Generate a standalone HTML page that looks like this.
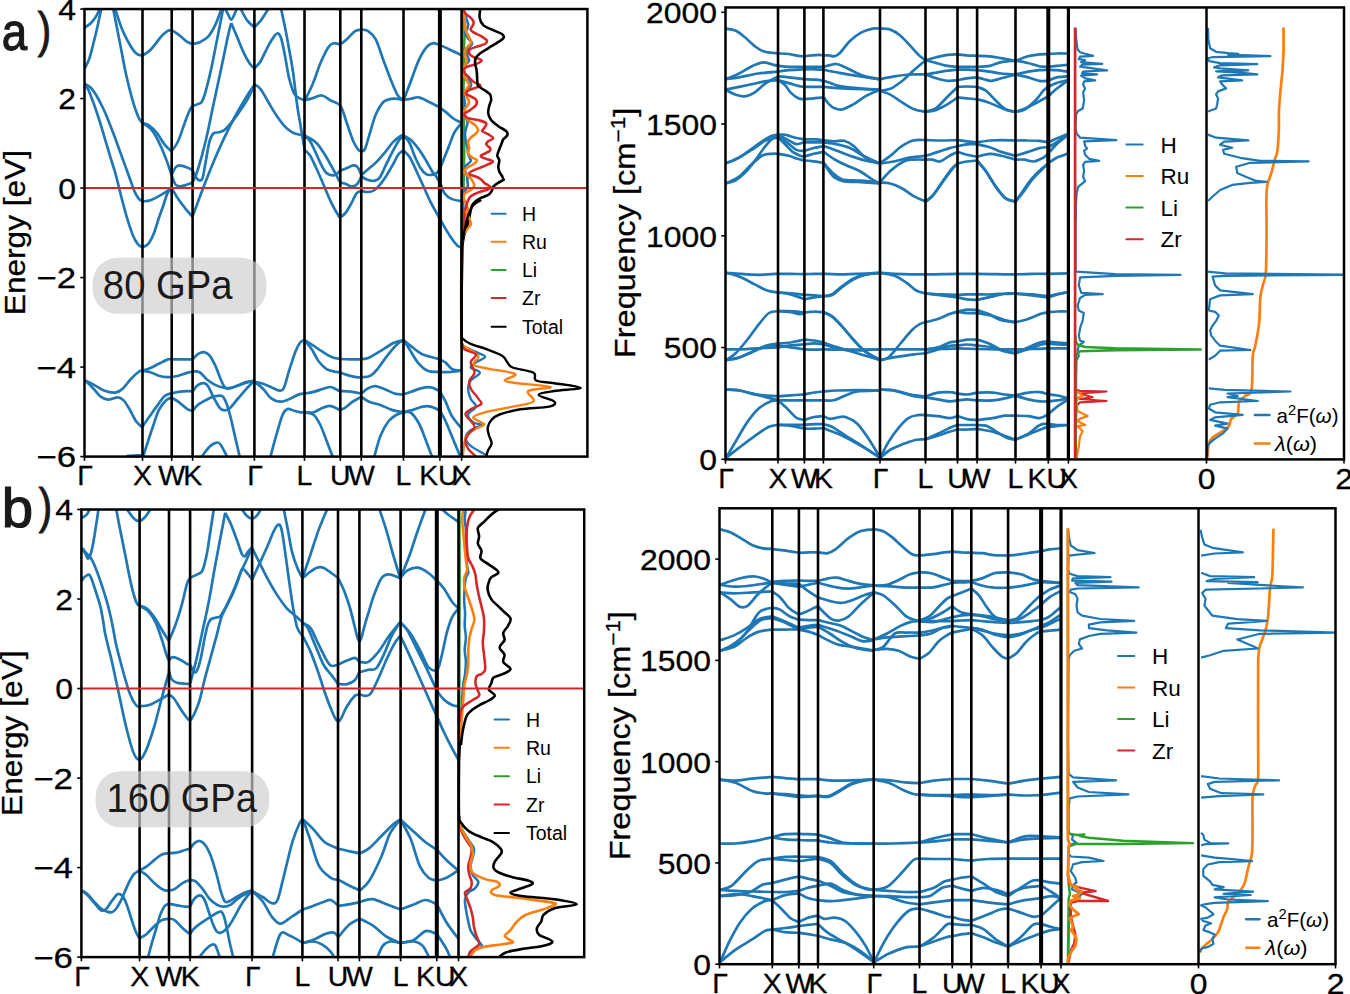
<!DOCTYPE html>
<html><head><meta charset="utf-8"><style>
html,body{margin:0;padding:0;background:#fff;width:1350px;height:994px;overflow:hidden}
svg{display:block}
</style></head><body>
<svg width="1350" height="994" viewBox="0 0 1350 994">
<rect x="0" y="0" width="1350" height="994" fill="#fff"/>
<clipPath id="cA"><rect x="84.5" y="9.1" width="502.9" height="447.6"/></clipPath>
<clipPath id="cB"><rect x="81.4" y="509.5" width="502.8" height="447.6"/></clipPath>
<clipPath id="cC"><rect x="725.5" y="7.5" width="618.5" height="451.9"/></clipPath>
<clipPath id="cD"><rect x="719.5" y="508.3" width="616.0" height="455.9"/></clipPath>
<path d="M84.7 27.5 C85.7 26.8 88.6 25.3 90.5 23.5 C92.3 21.8 94.0 19.6 95.7 17.0 C97.4 14.4 99.6 9.4 100.4 7.8" fill="none" stroke="#1f77b4" stroke-width="2.70" stroke-linejoin="round" stroke-linecap="butt" clip-path="url(#cA)"/>
<path d="M84.7 68.6 C85.5 66.9 87.8 62.9 89.2 58.9 C90.6 54.9 91.8 49.5 93.1 44.5 C94.4 39.5 95.6 34.9 97.0 28.8 C98.4 22.7 100.7 11.3 101.5 7.8" fill="none" stroke="#1f77b4" stroke-width="2.70" stroke-linejoin="round" stroke-linecap="butt" clip-path="url(#cA)"/>
<path d="M113.0 7.8 C114.0 13.1 117.1 28.3 119.2 39.2 C121.4 50.1 123.6 63.2 125.8 73.3 C128.0 83.3 130.3 92.2 132.3 99.4 C134.4 106.6 136.4 112.5 138.1 116.4 C139.7 120.4 141.6 121.9 142.3 123.0" fill="none" stroke="#1f77b4" stroke-width="2.70" stroke-linejoin="round" stroke-linecap="butt" clip-path="url(#cA)"/>
<path d="M114.8 7.8 C116.0 11.3 119.4 22.7 121.9 28.8 C124.3 34.9 127.3 40.3 129.7 44.5 C132.1 48.6 134.2 51.8 136.3 53.6 C138.3 55.5 141.3 55.4 142.3 55.7" fill="none" stroke="#1f77b4" stroke-width="2.70" stroke-linejoin="round" stroke-linecap="butt" clip-path="url(#cA)"/>
<path d="M142.3 55.7 C143.7 54.7 147.5 52.9 150.6 49.7 C153.8 46.5 158.3 39.8 161.1 36.6 C163.9 33.5 165.9 32.0 167.7 30.9 C169.4 29.8 170.9 30.2 171.6 30.1" fill="none" stroke="#1f77b4" stroke-width="2.70" stroke-linejoin="round" stroke-linecap="butt" clip-path="url(#cA)"/>
<path d="M142.3 123.0 C143.4 123.4 146.8 123.8 149.3 125.6 C151.8 127.3 154.6 130.2 157.2 133.4 C159.8 136.7 162.6 142.2 165.0 145.2 C167.4 148.2 170.5 150.2 171.6 151.2" fill="none" stroke="#1f77b4" stroke-width="2.70" stroke-linejoin="round" stroke-linecap="butt" clip-path="url(#cA)"/>
<path d="M142.3 123.0 C143.7 123.9 147.9 125.7 150.6 128.7 C153.3 131.8 155.9 136.1 158.5 141.3 C161.1 146.4 164.2 153.9 166.3 159.6 C168.5 165.3 170.7 172.7 171.6 175.3" fill="none" stroke="#1f77b4" stroke-width="2.70" stroke-linejoin="round" stroke-linecap="butt" clip-path="url(#cA)"/>
<path d="M142.3 201.5 C143.7 201.2 147.5 201.2 150.6 200.2 C153.8 199.1 157.6 197.0 161.1 194.9 C164.6 192.9 169.8 189.0 171.6 187.9" fill="none" stroke="#1f77b4" stroke-width="2.70" stroke-linejoin="round" stroke-linecap="butt" clip-path="url(#cA)"/>
<path d="M171.6 30.1 C172.9 31.0 176.8 33.4 179.4 35.3 C182.0 37.3 185.1 40.4 187.3 41.9 C189.5 43.3 191.6 43.6 192.5 44.0" fill="none" stroke="#1f77b4" stroke-width="2.70" stroke-linejoin="round" stroke-linecap="butt" clip-path="url(#cA)"/>
<path d="M171.6 151.2 C172.7 149.6 175.9 146.0 178.1 141.3 C180.3 136.6 182.7 128.2 184.7 123.0 C186.6 117.7 188.6 112.7 189.9 109.9 C191.2 107.1 192.1 106.6 192.5 106.0" fill="none" stroke="#1f77b4" stroke-width="2.70" stroke-linejoin="round" stroke-linecap="butt" clip-path="url(#cA)"/>
<path d="M171.6 175.3 C172.2 174.0 174.2 169.1 175.5 167.5 C176.8 165.8 177.5 165.4 179.4 165.4 C181.4 165.4 185.1 166.7 187.3 167.5 C189.5 168.2 191.6 169.6 192.5 170.1" fill="none" stroke="#1f77b4" stroke-width="2.70" stroke-linejoin="round" stroke-linecap="butt" clip-path="url(#cA)"/>
<path d="M171.6 175.3 C172.2 176.8 174.0 182.6 175.5 184.5 C177.0 186.3 178.8 186.3 180.7 186.3 C182.7 186.3 185.3 185.1 187.3 184.5 C189.2 183.8 191.6 182.9 192.5 182.6" fill="none" stroke="#1f77b4" stroke-width="2.70" stroke-linejoin="round" stroke-linecap="butt" clip-path="url(#cA)"/>
<path d="M171.6 187.9 C172.7 189.7 175.7 195.3 178.1 198.8 C180.5 202.4 183.6 206.3 186.0 209.3 C188.4 212.3 191.4 215.4 192.5 216.6" fill="none" stroke="#1f77b4" stroke-width="2.70" stroke-linejoin="round" stroke-linecap="butt" clip-path="url(#cA)"/>
<path d="M192.5 44.0 C193.8 43.6 197.7 43.1 200.4 41.9 C203.0 40.6 205.8 39.2 208.2 36.6 C210.6 34.0 212.8 30.1 214.7 26.2 C216.7 22.2 218.8 16.1 220.0 13.1 C221.1 10.0 221.3 8.7 221.5 7.8" fill="none" stroke="#1f77b4" stroke-width="2.70" stroke-linejoin="round" stroke-linecap="butt" clip-path="url(#cA)"/>
<path d="M192.5 106.0 C193.4 105.7 196.2 104.8 197.7 104.1 C199.3 103.5 200.4 104.1 201.7 102.0 C203.0 99.9 204.1 96.8 205.6 91.6 C207.1 86.3 209.1 78.5 210.8 70.6 C212.6 62.8 214.3 53.2 216.1 44.5 C217.8 35.8 220.1 24.4 221.3 18.3 C222.5 12.2 222.8 9.6 223.1 7.8" fill="none" stroke="#1f77b4" stroke-width="2.70" stroke-linejoin="round" stroke-linecap="butt" clip-path="url(#cA)"/>
<path d="M192.5 170.1 C193.2 171.4 195.1 176.2 196.4 177.9 C197.7 179.7 199.3 180.8 200.4 180.5 C201.4 180.3 202.1 179.7 203.0 176.6 C203.8 173.6 204.5 168.1 205.6 162.2 C206.7 156.3 208.2 146.1 209.5 141.3 C210.8 136.5 211.7 135.0 213.4 133.4 C215.2 131.9 217.8 133.0 220.0 132.1 C222.2 131.3 223.7 131.0 226.5 128.2 C229.4 125.4 233.5 119.9 237.0 115.1 C240.5 110.3 244.5 104.6 247.5 99.4 C250.4 94.3 253.6 86.8 254.8 84.2" fill="none" stroke="#1f77b4" stroke-width="2.70" stroke-linejoin="round" stroke-linecap="butt" clip-path="url(#cA)"/>
<path d="M192.5 182.6 C193.4 180.5 195.6 177.0 197.7 170.1 C199.9 163.2 203.0 152.2 205.6 141.3 C208.2 130.4 210.8 116.9 213.4 104.7 C216.1 92.4 218.9 79.4 221.3 68.0 C223.7 56.7 226.2 44.1 227.8 36.6 C229.5 29.1 230.7 25.3 231.2 23.0" fill="none" stroke="#1f77b4" stroke-width="2.70" stroke-linejoin="round" stroke-linecap="butt" clip-path="url(#cA)"/>
<path d="M231.2 23.0 C232.2 25.3 234.9 31.7 237.0 36.6 C239.0 41.5 241.3 47.7 243.5 52.3 C245.7 56.9 248.2 61.4 250.1 64.1 C251.9 66.8 254.0 67.8 254.8 68.6" fill="none" stroke="#1f77b4" stroke-width="2.70" stroke-linejoin="round" stroke-linecap="butt" clip-path="url(#cA)"/>
<path d="M192.5 216.6 C194.3 211.9 199.5 197.5 203.0 188.4 C206.5 179.3 209.9 170.5 213.4 162.2 C216.9 153.9 220.4 146.1 223.9 138.7 C227.4 131.3 230.9 124.3 234.4 117.7 C237.9 111.2 241.4 105.0 244.8 99.4 C248.2 93.8 253.1 86.8 254.8 84.2" fill="none" stroke="#1f77b4" stroke-width="2.70" stroke-linejoin="round" stroke-linecap="butt" clip-path="url(#cA)"/>
<path d="M224.7 7.8 C225.3 8.9 227.0 12.4 228.1 14.4 C229.2 16.4 230.2 19.6 231.2 19.6 C232.3 19.6 233.4 16.4 234.4 14.4 C235.3 12.4 236.5 8.9 237.0 7.8" fill="none" stroke="#1f77b4" stroke-width="2.70" stroke-linejoin="round" stroke-linecap="butt" clip-path="url(#cA)"/>
<path d="M240.1 7.8 C241.3 10.0 245.0 17.7 247.5 20.9 C249.9 24.2 253.6 26.4 254.8 27.5" fill="none" stroke="#1f77b4" stroke-width="2.70" stroke-linejoin="round" stroke-linecap="butt" clip-path="url(#cA)"/>
<path d="M84.5 83.8 C84.9 84.0 86.0 84.5 87.0 85.2 C88.0 85.9 89.5 86.5 90.8 87.7 C92.0 88.9 93.3 90.7 94.5 92.5 C95.7 94.3 96.9 96.3 98.1 98.5 C99.3 100.7 100.5 103.1 101.7 105.5 C102.9 107.9 104.1 110.3 105.3 113.0 C106.5 115.7 107.7 118.9 108.9 121.9 C110.1 124.9 111.3 127.9 112.5 131.1 C113.7 134.3 115.0 137.7 116.2 141.0 C117.4 144.3 118.6 147.7 119.8 151.0 C121.0 154.3 122.2 157.6 123.4 160.9 C124.6 164.2 125.8 167.5 127.0 170.8 C128.2 174.1 129.4 177.4 130.6 180.7 C131.8 184.0 133.1 188.1 134.2 190.7 C135.3 193.3 136.3 195.0 137.2 196.5 C138.1 198.0 138.8 199.0 139.7 199.8 C140.6 200.6 141.9 201.0 142.4 201.2" fill="none" stroke="#1f77b4" stroke-width="2.70" stroke-linejoin="round" stroke-linecap="butt" clip-path="url(#cA)"/>
<path d="M84.5 83.8 C84.8 84.2 85.8 85.2 86.5 86.5 C87.2 87.8 87.7 88.1 89.0 91.3 C90.3 94.5 92.7 100.6 94.5 105.7 C96.3 110.8 98.1 116.3 99.9 122.0 C101.7 127.7 103.5 134.1 105.3 140.1 C107.1 146.1 108.9 152.2 110.7 158.2 C112.5 164.2 114.4 169.7 116.2 176.3 C118.0 182.9 119.8 191.1 121.6 198.0 C123.4 204.9 125.2 211.9 127.0 217.9 C128.8 223.9 131.0 230.3 132.4 234.1 C133.8 237.9 134.6 238.8 135.5 240.5 C136.4 242.2 137.2 243.2 137.9 244.1 C138.7 245.0 139.2 245.6 140.0 246.0 C140.8 246.4 141.6 246.8 142.4 246.8 C143.2 246.8 144.2 246.6 145.0 246.2 C145.8 245.8 146.7 245.3 147.5 244.5 C148.3 243.7 148.9 243.3 150.0 241.4 C151.1 239.5 152.6 236.6 154.0 233.0 C155.4 229.4 156.8 224.3 158.2 220.0 C159.6 215.7 161.2 211.6 162.7 207.3 C164.2 203.0 165.6 197.4 167.1 194.1 C168.6 190.8 170.9 188.7 171.7 187.6" fill="none" stroke="#1f77b4" stroke-width="2.70" stroke-linejoin="round" stroke-linecap="butt" clip-path="url(#cA)"/>
<path d="M254.2 27.5 C255.2 26.4 258.5 23.3 260.5 20.9 C262.4 18.5 264.3 15.3 265.7 13.1 C267.1 10.9 268.3 8.7 268.8 7.8" fill="none" stroke="#1f77b4" stroke-width="2.70" stroke-linejoin="round" stroke-linecap="butt" clip-path="url(#cA)"/>
<path d="M254.2 68.6 C255.2 67.4 258.1 65.3 260.5 61.5 C262.8 57.7 265.9 50.1 268.3 45.8 C270.7 41.4 273.2 37.4 274.9 35.3 C276.5 33.3 277.2 32.8 278.3 33.5 C279.3 34.1 280.2 35.2 281.4 39.2 C282.6 43.3 284.0 51.0 285.3 57.6 C286.6 64.1 287.7 72.4 289.2 78.5 C290.8 84.6 292.5 90.8 294.5 94.2 C296.4 97.6 299.3 97.9 301.0 98.9 C302.8 99.9 304.3 100.0 304.9 100.2" fill="none" stroke="#1f77b4" stroke-width="2.70" stroke-linejoin="round" stroke-linecap="butt" clip-path="url(#cA)"/>
<path d="M254.2 84.2 C255.2 85.0 258.1 86.0 260.5 89.0 C262.8 91.9 265.7 97.7 268.3 102.0 C270.9 106.4 273.5 111.2 276.2 115.1 C278.8 119.0 281.4 122.8 284.0 125.6 C286.6 128.4 289.2 130.6 291.9 132.1 C294.5 133.7 297.5 134.2 299.7 134.7 C301.9 135.3 304.1 135.4 304.9 135.5" fill="none" stroke="#1f77b4" stroke-width="2.70" stroke-linejoin="round" stroke-linecap="butt" clip-path="url(#cA)"/>
<path d="M280.9 7.8 C281.6 11.3 283.9 21.8 285.3 28.8 C286.7 35.8 287.9 42.3 289.2 49.7 C290.6 57.1 291.9 64.1 293.2 73.3 C294.5 82.4 295.8 95.5 297.1 104.7 C298.4 113.8 299.9 121.7 301.0 128.2 C302.1 134.7 303.0 140.4 303.6 143.9 C304.3 147.4 304.7 148.3 304.9 149.1" fill="none" stroke="#1f77b4" stroke-width="2.70" stroke-linejoin="round" stroke-linecap="butt" clip-path="url(#cA)"/>
<path d="M304.9 100.2 C306.3 97.5 310.2 90.0 312.8 83.7 C315.4 77.5 318.0 68.9 320.6 62.8 C323.3 56.7 326.3 50.4 328.5 47.1 C330.7 43.8 331.7 43.7 333.7 43.2 C335.7 42.6 338.3 44.6 340.5 44.0 C342.7 43.3 344.5 41.3 346.8 39.2 C349.2 37.2 352.2 33.0 354.7 31.4 C357.1 29.8 359.3 29.7 361.5 29.6 C363.6 29.5 365.4 29.3 367.7 30.9 C370.1 32.5 373.0 34.4 375.6 39.2 C378.2 44.1 380.8 53.2 383.4 60.2 C386.1 67.2 388.9 75.2 391.3 81.1 C393.7 87.0 395.8 92.3 397.8 95.5 C399.9 98.7 402.6 99.4 403.6 100.2" fill="none" stroke="#1f77b4" stroke-width="2.70" stroke-linejoin="round" stroke-linecap="butt" clip-path="url(#cA)"/>
<path d="M304.9 100.2 C306.3 99.9 310.0 98.9 312.8 98.1 C315.6 97.3 318.9 95.1 322.0 95.5 C325.0 95.9 328.0 99.0 331.1 100.7 C334.2 102.5 337.9 102.3 340.5 106.0 C343.1 109.7 344.7 117.1 346.8 123.0 C348.9 128.9 351.5 136.9 353.3 141.3 C355.2 145.6 356.4 147.4 357.8 149.1 C359.1 150.8 360.2 151.6 361.5 151.5 C362.7 151.4 363.9 151.2 365.1 148.6 C366.4 146.0 367.3 141.6 369.0 136.1 C370.8 130.5 373.2 120.8 375.6 115.1 C378.0 109.5 380.8 104.7 383.4 102.0 C386.1 99.3 388.9 99.4 391.3 98.9 C393.7 98.4 395.8 98.7 397.8 98.9 C399.9 99.1 402.6 100.0 403.6 100.2" fill="none" stroke="#1f77b4" stroke-width="2.70" stroke-linejoin="round" stroke-linecap="butt" clip-path="url(#cA)"/>
<path d="M304.4 135.5 C306.2 136.6 312.4 139.3 315.5 142.1 C318.6 144.9 320.6 148.2 323.2 152.1 C325.8 156.0 328.8 161.5 331.0 165.4 C333.2 169.3 335.0 172.6 336.5 175.4 C338.0 178.2 338.6 180.6 340.1 182.0 C341.6 183.4 343.6 183.0 345.4 183.7 C347.2 184.4 349.3 186.1 351.0 186.4 C352.7 186.7 354.2 186.2 355.5 185.5 C356.8 184.8 357.6 183.7 358.5 182.2 C359.4 180.7 360.8 177.5 361.2 176.6" fill="none" stroke="#1f77b4" stroke-width="2.70" stroke-linejoin="round" stroke-linecap="butt" clip-path="url(#cA)"/>
<path d="M304.4 135.5 C305.3 136.4 308.0 138.2 309.9 141.0 C311.8 143.8 313.6 148.2 315.5 152.1 C317.4 156.0 319.2 160.8 321.0 164.3 C322.8 167.8 324.6 171.2 326.5 173.1 C328.4 174.9 330.4 175.2 332.1 175.4 C333.8 175.6 335.2 174.9 336.5 174.2 C337.8 173.4 338.6 171.8 340.1 170.9 C341.6 170.0 343.2 169.6 345.4 168.7 C347.6 167.8 351.2 165.8 353.1 165.4 C355.0 165.0 355.5 165.5 356.5 166.2 C357.5 166.9 358.2 168.0 359.0 169.5 C359.8 171.0 360.8 174.2 361.2 175.1" fill="none" stroke="#1f77b4" stroke-width="2.70" stroke-linejoin="round" stroke-linecap="butt" clip-path="url(#cA)"/>
<path d="M304.4 149.9 C305.3 150.8 308.0 152.5 309.9 155.3 C311.8 158.1 313.6 162.6 315.5 166.5 C317.4 170.4 319.2 174.5 321.0 178.7 C322.8 182.9 324.7 187.7 326.5 191.9 C328.3 196.1 330.1 200.4 332.0 204.1 C333.9 207.8 336.2 212.0 337.6 214.1 C339.0 216.2 338.8 217.1 340.1 216.9 C341.4 216.7 343.6 215.1 345.4 213.0 C347.2 210.9 349.1 207.3 350.9 204.1 C352.7 200.9 354.7 195.8 356.4 193.6 C358.1 191.4 360.4 191.3 361.2 190.9" fill="none" stroke="#1f77b4" stroke-width="2.70" stroke-linejoin="round" stroke-linecap="butt" clip-path="url(#cA)"/>
<path d="M361.2 175.1 C362.2 174.2 365.0 172.0 367.5 169.8 C370.0 167.6 373.4 165.1 376.3 162.1 C379.2 159.1 382.4 155.4 385.2 152.1 C388.0 148.8 390.4 144.8 393.0 142.1 C395.6 139.4 399.0 137.1 400.7 136.0 C402.4 134.9 402.7 135.6 403.1 135.5" fill="none" stroke="#1f77b4" stroke-width="2.70" stroke-linejoin="round" stroke-linecap="butt" clip-path="url(#cA)"/>
<path d="M361.2 176.6 C362.2 177.1 365.4 179.1 367.5 179.8 C369.6 180.5 372.1 181.3 374.1 180.9 C376.1 180.5 377.9 180.0 379.7 177.6 C381.5 175.2 383.2 170.6 385.2 166.5 C387.2 162.4 389.6 157.4 391.8 153.2 C394.0 148.9 396.6 143.9 398.5 141.0 C400.4 138.1 402.3 136.8 403.1 136.0" fill="none" stroke="#1f77b4" stroke-width="2.70" stroke-linejoin="round" stroke-linecap="butt" clip-path="url(#cA)"/>
<path d="M361.2 190.9 C362.2 191.1 365.5 192.0 367.5 192.0 C369.5 192.0 371.1 191.8 373.0 190.9 C374.9 190.0 376.6 188.6 378.6 186.4 C380.6 184.2 382.8 181.3 385.2 177.6 C387.6 173.9 390.8 168.2 393.0 164.3 C395.2 160.4 396.8 156.6 398.5 154.3 C400.2 152.0 402.3 151.1 403.1 150.4" fill="none" stroke="#1f77b4" stroke-width="2.70" stroke-linejoin="round" stroke-linecap="butt" clip-path="url(#cA)"/>
<path d="M403.4 135.5 C404.6 136.2 408.1 137.3 410.7 139.7 C413.3 142.0 416.5 146.1 419.1 149.6 C421.7 153.1 424.1 157.3 426.2 160.8 C428.3 164.3 430.2 168.1 431.8 170.7 C433.4 173.3 434.6 174.2 436.0 176.3 C437.4 178.4 438.9 180.6 440.3 183.4 C441.7 186.2 442.6 190.6 444.5 193.2 C446.4 195.8 448.7 197.6 451.5 198.9 C454.3 200.2 459.8 200.9 461.5 201.3" fill="none" stroke="#1f77b4" stroke-width="2.70" stroke-linejoin="round" stroke-linecap="butt" clip-path="url(#cA)"/>
<path d="M403.4 135.5 C404.4 136.7 407.4 139.0 409.3 142.5 C411.2 146.0 413.0 152.4 414.9 156.6 C416.8 160.8 418.6 165.0 420.5 167.9 C422.4 170.8 424.3 173.0 426.2 174.2 C428.1 175.4 430.2 175.0 431.8 174.9 C433.4 174.8 434.7 174.4 436.0 173.5 C437.3 172.6 438.3 171.4 439.5 169.3 C440.7 167.2 441.6 164.6 443.1 160.8 C444.6 157.1 446.8 151.5 448.7 146.8 C450.6 142.1 452.2 136.6 454.3 132.7 C456.4 128.8 460.3 124.8 461.5 123.2" fill="none" stroke="#1f77b4" stroke-width="2.70" stroke-linejoin="round" stroke-linecap="butt" clip-path="url(#cA)"/>
<path d="M403.4 150.3 C404.4 151.4 407.1 153.2 409.3 156.6 C411.5 160.0 414.0 165.8 416.3 170.7 C418.6 175.6 421.0 181.0 423.4 186.2 C425.8 191.4 428.1 197.0 430.4 201.7 C432.7 206.4 435.0 210.2 437.4 214.4 C439.8 218.6 442.1 223.0 444.5 227.0 C446.9 231.0 449.4 235.2 451.5 238.3 C453.6 241.4 455.5 243.9 457.2 245.4 C458.9 246.9 460.8 247.2 461.5 247.5" fill="none" stroke="#1f77b4" stroke-width="2.70" stroke-linejoin="round" stroke-linecap="butt" clip-path="url(#cA)"/>
<path d="M403.6 100.1 C404.8 96.9 408.4 87.7 410.9 81.0 C413.4 74.4 416.1 65.8 418.8 60.1 C421.4 54.5 424.2 49.9 426.6 47.1 C429.0 44.2 431.0 43.5 433.1 43.1 C435.2 42.8 436.8 44.1 439.2 45.0 C441.5 45.8 444.8 47.1 447.5 48.4 C450.2 49.6 453.0 51.1 455.4 52.3 C457.8 53.5 460.8 54.9 461.9 55.4" fill="none" stroke="#1f77b4" stroke-width="2.70" stroke-linejoin="round" stroke-linecap="butt" clip-path="url(#cA)"/>
<path d="M403.6 100.1 C404.8 99.9 408.4 99.3 410.9 98.8 C413.4 98.3 416.1 96.9 418.8 97.3 C421.4 97.6 424.0 99.4 426.6 100.7 C429.2 101.9 432.4 103.5 434.4 104.6 C436.5 105.7 437.2 105.9 439.2 107.2 C441.1 108.5 443.7 110.5 446.2 112.4 C448.7 114.4 451.4 117.2 454.1 119.0 C456.7 120.7 460.6 122.2 461.9 122.9" fill="none" stroke="#1f77b4" stroke-width="2.70" stroke-linejoin="round" stroke-linecap="butt" clip-path="url(#cA)"/>
<path d="M85.3 380.7 C86.8 381.4 91.0 383.2 94.1 384.9 C97.2 386.5 100.4 389.2 103.9 390.5 C107.4 391.8 112.1 392.9 115.2 392.6 C118.2 392.4 119.6 391.3 122.2 389.1 C124.8 386.9 127.9 382.2 130.7 379.3 C133.5 376.3 137.2 372.9 139.1 371.5 C141.0 370.1 141.7 370.9 142.2 370.8" fill="none" stroke="#1f77b4" stroke-width="2.70" stroke-linejoin="round" stroke-linecap="butt" clip-path="url(#cA)"/>
<path d="M85.3 380.7 C86.6 381.8 90.0 385.0 92.7 387.7 C95.3 390.4 98.5 394.9 101.1 396.9 C103.7 398.8 105.3 399.6 108.1 399.7 C111.0 399.7 115.4 397.2 118.0 397.3 C120.6 397.4 121.8 398.4 123.6 400.4 C125.5 402.3 127.1 405.3 129.3 408.8 C131.4 412.3 134.1 418.4 136.3 421.5 C138.5 424.5 141.2 426.2 142.2 427.1" fill="none" stroke="#1f77b4" stroke-width="2.70" stroke-linejoin="round" stroke-linecap="butt" clip-path="url(#cA)"/>
<path d="M126.4 456.0 C128.1 455.9 133.7 455.5 136.3 455.4 C138.9 455.3 141.2 455.2 142.2 455.1" fill="none" stroke="#1f77b4" stroke-width="2.70" stroke-linejoin="round" stroke-linecap="butt" clip-path="url(#cA)"/>
<path d="M142.2 370.8 C143.6 370.3 147.6 369.2 150.4 368.0 C153.1 366.8 156.0 365.2 158.8 363.8 C161.6 362.4 165.2 360.3 167.3 359.6 C169.4 358.8 170.8 359.3 171.5 359.3" fill="none" stroke="#1f77b4" stroke-width="2.70" stroke-linejoin="round" stroke-linecap="butt" clip-path="url(#cA)"/>
<path d="M142.2 370.8 C143.6 371.1 147.6 371.4 150.4 372.2 C153.1 373.0 156.0 374.9 158.8 375.7 C161.6 376.6 165.2 377.0 167.3 377.1 C169.4 377.3 170.8 376.9 171.5 376.9" fill="none" stroke="#1f77b4" stroke-width="2.70" stroke-linejoin="round" stroke-linecap="butt" clip-path="url(#cA)"/>
<path d="M142.2 427.1 C143.3 425.5 146.7 420.5 149.0 417.3 C151.3 414.0 153.4 410.9 156.0 407.4 C158.6 403.9 161.9 398.5 164.4 396.2 C167.0 393.8 170.3 393.8 171.5 393.3" fill="none" stroke="#1f77b4" stroke-width="2.70" stroke-linejoin="round" stroke-linecap="butt" clip-path="url(#cA)"/>
<path d="M143.3 456.0 C144.0 453.7 145.9 447.6 147.6 442.6 C149.2 437.6 151.3 431.1 153.2 425.7 C155.1 420.3 156.7 414.4 158.8 410.2 C160.9 406.0 163.7 402.5 165.9 400.4 C168.0 398.3 170.5 398.0 171.5 397.6" fill="none" stroke="#1f77b4" stroke-width="2.70" stroke-linejoin="round" stroke-linecap="butt" clip-path="url(#cA)"/>
<path d="M171.5 359.3 C172.7 359.3 175.9 359.3 178.5 359.3 C181.1 359.3 184.6 359.3 187.0 359.3 C189.3 359.3 191.7 359.3 192.6 359.3" fill="none" stroke="#1f77b4" stroke-width="2.70" stroke-linejoin="round" stroke-linecap="butt" clip-path="url(#cA)"/>
<path d="M171.5 376.9 C172.7 376.7 175.9 376.4 178.5 375.7 C181.1 375.1 184.6 373.6 187.0 372.9 C189.3 372.2 191.7 371.8 192.6 371.5" fill="none" stroke="#1f77b4" stroke-width="2.70" stroke-linejoin="round" stroke-linecap="butt" clip-path="url(#cA)"/>
<path d="M171.5 393.3 C172.7 393.1 175.9 392.3 178.5 391.9 C181.1 391.6 184.6 391.3 187.0 391.2 C189.3 391.1 191.7 391.2 192.6 391.2" fill="none" stroke="#1f77b4" stroke-width="2.70" stroke-linejoin="round" stroke-linecap="butt" clip-path="url(#cA)"/>
<path d="M171.5 397.6 C172.7 398.3 175.9 399.9 178.5 401.8 C181.1 403.7 184.6 407.3 187.0 408.8 C189.3 410.3 191.7 410.6 192.6 410.9" fill="none" stroke="#1f77b4" stroke-width="2.70" stroke-linejoin="round" stroke-linecap="butt" clip-path="url(#cA)"/>
<path d="M192.6 359.3 C193.5 358.4 196.3 355.1 198.2 353.9 C200.1 352.8 202.0 352.0 203.9 352.2 C205.7 352.5 207.6 353.2 209.5 355.3 C211.4 357.5 213.2 361.2 215.1 365.2 C217.0 369.2 219.1 375.5 220.7 379.3 C222.4 383.0 223.6 386.2 225.0 387.7 C226.4 389.2 227.1 388.8 229.2 388.4 C231.3 388.1 234.8 386.7 237.6 385.6 C240.5 384.5 243.3 382.9 246.1 382.1 C248.9 381.3 253.1 380.9 254.5 380.7" fill="none" stroke="#1f77b4" stroke-width="2.70" stroke-linejoin="round" stroke-linecap="butt" clip-path="url(#cA)"/>
<path d="M192.6 371.5 C193.8 371.6 197.3 370.9 199.6 372.2 C202.0 373.5 204.1 377.1 206.7 379.3 C209.3 381.4 212.3 383.5 215.1 384.9 C217.9 386.3 220.7 387.2 223.6 387.7 C226.4 388.2 229.0 388.3 232.0 387.7 C235.1 387.1 238.1 385.4 241.9 384.2 C245.6 383.0 252.4 381.3 254.5 380.7" fill="none" stroke="#1f77b4" stroke-width="2.70" stroke-linejoin="round" stroke-linecap="butt" clip-path="url(#cA)"/>
<path d="M192.6 391.2 C193.5 390.2 196.3 386.2 198.2 384.9 C200.1 383.6 202.2 383.0 203.9 383.2 C205.5 383.4 206.4 383.9 208.1 386.3 C209.7 388.7 211.8 394.0 213.7 397.6 C215.6 401.1 217.7 405.3 219.3 407.4 C221.0 409.5 221.9 410.0 223.6 410.2 C225.2 410.5 226.8 410.7 229.2 408.8 C231.5 406.9 234.8 402.2 237.6 399.0 C240.5 395.7 243.3 392.2 246.1 389.1 C248.9 386.1 253.1 382.1 254.5 380.7" fill="none" stroke="#1f77b4" stroke-width="2.70" stroke-linejoin="round" stroke-linecap="butt" clip-path="url(#cA)"/>
<path d="M192.6 410.9 C193.5 409.9 195.9 406.5 198.2 404.6 C200.6 402.7 203.9 401.1 206.7 399.7 C209.5 398.3 212.5 396.7 215.1 396.2 C217.7 395.6 220.3 395.0 222.2 396.2 C224.0 397.3 225.0 399.7 226.4 403.2 C227.8 406.7 229.2 411.9 230.6 417.3 C232.0 422.7 233.3 429.0 234.8 435.6 C236.3 442.1 238.9 453.2 239.7 456.7" fill="none" stroke="#1f77b4" stroke-width="2.70" stroke-linejoin="round" stroke-linecap="butt" clip-path="url(#cA)"/>
<path d="M201.7 456.7 C203.0 455.0 207.0 449.2 209.5 446.8 C211.9 444.5 214.6 442.9 216.5 442.6 C218.4 442.2 219.0 442.4 220.7 444.7 C222.5 447.1 226.0 454.7 227.1 456.7" fill="none" stroke="#1f77b4" stroke-width="2.70" stroke-linejoin="round" stroke-linecap="butt" clip-path="url(#cA)"/>
<path d="M254.6 381.8 C256.0 382.2 260.0 382.8 263.0 383.8 C266.1 384.8 270.0 386.7 272.8 387.9 C275.7 389.0 278.2 390.8 280.1 390.6 C282.1 390.5 282.7 390.4 284.2 387.0 C285.7 383.7 287.2 376.7 289.1 370.7 C291.0 364.8 293.7 355.9 295.6 351.2 C297.5 346.4 299.0 344.1 300.5 342.2 C302.0 340.4 303.9 340.5 304.6 340.1" fill="none" stroke="#1f77b4" stroke-width="2.70" stroke-linejoin="round" stroke-linecap="butt" clip-path="url(#cA)"/>
<path d="M254.6 381.8 C256.0 383.0 260.3 385.9 263.0 388.7 C265.8 391.4 268.2 396.3 271.2 398.4 C274.2 400.6 277.7 401.7 281.0 401.7 C284.2 401.7 287.8 399.7 290.7 398.4 C293.7 397.2 296.6 395.2 298.9 394.4 C301.2 393.6 303.6 393.7 304.6 393.6" fill="none" stroke="#1f77b4" stroke-width="2.70" stroke-linejoin="round" stroke-linecap="butt" clip-path="url(#cA)"/>
<path d="M270.4 457.1 C271.3 453.6 274.0 443.0 276.1 435.9 C278.1 428.9 280.7 419.2 282.6 414.7 C284.5 410.3 285.6 409.7 287.5 409.0 C289.4 408.4 291.8 410.1 294.0 410.7 C296.2 411.2 298.8 412.0 300.5 412.3 C302.3 412.6 303.9 412.3 304.6 412.3" fill="none" stroke="#1f77b4" stroke-width="2.70" stroke-linejoin="round" stroke-linecap="butt" clip-path="url(#cA)"/>
<path d="M304.6 340.1 C305.8 340.9 309.1 342.8 311.9 344.7 C314.8 346.5 318.4 349.1 321.7 351.2 C325.0 353.2 328.5 355.6 331.5 356.9 C334.5 358.2 338.3 358.7 339.6 359.0" fill="none" stroke="#1f77b4" stroke-width="2.70" stroke-linejoin="round" stroke-linecap="butt" clip-path="url(#cA)"/>
<path d="M304.6 340.1 C305.8 341.7 309.6 346.1 311.9 349.6 C314.2 353.0 316.0 357.7 318.4 361.0 C320.9 364.2 323.9 367.3 326.6 369.1 C329.3 370.9 332.6 371.0 334.7 371.6 C336.9 372.1 338.8 372.2 339.6 372.4" fill="none" stroke="#1f77b4" stroke-width="2.70" stroke-linejoin="round" stroke-linecap="butt" clip-path="url(#cA)"/>
<path d="M304.6 393.6 C306.1 393.3 310.4 392.7 313.6 391.9 C316.7 391.1 320.5 389.5 323.3 388.7 C326.2 387.9 328.5 386.9 330.7 387.0 C332.8 387.2 334.9 388.8 336.4 389.5 C337.9 390.2 339.1 390.8 339.6 391.1" fill="none" stroke="#1f77b4" stroke-width="2.70" stroke-linejoin="round" stroke-linecap="butt" clip-path="url(#cA)"/>
<path d="M304.6 412.3 C306.1 412.3 310.7 413.0 313.6 412.3 C316.4 411.6 319.0 409.3 321.7 408.2 C324.4 407.1 327.4 405.8 329.9 405.8 C332.3 405.8 334.7 407.5 336.4 408.2 C338.0 408.9 339.1 409.6 339.6 409.9" fill="none" stroke="#1f77b4" stroke-width="2.70" stroke-linejoin="round" stroke-linecap="butt" clip-path="url(#cA)"/>
<path d="M304.6 412.3 C306.1 412.7 311.0 412.7 313.6 414.7 C316.1 416.8 317.9 420.2 320.1 424.5 C322.3 428.9 324.5 435.4 326.6 440.8 C328.7 446.3 331.8 454.4 332.8 457.1" fill="none" stroke="#1f77b4" stroke-width="2.70" stroke-linejoin="round" stroke-linecap="butt" clip-path="url(#cA)"/>
<path d="M339.6 359.0 C341.5 359.1 347.4 359.3 351.0 359.3 C354.7 359.4 359.6 359.3 361.3 359.3" fill="none" stroke="#1f77b4" stroke-width="2.70" stroke-linejoin="round" stroke-linecap="butt" clip-path="url(#cA)"/>
<path d="M339.6 372.4 C341.3 372.9 346.4 374.8 349.4 375.6 C352.4 376.4 355.6 377.0 357.6 377.3 C359.5 377.5 360.7 377.3 361.3 377.3" fill="none" stroke="#1f77b4" stroke-width="2.70" stroke-linejoin="round" stroke-linecap="butt" clip-path="url(#cA)"/>
<path d="M339.6 391.1 C341.5 391.2 347.4 391.2 351.0 391.6 C354.7 392.0 359.6 393.2 361.3 393.6" fill="none" stroke="#1f77b4" stroke-width="2.70" stroke-linejoin="round" stroke-linecap="butt" clip-path="url(#cA)"/>
<path d="M339.6 409.9 C340.4 409.6 342.4 409.6 344.5 408.2 C346.7 406.9 349.9 403.6 352.7 401.7 C355.5 399.8 359.9 397.6 361.3 396.8" fill="none" stroke="#1f77b4" stroke-width="2.70" stroke-linejoin="round" stroke-linecap="butt" clip-path="url(#cA)"/>
<path d="M361.3 359.3 C362.6 359.1 365.8 359.1 369.0 357.7 C372.1 356.3 376.3 353.6 380.4 351.2 C384.5 348.7 389.6 344.9 393.4 343.0 C397.3 341.2 401.8 340.6 403.5 340.1" fill="none" stroke="#1f77b4" stroke-width="2.70" stroke-linejoin="round" stroke-linecap="butt" clip-path="url(#cA)"/>
<path d="M361.3 377.3 C362.9 377.0 367.7 377.3 370.6 375.6 C373.5 374.0 376.0 370.7 378.7 367.5 C381.5 364.2 383.9 359.9 386.9 356.1 C389.9 352.3 393.9 347.3 396.7 344.7 C399.4 342.0 402.4 340.9 403.5 340.1" fill="none" stroke="#1f77b4" stroke-width="2.70" stroke-linejoin="round" stroke-linecap="butt" clip-path="url(#cA)"/>
<path d="M361.3 393.6 C362.3 392.7 365.0 389.9 367.3 388.7 C369.7 387.4 372.5 386.1 375.5 386.2 C378.5 386.4 382.0 388.3 385.3 389.5 C388.5 390.7 392.0 392.7 395.0 393.6 C398.1 394.4 402.1 394.2 403.5 394.4" fill="none" stroke="#1f77b4" stroke-width="2.70" stroke-linejoin="round" stroke-linecap="butt" clip-path="url(#cA)"/>
<path d="M361.3 396.8 C362.6 397.6 365.8 400.3 369.0 401.7 C372.1 403.1 376.6 403.6 380.4 405.0 C384.2 406.3 387.9 408.6 391.8 409.9 C395.6 411.1 401.6 411.9 403.5 412.3" fill="none" stroke="#1f77b4" stroke-width="2.70" stroke-linejoin="round" stroke-linecap="butt" clip-path="url(#cA)"/>
<path d="M374.2 457.1 C375.2 453.6 378.0 441.9 380.4 435.9 C382.8 430.0 385.8 424.8 388.5 421.3 C391.2 417.7 394.2 416.2 396.7 414.7 C399.2 413.3 402.4 412.7 403.5 412.3" fill="none" stroke="#1f77b4" stroke-width="2.70" stroke-linejoin="round" stroke-linecap="butt" clip-path="url(#cA)"/>
<path d="M403.5 340.1 C404.8 341.1 408.1 343.9 411.3 346.3 C414.5 348.7 418.0 352.3 422.8 354.4 C427.5 356.6 437.0 358.5 439.9 359.3" fill="none" stroke="#1f77b4" stroke-width="2.70" stroke-linejoin="round" stroke-linecap="butt" clip-path="url(#cA)"/>
<path d="M403.5 340.1 C404.6 341.7 407.3 345.8 409.7 349.6 C412.1 353.3 414.9 359.1 417.9 362.6 C420.8 366.1 424.0 369.2 427.6 370.7 C431.3 372.3 437.8 371.8 439.9 372.0" fill="none" stroke="#1f77b4" stroke-width="2.70" stroke-linejoin="round" stroke-linecap="butt" clip-path="url(#cA)"/>
<path d="M403.5 394.4 C405.1 393.8 409.8 392.2 413.0 391.1 C416.2 390.0 419.8 388.5 422.8 387.9 C425.7 387.2 428.0 386.8 430.9 387.4 C433.8 387.9 438.4 390.5 439.9 391.1" fill="none" stroke="#1f77b4" stroke-width="2.70" stroke-linejoin="round" stroke-linecap="butt" clip-path="url(#cA)"/>
<path d="M403.5 412.3 C405.1 411.9 409.8 410.8 413.0 409.9 C416.2 408.9 419.8 407.1 422.8 406.6 C425.7 406.1 428.0 405.9 430.9 406.6 C433.8 407.3 438.4 410.0 439.9 410.7" fill="none" stroke="#1f77b4" stroke-width="2.70" stroke-linejoin="round" stroke-linecap="butt" clip-path="url(#cA)"/>
<path d="M403.5 412.3 C404.8 412.4 408.7 411.1 411.3 413.1 C414.0 415.2 417.0 419.9 419.5 424.5 C421.9 429.1 423.9 435.4 426.0 440.8 C428.1 446.3 431.2 454.4 432.2 457.1" fill="none" stroke="#1f77b4" stroke-width="2.70" stroke-linejoin="round" stroke-linecap="butt" clip-path="url(#cA)"/>
<path d="M439.9 359.3 C440.8 359.9 443.5 361.0 445.6 362.6 C447.6 364.2 449.5 367.8 452.1 369.1 C454.7 370.5 459.6 370.5 461.0 370.7" fill="none" stroke="#1f77b4" stroke-width="2.70" stroke-linejoin="round" stroke-linecap="butt" clip-path="url(#cA)"/>
<path d="M439.9 372.0 C441.6 372.0 446.9 372.3 450.5 372.0 C454.0 371.8 459.3 371.0 461.0 370.7" fill="none" stroke="#1f77b4" stroke-width="2.70" stroke-linejoin="round" stroke-linecap="butt" clip-path="url(#cA)"/>
<path d="M439.9 391.1 C440.8 392.9 443.5 397.5 445.6 401.7 C447.6 405.9 449.5 412.0 452.1 416.4 C454.7 420.7 459.6 425.9 461.0 427.8" fill="none" stroke="#1f77b4" stroke-width="2.70" stroke-linejoin="round" stroke-linecap="butt" clip-path="url(#cA)"/>
<path d="M439.9 410.7 C440.8 412.4 443.3 416.2 445.6 421.3 C447.9 426.3 451.2 434.8 453.7 440.8 C456.2 446.8 459.4 454.4 460.6 457.1" fill="none" stroke="#1f77b4" stroke-width="2.70" stroke-linejoin="round" stroke-linecap="butt" clip-path="url(#cA)"/>
<path d="M81.2 518.1 C82.1 517.5 84.9 516.6 86.5 514.9 C88.0 513.3 89.7 509.3 90.4 508.1" fill="none" stroke="#1f77b4" stroke-width="2.70" stroke-linejoin="round" stroke-linecap="butt" clip-path="url(#cB)"/>
<path d="M81.2 548.1 C81.9 549.0 84.1 551.6 85.2 553.4 C86.2 555.1 86.9 558.4 87.8 558.6 C88.6 558.8 89.5 557.1 90.4 554.7 C91.3 552.3 92.1 548.6 93.0 544.2 C93.9 539.9 94.6 534.5 95.6 528.5 C96.6 522.5 98.2 511.5 98.7 508.1" fill="none" stroke="#1f77b4" stroke-width="2.70" stroke-linejoin="round" stroke-linecap="butt" clip-path="url(#cB)"/>
<path d="M116.0 508.1 C116.7 512.0 118.8 523.0 120.4 531.1 C122.1 539.3 123.9 548.6 125.7 557.3 C127.4 566.0 129.2 576.0 130.9 583.4 C132.6 590.8 134.7 598.0 136.1 601.7 C137.5 605.4 138.7 605.0 139.3 605.7" fill="none" stroke="#1f77b4" stroke-width="2.70" stroke-linejoin="round" stroke-linecap="butt" clip-path="url(#cB)"/>
<path d="M126.2 508.1 C127.4 509.8 131.3 515.9 133.5 518.1 C135.7 520.3 137.3 521.4 139.3 521.2 C141.2 521.0 143.3 518.9 145.3 516.8 C147.3 514.6 150.3 509.6 151.3 508.1" fill="none" stroke="#1f77b4" stroke-width="2.70" stroke-linejoin="round" stroke-linecap="butt" clip-path="url(#cB)"/>
<path d="M139.3 605.7 C140.5 606.1 144.1 606.3 146.6 608.3 C149.1 610.2 151.8 613.7 154.4 617.4 C157.0 621.1 159.9 626.6 162.3 630.5 C164.7 634.4 167.7 639.2 168.8 640.9" fill="none" stroke="#1f77b4" stroke-width="2.70" stroke-linejoin="round" stroke-linecap="butt" clip-path="url(#cB)"/>
<path d="M139.3 605.7 C140.7 606.5 145.2 608.1 147.9 610.9 C150.6 613.7 153.3 617.6 155.7 622.6 C158.1 627.7 160.5 635.7 162.3 640.9 C164.0 646.2 165.1 650.8 166.2 654.0 C167.3 657.3 168.4 659.5 168.8 660.6" fill="none" stroke="#1f77b4" stroke-width="2.70" stroke-linejoin="round" stroke-linecap="butt" clip-path="url(#cB)"/>
<path d="M139.3 706.3 C140.9 706.1 145.8 706.1 149.2 705.0 C152.6 703.9 156.4 701.5 159.7 699.8 C162.9 698.0 167.3 695.4 168.8 694.5" fill="none" stroke="#1f77b4" stroke-width="2.70" stroke-linejoin="round" stroke-linecap="butt" clip-path="url(#cB)"/>
<path d="M168.8 640.9 C169.9 638.3 173.2 631.4 175.3 625.3 C177.5 619.2 179.9 611.3 181.9 604.3 C183.8 597.4 185.7 587.8 187.1 583.4 C188.5 579.1 189.7 579.1 190.2 578.2" fill="none" stroke="#1f77b4" stroke-width="2.70" stroke-linejoin="round" stroke-linecap="butt" clip-path="url(#cB)"/>
<path d="M168.8 660.6 C169.5 660.0 171.0 657.4 172.7 657.2 C174.5 656.9 177.1 658.2 179.3 659.2 C181.4 660.3 184.0 662.2 185.8 663.2 C187.6 664.1 189.5 664.7 190.2 665.0" fill="none" stroke="#1f77b4" stroke-width="2.70" stroke-linejoin="round" stroke-linecap="butt" clip-path="url(#cB)"/>
<path d="M168.8 669.7 C169.2 671.2 170.1 676.7 171.4 678.9 C172.7 681.0 174.5 682.0 176.7 682.8 C178.8 683.6 182.2 683.3 184.5 683.6 C186.8 683.8 189.3 684.0 190.2 684.1" fill="none" stroke="#1f77b4" stroke-width="2.70" stroke-linejoin="round" stroke-linecap="butt" clip-path="url(#cB)"/>
<path d="M168.8 694.5 C169.7 695.2 172.1 696.1 174.0 698.5 C176.0 700.9 178.4 705.7 180.6 708.9 C182.8 712.2 185.5 716.1 187.1 718.1 C188.7 720.0 189.7 720.3 190.2 720.7" fill="none" stroke="#1f77b4" stroke-width="2.70" stroke-linejoin="round" stroke-linecap="butt" clip-path="url(#cB)"/>
<path d="M81.4 548.2 C81.8 548.4 82.7 548.6 83.5 549.5 C84.3 550.4 85.3 552.1 86.5 553.5 C87.7 554.9 89.3 555.6 90.7 557.7 C92.1 559.8 93.5 562.9 94.9 566.2 C96.3 569.5 97.7 573.5 99.1 577.5 C100.5 581.5 102.0 585.6 103.4 590.1 C104.8 594.6 106.4 599.9 107.6 604.2 C108.8 608.5 109.6 612.0 110.5 616.0 C111.4 620.0 112.1 623.3 113.0 628.0 C113.9 632.7 114.8 638.6 116.0 644.1 C117.2 649.6 118.9 655.6 120.3 661.0 C121.7 666.4 123.1 671.6 124.5 676.5 C125.9 681.4 127.3 686.6 128.7 690.6 C130.1 694.6 131.8 698.1 132.9 700.4 C134.0 702.7 134.8 703.3 135.5 704.3 C136.2 705.2 136.5 705.7 137.2 706.1 C137.9 706.5 139.2 706.7 139.6 706.8" fill="none" stroke="#1f77b4" stroke-width="2.70" stroke-linejoin="round" stroke-linecap="butt" clip-path="url(#cB)"/>
<path d="M81.4 581.0 C81.8 580.5 82.8 578.8 83.5 578.0 C84.2 577.2 84.9 576.7 85.7 576.1 C86.5 575.5 87.8 574.5 88.6 574.6 C89.4 574.7 89.9 575.1 90.7 576.8 C91.5 578.4 92.6 581.8 93.5 584.5 C94.4 587.2 95.1 589.2 96.3 593.0 C97.5 596.8 99.4 602.5 100.5 607.0 C101.6 611.5 102.2 615.7 103.0 620.0 C103.8 624.3 104.2 629.0 105.0 633.0 C105.8 637.0 106.5 639.4 107.6 644.1 C108.7 648.8 110.4 654.9 111.8 661.0 C113.2 667.1 114.6 674.1 116.0 680.7 C117.4 687.3 118.9 693.8 120.3 700.4 C121.7 707.0 123.1 714.0 124.5 720.1 C125.9 726.2 127.3 731.8 128.7 737.0 C130.1 742.2 131.6 747.6 132.9 751.1 C134.2 754.6 135.4 756.8 136.5 758.2 C137.6 759.6 138.5 759.8 139.6 759.6 C140.7 759.4 141.4 759.1 142.8 756.8 C144.2 754.4 146.1 750.6 148.0 745.5 C149.9 740.4 152.0 734.2 154.4 726.0 C156.8 717.8 159.9 704.8 162.3 696.0 C164.7 687.2 167.7 676.8 168.8 673.0" fill="none" stroke="#1f77b4" stroke-width="2.70" stroke-linejoin="round" stroke-linecap="butt" clip-path="url(#cB)"/>
<path d="M190.5 577.5 C191.5 577.1 194.9 575.6 196.8 574.6 C198.6 573.6 200.4 573.5 201.7 571.7 C203.0 569.9 203.6 567.4 204.6 563.8 C205.6 560.2 206.6 555.7 207.5 550.1 C208.5 544.5 209.4 537.5 210.5 530.5 C211.6 523.5 213.4 511.7 214.0 507.9" fill="none" stroke="#1f77b4" stroke-width="2.70" stroke-linejoin="round" stroke-linecap="butt" clip-path="url(#cB)"/>
<path d="M190.5 665.0 C190.9 665.9 192.0 669.5 192.8 670.7 C193.7 671.9 194.8 672.8 195.8 672.1 C196.8 671.3 197.7 669.2 198.7 666.2 C199.7 663.2 200.7 658.7 201.7 654.0 C202.6 649.4 203.6 643.1 204.6 638.3 C205.6 633.6 206.6 628.7 207.5 625.6 C208.5 622.5 209.2 621.0 210.5 619.7 C211.8 618.4 213.8 618.3 215.4 617.7 C217.0 617.2 218.4 617.7 219.9 616.4 C221.4 615.1 222.5 612.9 224.2 609.9 C225.9 606.9 228.1 602.4 230.1 598.1 C232.1 593.9 234.2 588.8 236.0 584.4 C237.8 580.0 239.4 575.1 240.9 571.7 C242.4 568.2 243.5 566.6 244.8 563.8 C246.1 561.0 247.5 557.8 248.7 555.0 C249.9 552.2 251.5 548.5 252.1 547.2" fill="none" stroke="#1f77b4" stroke-width="2.70" stroke-linejoin="round" stroke-linecap="butt" clip-path="url(#cB)"/>
<path d="M190.5 682.6 C191.5 678.5 194.7 666.6 196.8 657.9 C198.8 649.2 200.7 639.6 202.6 630.5 C204.6 621.3 206.6 613.2 208.5 603.0 C210.5 592.9 212.5 580.5 214.4 569.7 C216.4 558.9 218.5 547.8 220.3 538.3 C222.1 528.9 224.4 517.1 225.2 512.8" fill="none" stroke="#1f77b4" stroke-width="2.70" stroke-linejoin="round" stroke-linecap="butt" clip-path="url(#cB)"/>
<path d="M225.2 512.8 C226.2 514.8 229.1 520.0 231.1 524.6 C233.0 529.2 235.2 535.4 237.0 540.3 C238.8 545.2 240.6 551.3 241.9 554.0 C243.2 556.7 243.8 556.7 244.8 556.4 C245.8 556.0 246.5 553.6 247.7 552.1 C249.0 550.5 251.3 548.0 252.1 547.2" fill="none" stroke="#1f77b4" stroke-width="2.70" stroke-linejoin="round" stroke-linecap="butt" clip-path="url(#cB)"/>
<path d="M190.5 720.7 C191.2 719.4 193.3 716.3 194.8 712.8 C196.3 709.4 198.1 705.5 199.7 699.9 C201.3 694.3 202.8 686.5 204.6 679.5 C206.4 672.5 208.5 665.1 210.5 657.9 C212.5 650.8 214.6 643.1 216.4 636.4 C218.2 629.7 219.6 622.6 221.3 617.7 C222.9 612.8 224.4 610.7 226.2 607.0 C228.0 603.2 230.3 599.1 232.1 595.2 C233.9 591.3 235.5 587.4 237.0 583.4 C238.4 579.5 239.9 574.1 240.9 571.7 C241.9 569.2 241.9 568.6 242.8 568.7 C243.8 568.9 245.2 570.8 246.8 572.6 C248.3 574.4 251.2 578.4 252.1 579.5" fill="none" stroke="#1f77b4" stroke-width="2.70" stroke-linejoin="round" stroke-linecap="butt" clip-path="url(#cB)"/>
<path d="M241.1 507.9 C242.0 509.2 244.9 514.0 246.8 515.8 C248.6 517.6 250.3 518.9 252.1 518.7 C253.9 518.6 256.0 516.6 257.5 514.8 C259.1 513.0 260.8 509.1 261.5 507.9" fill="none" stroke="#1f77b4" stroke-width="2.70" stroke-linejoin="round" stroke-linecap="butt" clip-path="url(#cB)"/>
<path d="M252.1 548.1 C253.1 550.1 255.8 555.3 258.1 559.9 C260.4 564.5 262.9 569.9 265.9 575.6 C269.0 581.3 272.9 588.4 276.4 593.9 C279.9 599.3 283.3 604.3 286.8 608.3 C290.3 612.2 294.7 615.1 297.3 617.4 C299.9 619.7 301.6 621.3 302.5 622.1" fill="none" stroke="#1f77b4" stroke-width="2.70" stroke-linejoin="round" stroke-linecap="butt" clip-path="url(#cB)"/>
<path d="M252.1 579.5 C253.3 576.9 256.9 569.3 259.4 563.8 C261.9 558.4 264.8 552.3 267.2 546.8 C269.6 541.4 271.9 534.8 273.8 531.1 C275.6 527.4 277.2 524.8 278.5 524.6 C279.8 524.4 280.4 524.8 281.6 529.8 C282.8 534.8 284.2 545.7 285.5 554.7 C286.8 563.6 288.1 574.3 289.4 583.4 C290.8 592.6 292.1 602.2 293.4 609.6 C294.7 617.0 295.8 623.5 297.3 627.9 C298.8 632.2 301.6 634.4 302.5 635.7" fill="none" stroke="#1f77b4" stroke-width="2.70" stroke-linejoin="round" stroke-linecap="butt" clip-path="url(#cB)"/>
<path d="M283.7 508.9 C284.4 512.6 286.7 524.0 288.1 531.1 C289.5 538.3 290.5 546.0 292.1 552.1 C293.6 558.2 295.5 563.4 297.3 567.7 C299.0 572.1 301.6 576.5 302.5 578.2" fill="none" stroke="#1f77b4" stroke-width="2.70" stroke-linejoin="round" stroke-linecap="butt" clip-path="url(#cB)"/>
<path d="M302.5 578.2 C303.8 574.3 307.7 562.5 310.4 554.7 C313.0 546.8 316.0 537.2 318.2 531.1 C320.4 525.0 321.9 521.8 323.4 518.1 C325.0 514.4 326.7 510.4 327.4 508.9" fill="none" stroke="#1f77b4" stroke-width="2.70" stroke-linejoin="round" stroke-linecap="butt" clip-path="url(#cB)"/>
<path d="M302.5 578.2 C303.8 577.1 308.0 573.4 310.4 571.7 C312.8 569.9 314.7 568.4 316.9 567.7 C319.1 567.1 321.0 566.9 323.4 567.7 C325.8 568.6 328.8 571.2 331.3 573.0 C333.8 574.7 337.2 577.3 338.3 578.2" fill="none" stroke="#1f77b4" stroke-width="2.70" stroke-linejoin="round" stroke-linecap="butt" clip-path="url(#cB)"/>
<path d="M302.5 622.6 C303.8 623.5 307.7 624.4 310.4 627.9 C313.0 631.4 315.6 638.3 318.2 643.6 C320.8 648.8 323.9 655.5 326.0 659.2 C328.2 663.0 329.2 664.9 331.3 665.8 C333.3 666.7 337.2 664.7 338.3 664.5" fill="none" stroke="#1f77b4" stroke-width="2.70" stroke-linejoin="round" stroke-linecap="butt" clip-path="url(#cB)"/>
<path d="M302.5 622.6 C303.4 623.5 305.6 624.0 307.7 627.9 C309.9 631.8 313.0 640.1 315.6 646.2 C318.2 652.3 320.8 659.7 323.4 664.5 C326.0 669.3 328.8 671.7 331.3 674.9 C333.8 678.2 337.2 682.6 338.3 684.1" fill="none" stroke="#1f77b4" stroke-width="2.70" stroke-linejoin="round" stroke-linecap="butt" clip-path="url(#cB)"/>
<path d="M302.5 635.7 C303.8 638.3 307.7 645.3 310.4 651.4 C313.0 657.5 315.6 664.9 318.2 672.3 C320.8 679.7 323.6 689.1 326.0 695.8 C328.4 702.6 330.9 708.9 332.6 712.8 C334.2 716.8 335.0 717.9 336.0 719.4 C336.9 720.8 337.5 721.6 338.3 721.5 C339.2 721.3 339.8 720.9 341.2 718.3 C342.6 715.8 344.7 710.1 347.0 706.3 C349.2 702.6 352.8 697.8 354.8 695.8 C356.9 693.9 358.5 694.8 359.2 694.5" fill="none" stroke="#1f77b4" stroke-width="2.70" stroke-linejoin="round" stroke-linecap="butt" clip-path="url(#cB)"/>
<path d="M338.3 664.5 C339.8 663.8 344.2 661.6 347.0 660.6 C349.7 659.5 352.8 657.7 354.8 657.9 C356.9 658.2 358.5 661.2 359.2 661.9" fill="none" stroke="#1f77b4" stroke-width="2.70" stroke-linejoin="round" stroke-linecap="butt" clip-path="url(#cB)"/>
<path d="M338.3 684.1 C339.8 684.1 344.2 684.7 347.0 684.1 C349.7 683.4 352.8 682.1 354.8 680.2 C356.9 678.2 358.5 673.6 359.2 672.3" fill="none" stroke="#1f77b4" stroke-width="2.70" stroke-linejoin="round" stroke-linecap="butt" clip-path="url(#cB)"/>
<path d="M338.3 578.2 C339.3 580.4 342.4 586.3 344.3 591.3 C346.2 596.3 348.3 602.2 350.0 608.0 C351.7 613.8 353.3 621.2 354.5 626.0 C355.7 630.8 356.5 634.4 357.3 637.0 C358.1 639.6 358.7 641.5 359.4 641.5 C360.1 641.5 360.8 639.6 361.6 637.0 C362.5 634.4 363.3 630.3 364.5 626.0 C365.7 621.7 367.5 615.9 369.0 611.0 C370.5 606.1 371.4 602.0 373.5 596.5 C375.6 591.0 378.8 581.9 381.4 578.2 C384.0 574.5 386.1 574.3 389.2 574.3 C392.3 574.3 398.4 577.6 400.2 578.2" fill="none" stroke="#1f77b4" stroke-width="2.70" stroke-linejoin="round" stroke-linecap="butt" clip-path="url(#cB)"/>
<path d="M379.3 508.9 C380.5 512.6 384.3 523.5 386.6 531.1 C388.9 538.8 390.9 546.8 393.1 554.7 C395.4 562.5 399.0 574.3 400.2 578.2" fill="none" stroke="#1f77b4" stroke-width="2.70" stroke-linejoin="round" stroke-linecap="butt" clip-path="url(#cB)"/>
<path d="M359.7 661.9 C361.1 661.9 365.1 663.6 368.3 661.9 C371.5 660.1 375.3 655.8 378.8 651.4 C382.2 647.0 385.6 640.6 389.2 635.7 C392.8 630.8 398.4 624.4 400.2 622.1" fill="none" stroke="#1f77b4" stroke-width="2.70" stroke-linejoin="round" stroke-linecap="butt" clip-path="url(#cB)"/>
<path d="M359.7 672.3 C361.1 671.9 365.6 670.4 368.3 669.7 C371.0 669.1 373.5 671.0 376.1 668.4 C378.8 665.8 381.4 659.5 384.0 654.0 C386.6 648.6 389.1 641.0 391.8 635.7 C394.5 630.4 398.8 624.4 400.2 622.1" fill="none" stroke="#1f77b4" stroke-width="2.70" stroke-linejoin="round" stroke-linecap="butt" clip-path="url(#cB)"/>
<path d="M359.7 694.5 C360.7 694.8 363.8 696.1 365.7 695.8 C367.6 695.6 368.7 696.3 370.9 693.2 C373.1 690.2 376.1 683.2 378.8 677.5 C381.4 671.9 384.0 664.9 386.6 659.2 C389.2 653.6 392.2 647.5 394.4 643.6 C396.7 639.6 399.2 637.0 400.2 635.7" fill="none" stroke="#1f77b4" stroke-width="2.70" stroke-linejoin="round" stroke-linecap="butt" clip-path="url(#cB)"/>
<path d="M400.2 578.2 C401.4 576.9 404.6 572.1 407.5 570.4 C410.5 568.6 414.5 567.3 418.0 567.7 C421.5 568.2 425.3 570.8 428.4 573.0 C431.6 575.2 434.4 578.2 437.1 580.8 C439.7 583.4 441.6 585.2 444.1 588.7 C446.6 592.1 449.6 598.5 452.0 601.7 C454.4 605.0 457.4 607.2 458.5 608.3" fill="none" stroke="#1f77b4" stroke-width="2.70" stroke-linejoin="round" stroke-linecap="butt" clip-path="url(#cB)"/>
<path d="M400.2 578.2 C401.6 574.7 406.1 564.7 408.8 557.3 C411.6 549.9 414.3 540.7 416.7 533.8 C419.1 526.8 421.7 519.6 423.2 515.5 C424.7 511.3 425.4 510.0 425.8 508.9" fill="none" stroke="#1f77b4" stroke-width="2.70" stroke-linejoin="round" stroke-linecap="butt" clip-path="url(#cB)"/>
<path d="M400.2 622.1 C401.9 624.0 406.7 628.2 410.1 633.1 C413.5 638.0 417.5 645.7 420.6 651.4 C423.6 657.1 425.7 664.0 428.4 667.1 C431.2 670.1 434.9 671.4 437.1 669.7 C439.2 668.0 439.9 662.7 441.5 656.6 C443.1 650.5 445.0 639.6 446.7 633.1 C448.5 626.6 450.0 621.6 452.0 617.4 C453.9 613.3 457.4 609.8 458.5 608.3" fill="none" stroke="#1f77b4" stroke-width="2.70" stroke-linejoin="round" stroke-linecap="butt" clip-path="url(#cB)"/>
<path d="M400.2 622.1 C401.4 623.5 404.6 625.6 407.5 630.5 C410.5 635.4 414.5 644.4 418.0 651.4 C421.5 658.4 425.3 665.8 428.4 672.3 C431.6 678.9 434.4 686.0 437.1 690.6 C439.7 695.2 441.6 697.4 444.1 699.8 C446.6 702.2 449.6 703.9 452.0 705.0 C454.4 706.1 457.4 706.1 458.5 706.3" fill="none" stroke="#1f77b4" stroke-width="2.70" stroke-linejoin="round" stroke-linecap="butt" clip-path="url(#cB)"/>
<path d="M400.2 635.7 C401.9 639.2 406.7 649.2 410.1 656.6 C413.5 664.0 417.1 672.3 420.6 680.2 C424.1 688.0 428.3 697.6 431.0 703.7 C433.8 709.8 434.9 712.0 437.1 716.8 C439.2 721.6 441.6 727.2 444.1 732.5 C446.6 737.7 449.6 743.6 452.0 748.1 C454.4 752.7 457.4 757.9 458.5 759.9" fill="none" stroke="#1f77b4" stroke-width="2.70" stroke-linejoin="round" stroke-linecap="butt" clip-path="url(#cB)"/>
<path d="M441.5 508.9 C442.8 510.0 446.5 513.3 449.3 515.5 C452.2 517.6 457.0 520.9 458.5 522.0" fill="none" stroke="#1f77b4" stroke-width="2.70" stroke-linejoin="round" stroke-linecap="butt" clip-path="url(#cB)"/>
<path d="M81.9 890.5 C83.0 891.5 86.4 893.8 88.7 896.2 C91.0 898.5 93.6 902.2 95.7 904.6 C97.8 907.0 99.6 909.8 101.3 910.5 C103.1 911.2 104.6 910.3 106.3 908.8 C107.9 907.4 109.4 904.1 111.2 901.8 C112.9 899.4 115.4 896.0 116.8 894.7 C118.2 893.5 118.6 893.7 119.6 894.0 C120.7 894.4 122.0 895.1 123.1 896.9 C124.3 898.6 125.4 901.2 126.7 904.6 C128.0 908.0 129.5 913.0 130.9 917.3 C132.3 921.5 133.7 926.4 135.1 929.9 C136.5 933.4 138.6 937.0 139.3 938.4" fill="none" stroke="#1f77b4" stroke-width="2.70" stroke-linejoin="round" stroke-linecap="butt" clip-path="url(#cB)"/>
<path d="M81.9 890.5 C82.8 891.1 85.2 892.2 87.3 894.0 C89.3 895.9 92.0 899.3 94.3 901.8 C96.6 904.2 99.2 907.2 101.3 908.8 C103.4 910.5 105.2 911.0 107.0 911.6 C108.7 912.2 110.4 912.8 111.9 912.3 C113.4 911.9 114.6 910.8 116.1 908.8 C117.6 906.8 119.5 903.4 121.0 900.4 C122.6 897.3 123.9 893.7 125.3 890.5 C126.7 887.4 128.1 884.1 129.5 881.4 C130.9 878.7 132.1 876.1 133.7 874.3 C135.3 872.5 138.4 871.2 139.3 870.5" fill="none" stroke="#1f77b4" stroke-width="2.70" stroke-linejoin="round" stroke-linecap="butt" clip-path="url(#cB)"/>
<path d="M139.3 870.5 C140.5 869.9 143.8 868.4 146.4 866.6 C149.0 864.8 152.2 861.6 154.8 859.6 C157.4 857.6 159.5 855.7 161.9 854.6 C164.2 853.6 167.7 853.5 168.9 853.2" fill="none" stroke="#1f77b4" stroke-width="2.70" stroke-linejoin="round" stroke-linecap="butt" clip-path="url(#cB)"/>
<path d="M139.3 870.5 C140.5 871.3 143.8 872.9 146.4 875.0 C149.0 877.2 152.0 881.0 154.8 883.5 C157.6 885.9 160.9 888.6 163.3 889.8 C165.6 891.0 168.0 890.4 168.9 890.5" fill="none" stroke="#1f77b4" stroke-width="2.70" stroke-linejoin="round" stroke-linecap="butt" clip-path="url(#cB)"/>
<path d="M139.3 938.4 C140.5 937.7 143.8 936.3 146.4 934.2 C149.0 932.0 152.2 928.1 154.8 925.7 C157.4 923.4 159.5 921.3 161.9 920.1 C164.2 918.9 167.7 918.9 168.9 918.7" fill="none" stroke="#1f77b4" stroke-width="2.70" stroke-linejoin="round" stroke-linecap="butt" clip-path="url(#cB)"/>
<path d="M148.1 957.4 C148.7 954.9 150.6 947.4 152.0 942.6 C153.4 937.8 154.8 933.2 156.2 928.5 C157.6 923.8 159.0 918.2 160.4 914.4 C161.9 910.7 163.3 907.8 164.7 906.0 C166.1 904.2 168.2 904.2 168.9 903.9" fill="none" stroke="#1f77b4" stroke-width="2.70" stroke-linejoin="round" stroke-linecap="butt" clip-path="url(#cB)"/>
<path d="M168.9 853.2 C170.3 853.1 174.5 853.1 177.3 852.5 C180.2 851.9 183.7 850.3 185.8 849.7 C187.9 849.1 189.3 849.1 190.0 849.0" fill="none" stroke="#1f77b4" stroke-width="2.70" stroke-linejoin="round" stroke-linecap="butt" clip-path="url(#cB)"/>
<path d="M168.9 890.5 C169.8 890.3 172.2 890.4 174.5 889.1 C176.9 887.8 180.4 884.3 183.0 882.8 C185.5 881.3 188.8 880.4 190.0 880.0" fill="none" stroke="#1f77b4" stroke-width="2.70" stroke-linejoin="round" stroke-linecap="butt" clip-path="url(#cB)"/>
<path d="M168.9 903.9 C170.3 904.1 174.5 904.8 177.3 905.3 C180.2 905.8 183.7 906.5 185.8 906.7 C187.9 906.9 189.3 906.7 190.0 906.7" fill="none" stroke="#1f77b4" stroke-width="2.70" stroke-linejoin="round" stroke-linecap="butt" clip-path="url(#cB)"/>
<path d="M168.9 918.7 C169.8 918.9 172.2 918.4 174.5 920.1 C176.9 921.7 180.4 926.2 183.0 928.5 C185.5 930.9 188.8 933.2 190.0 934.2" fill="none" stroke="#1f77b4" stroke-width="2.70" stroke-linejoin="round" stroke-linecap="butt" clip-path="url(#cB)"/>
<path d="M190.0 849.0 C190.7 848.1 192.6 844.7 194.2 843.4 C195.9 842.0 198.0 840.6 199.9 841.0 C201.7 841.3 203.6 842.9 205.5 845.5 C207.4 848.1 209.2 851.8 211.1 856.7 C213.0 861.7 215.1 869.2 216.7 875.0 C218.4 880.9 219.6 887.5 221.0 891.9 C222.4 896.4 223.5 900.4 225.2 901.8 C226.8 903.2 228.7 901.3 230.8 900.4 C232.9 899.4 235.5 897.4 237.9 896.2 C240.2 894.9 242.5 893.6 244.9 892.6 C247.2 891.7 250.8 890.9 251.9 890.5" fill="none" stroke="#1f77b4" stroke-width="2.70" stroke-linejoin="round" stroke-linecap="butt" clip-path="url(#cB)"/>
<path d="M190.0 880.0 C190.9 880.2 193.5 879.8 195.6 881.4 C197.7 882.9 200.3 886.2 202.7 889.1 C205.0 892.0 207.4 896.4 209.7 899.0 C212.1 901.5 214.4 903.3 216.7 904.6 C219.1 905.9 221.4 906.7 223.8 906.7 C226.1 906.7 228.2 906.1 230.8 904.6 C233.4 903.1 235.7 899.9 239.3 897.6 C242.8 895.2 249.8 891.7 251.9 890.5" fill="none" stroke="#1f77b4" stroke-width="2.70" stroke-linejoin="round" stroke-linecap="butt" clip-path="url(#cB)"/>
<path d="M190.0 906.7 C190.7 905.4 192.6 900.8 194.2 899.0 C195.9 897.1 198.2 895.4 199.9 895.4 C201.5 895.4 202.7 896.5 204.1 899.0 C205.5 901.4 206.9 906.2 208.3 910.2 C209.7 914.2 211.1 919.4 212.5 922.9 C213.9 926.4 215.3 929.7 216.7 931.3 C218.2 933.0 219.1 933.4 221.0 932.7 C222.8 932.0 225.7 929.9 228.0 927.1 C230.4 924.3 232.7 919.8 235.0 915.9 C237.4 911.9 239.3 907.4 242.1 903.2 C244.9 899.0 250.3 892.6 251.9 890.5" fill="none" stroke="#1f77b4" stroke-width="2.70" stroke-linejoin="round" stroke-linecap="butt" clip-path="url(#cB)"/>
<path d="M190.0 934.2 C190.7 933.2 192.3 930.4 194.2 928.5 C196.1 926.6 198.7 924.8 201.3 922.9 C203.8 921.0 207.1 918.9 209.7 917.3 C212.3 915.6 214.9 914.0 216.7 913.0 C218.6 912.1 219.8 911.2 221.0 911.6 C222.1 912.1 222.8 913.3 223.8 915.9 C224.7 918.4 225.7 922.9 226.6 927.1 C227.5 931.3 228.3 936.1 229.4 941.2 C230.5 946.2 232.6 954.7 233.2 957.4" fill="none" stroke="#1f77b4" stroke-width="2.70" stroke-linejoin="round" stroke-linecap="butt" clip-path="url(#cB)"/>
<path d="M199.2 957.4 C200.2 956.1 203.5 951.7 205.5 949.6 C207.5 947.6 209.5 945.8 211.1 945.1 C212.8 944.4 213.9 943.4 215.3 945.4 C216.8 947.5 219.1 955.4 219.8 957.4" fill="none" stroke="#1f77b4" stroke-width="2.70" stroke-linejoin="round" stroke-linecap="butt" clip-path="url(#cB)"/>
<path d="M252.3 891.1 C254.0 892.1 259.5 895.1 262.7 897.0 C265.9 899.0 269.1 902.5 271.6 903.0 C274.0 903.5 275.5 904.2 277.5 900.0 C279.5 895.8 280.9 887.4 283.4 877.8 C285.9 868.1 289.6 851.4 292.3 842.2 C295.0 833.1 297.9 826.8 299.7 823.0 C301.5 819.2 302.4 820.0 303.0 819.4" fill="none" stroke="#1f77b4" stroke-width="2.70" stroke-linejoin="round" stroke-linecap="butt" clip-path="url(#cB)"/>
<path d="M252.3 891.1 C254.0 892.8 259.5 897.3 262.7 901.5 C265.9 905.7 268.6 912.6 271.6 916.3 C274.5 920.0 277.0 923.7 280.4 923.7 C283.9 923.7 288.5 918.7 292.3 916.3 C296.0 913.9 301.2 910.6 303.0 909.5" fill="none" stroke="#1f77b4" stroke-width="2.70" stroke-linejoin="round" stroke-linecap="butt" clip-path="url(#cB)"/>
<path d="M272.1 959.3 C273.5 955.1 277.6 938.0 280.4 934.1 C283.3 930.1 285.6 934.1 289.3 935.6 C293.1 937.0 300.7 941.7 303.0 943.0" fill="none" stroke="#1f77b4" stroke-width="2.70" stroke-linejoin="round" stroke-linecap="butt" clip-path="url(#cB)"/>
<path d="M303.0 819.4 C304.6 821.0 309.4 825.1 313.0 828.9 C316.7 832.7 320.6 838.9 324.9 842.2 C329.1 845.5 336.2 847.7 338.5 848.7" fill="none" stroke="#1f77b4" stroke-width="2.70" stroke-linejoin="round" stroke-linecap="butt" clip-path="url(#cB)"/>
<path d="M303.0 819.4 C304.1 822.7 307.4 831.5 310.1 839.3 C312.7 847.0 315.5 859.5 319.0 865.9 C322.4 872.3 327.6 875.5 330.8 877.8 C334.1 880.1 337.2 879.5 338.5 879.9" fill="none" stroke="#1f77b4" stroke-width="2.70" stroke-linejoin="round" stroke-linecap="butt" clip-path="url(#cB)"/>
<path d="M303.0 909.5 C304.6 908.9 309.4 907.3 313.0 905.9 C316.7 904.6 321.9 902.5 324.9 901.5 C327.9 900.5 328.5 899.3 330.8 900.0 C333.1 900.7 337.2 904.9 338.5 905.9" fill="none" stroke="#1f77b4" stroke-width="2.70" stroke-linejoin="round" stroke-linecap="butt" clip-path="url(#cB)"/>
<path d="M303.0 943.0 C304.6 942.5 309.4 941.5 313.0 940.0 C316.7 938.5 321.4 935.3 324.9 934.1 C328.3 932.8 331.5 932.1 333.8 932.6 C336.0 933.1 337.7 936.3 338.5 937.0" fill="none" stroke="#1f77b4" stroke-width="2.70" stroke-linejoin="round" stroke-linecap="butt" clip-path="url(#cB)"/>
<path d="M303.0 943.0 C304.6 942.7 309.9 941.2 313.0 941.5 C316.2 941.7 319.0 942.7 321.9 944.4 C324.9 946.2 328.6 949.4 330.8 951.9 C333.0 954.3 334.5 958.0 335.3 959.3" fill="none" stroke="#1f77b4" stroke-width="2.70" stroke-linejoin="round" stroke-linecap="butt" clip-path="url(#cB)"/>
<path d="M338.5 848.7 C340.2 849.1 345.0 850.3 348.6 851.1 C352.1 851.9 358.0 853.1 359.9 853.5" fill="none" stroke="#1f77b4" stroke-width="2.70" stroke-linejoin="round" stroke-linecap="butt" clip-path="url(#cB)"/>
<path d="M338.5 879.9 C340.2 880.7 345.0 883.4 348.6 885.2 C352.1 887.0 358.0 889.6 359.9 890.5" fill="none" stroke="#1f77b4" stroke-width="2.70" stroke-linejoin="round" stroke-linecap="butt" clip-path="url(#cB)"/>
<path d="M338.5 905.9 C340.2 905.7 345.0 905.1 348.6 904.4 C352.1 903.8 358.0 902.5 359.9 902.1" fill="none" stroke="#1f77b4" stroke-width="2.70" stroke-linejoin="round" stroke-linecap="butt" clip-path="url(#cB)"/>
<path d="M338.5 937.0 C340.2 935.1 345.0 928.2 348.6 925.2 C352.1 922.1 358.0 919.8 359.9 918.7" fill="none" stroke="#1f77b4" stroke-width="2.70" stroke-linejoin="round" stroke-linecap="butt" clip-path="url(#cB)"/>
<path d="M359.9 853.5 C361.4 852.6 365.8 851.0 369.3 848.1 C372.9 845.3 377.2 840.2 381.2 836.3 C385.1 832.3 389.8 827.3 393.0 824.4 C396.2 821.6 399.2 820.2 400.4 819.4" fill="none" stroke="#1f77b4" stroke-width="2.70" stroke-linejoin="round" stroke-linecap="butt" clip-path="url(#cB)"/>
<path d="M359.9 890.5 C361.4 888.9 365.8 886.3 369.3 880.7 C372.9 875.2 377.7 864.9 381.2 857.0 C384.6 849.1 386.9 839.6 390.1 833.3 C393.3 827.1 398.7 821.7 400.4 819.4" fill="none" stroke="#1f77b4" stroke-width="2.70" stroke-linejoin="round" stroke-linecap="butt" clip-path="url(#cB)"/>
<path d="M359.9 902.1 C361.9 901.6 367.8 898.7 372.3 899.1 C376.8 899.5 382.4 902.7 387.1 904.4 C391.8 906.2 398.2 908.6 400.4 909.5" fill="none" stroke="#1f77b4" stroke-width="2.70" stroke-linejoin="round" stroke-linecap="butt" clip-path="url(#cB)"/>
<path d="M359.9 918.7 C361.9 919.8 367.8 922.1 372.3 925.2 C376.8 928.2 382.4 934.1 387.1 937.0 C391.8 940.0 398.2 942.0 400.4 943.0" fill="none" stroke="#1f77b4" stroke-width="2.70" stroke-linejoin="round" stroke-linecap="butt" clip-path="url(#cB)"/>
<path d="M376.7 959.3 C377.7 957.0 380.4 948.9 382.7 945.9 C384.9 943.0 387.1 942.0 390.1 941.5 C393.0 941.0 398.7 942.7 400.4 943.0" fill="none" stroke="#1f77b4" stroke-width="2.70" stroke-linejoin="round" stroke-linecap="butt" clip-path="url(#cB)"/>
<path d="M400.4 819.4 C402.2 821.0 406.6 825.1 410.8 828.9 C415.0 832.7 421.3 838.8 425.6 842.2 C430.0 845.7 435.0 848.4 436.9 849.6" fill="none" stroke="#1f77b4" stroke-width="2.70" stroke-linejoin="round" stroke-linecap="butt" clip-path="url(#cB)"/>
<path d="M400.4 819.4 C402.2 822.7 407.6 831.5 410.8 839.3 C414.0 847.0 416.7 859.5 419.7 865.9 C422.7 872.3 425.7 875.3 428.6 877.8 C431.5 880.2 435.5 880.2 436.9 880.7" fill="none" stroke="#1f77b4" stroke-width="2.70" stroke-linejoin="round" stroke-linecap="butt" clip-path="url(#cB)"/>
<path d="M400.4 909.5 C402.7 908.6 409.6 906.0 413.8 904.4 C418.0 902.9 421.8 900.0 425.6 900.0 C429.5 900.0 435.0 903.7 436.9 904.4" fill="none" stroke="#1f77b4" stroke-width="2.70" stroke-linejoin="round" stroke-linecap="butt" clip-path="url(#cB)"/>
<path d="M400.4 943.0 C402.7 942.5 409.6 942.0 413.8 940.0 C418.0 938.0 421.8 932.1 425.6 931.1 C429.5 930.1 435.0 933.6 436.9 934.1" fill="none" stroke="#1f77b4" stroke-width="2.70" stroke-linejoin="round" stroke-linecap="butt" clip-path="url(#cB)"/>
<path d="M400.4 943.0 C402.7 942.7 410.1 941.0 413.8 941.5 C417.5 942.0 420.0 943.0 422.7 945.9 C425.4 948.9 428.8 957.0 430.1 959.3" fill="none" stroke="#1f77b4" stroke-width="2.70" stroke-linejoin="round" stroke-linecap="butt" clip-path="url(#cB)"/>
<path d="M436.9 849.6 C438.5 851.4 442.8 856.5 446.4 860.0 C449.9 863.5 456.2 868.6 458.2 870.4" fill="none" stroke="#1f77b4" stroke-width="2.70" stroke-linejoin="round" stroke-linecap="butt" clip-path="url(#cB)"/>
<path d="M436.9 880.7 C438.5 880.2 442.8 879.5 446.4 877.8 C449.9 876.0 456.2 871.6 458.2 870.4" fill="none" stroke="#1f77b4" stroke-width="2.70" stroke-linejoin="round" stroke-linecap="butt" clip-path="url(#cB)"/>
<path d="M436.9 904.4 C438.5 907.4 442.8 916.5 446.4 922.2 C449.9 927.9 456.2 935.8 458.2 938.5" fill="none" stroke="#1f77b4" stroke-width="2.70" stroke-linejoin="round" stroke-linecap="butt" clip-path="url(#cB)"/>
<path d="M436.9 934.1 C438.5 936.5 444.0 944.7 446.4 948.9 C448.7 953.1 450.1 957.5 450.8 959.3" fill="none" stroke="#1f77b4" stroke-width="2.70" stroke-linejoin="round" stroke-linecap="butt" clip-path="url(#cB)"/>
<path d="M725.7 28.6 C727.3 28.9 732.1 29.1 735.3 30.5 C738.5 31.9 741.7 34.7 744.8 37.2 C748.0 39.7 751.2 43.4 754.4 45.8 C757.6 48.2 760.0 50.3 764.0 51.5 C767.9 52.8 775.9 53.1 778.3 53.4" fill="none" stroke="#1f77b4" stroke-width="2.70" stroke-linejoin="round" stroke-linecap="butt" clip-path="url(#cC)"/>
<path d="M725.7 79.2 C728.0 78.3 734.7 75.7 739.1 73.5 C743.6 71.3 748.3 67.7 752.5 65.9 C756.6 64.0 760.4 62.6 764.0 62.4 C767.5 62.3 771.1 64.3 773.5 64.9 C775.9 65.5 777.5 65.7 778.3 65.9" fill="none" stroke="#1f77b4" stroke-width="2.70" stroke-linejoin="round" stroke-linecap="butt" clip-path="url(#cC)"/>
<path d="M725.7 79.2 C728.0 78.9 733.7 78.3 739.1 77.3 C744.5 76.4 751.7 74.5 758.2 73.5 C764.7 72.6 774.9 71.9 778.3 71.6" fill="none" stroke="#1f77b4" stroke-width="2.70" stroke-linejoin="round" stroke-linecap="butt" clip-path="url(#cC)"/>
<path d="M725.7 89.7 C728.0 89.3 734.7 87.8 739.1 86.9 C743.6 85.9 748.0 85.0 752.5 84.0 C756.9 83.1 761.6 81.8 765.9 81.2 C770.2 80.5 776.2 80.4 778.3 80.2" fill="none" stroke="#1f77b4" stroke-width="2.70" stroke-linejoin="round" stroke-linecap="butt" clip-path="url(#cC)"/>
<path d="M725.7 89.7 C727.3 90.5 732.1 93.4 735.3 94.5 C738.5 95.6 741.7 96.8 744.8 96.4 C748.0 96.1 750.9 94.8 754.4 92.6 C757.9 90.4 761.9 85.8 765.9 83.1 C769.8 80.4 776.2 77.5 778.3 76.4" fill="none" stroke="#1f77b4" stroke-width="2.70" stroke-linejoin="round" stroke-linecap="butt" clip-path="url(#cC)"/>
<path d="M778.3 53.4 C780.0 53.5 785.5 53.6 788.8 54.0 C792.1 54.4 795.8 55.5 798.3 55.9 C800.9 56.3 803.1 56.2 804.1 56.3" fill="none" stroke="#1f77b4" stroke-width="2.70" stroke-linejoin="round" stroke-linecap="butt" clip-path="url(#cC)"/>
<path d="M778.3 65.9 C780.0 66.0 784.5 66.7 788.8 66.8 C793.1 67.0 801.5 66.8 804.1 66.8" fill="none" stroke="#1f77b4" stroke-width="2.70" stroke-linejoin="round" stroke-linecap="butt" clip-path="url(#cC)"/>
<path d="M778.3 71.6 C780.0 71.3 784.5 70.4 788.8 70.1 C793.1 69.7 801.5 69.4 804.1 69.3" fill="none" stroke="#1f77b4" stroke-width="2.70" stroke-linejoin="round" stroke-linecap="butt" clip-path="url(#cC)"/>
<path d="M778.3 76.4 C780.0 76.5 784.5 76.9 788.8 77.3 C793.1 77.8 801.5 78.9 804.1 79.2" fill="none" stroke="#1f77b4" stroke-width="2.70" stroke-linejoin="round" stroke-linecap="butt" clip-path="url(#cC)"/>
<path d="M778.3 80.2 C780.0 80.7 785.5 82.1 788.8 83.1 C792.1 84.0 795.8 85.3 798.3 85.9 C800.9 86.6 803.1 86.7 804.1 86.9" fill="none" stroke="#1f77b4" stroke-width="2.70" stroke-linejoin="round" stroke-linecap="butt" clip-path="url(#cC)"/>
<path d="M778.3 80.2 C779.4 81.0 782.9 82.9 785.0 85.0 C787.0 87.0 788.5 90.4 790.7 92.6 C792.9 94.8 796.1 97.2 798.3 98.3 C800.6 99.5 803.1 99.1 804.1 99.3" fill="none" stroke="#1f77b4" stroke-width="2.70" stroke-linejoin="round" stroke-linecap="butt" clip-path="url(#cC)"/>
<path d="M804.1 56.3 C805.4 56.1 809.2 55.6 811.7 55.4 C814.3 55.1 817.4 54.8 819.4 54.8 C821.4 54.8 823.0 55.3 823.8 55.4" fill="none" stroke="#1f77b4" stroke-width="2.70" stroke-linejoin="round" stroke-linecap="butt" clip-path="url(#cC)"/>
<path d="M804.1 66.8 C806.0 66.8 812.3 66.8 815.5 66.8 C818.8 66.8 822.4 66.8 823.8 66.8" fill="none" stroke="#1f77b4" stroke-width="2.70" stroke-linejoin="round" stroke-linecap="butt" clip-path="url(#cC)"/>
<path d="M804.1 69.3 C806.0 69.3 812.3 69.2 815.5 69.3 C818.8 69.4 822.4 69.6 823.8 69.7" fill="none" stroke="#1f77b4" stroke-width="2.70" stroke-linejoin="round" stroke-linecap="butt" clip-path="url(#cC)"/>
<path d="M804.1 79.2 C806.0 79.3 812.3 79.4 815.5 79.6 C818.8 79.9 822.4 80.6 823.8 80.8" fill="none" stroke="#1f77b4" stroke-width="2.70" stroke-linejoin="round" stroke-linecap="butt" clip-path="url(#cC)"/>
<path d="M804.1 86.9 C806.0 86.9 812.3 86.9 815.5 86.9 C818.8 86.9 822.4 86.9 823.8 86.9" fill="none" stroke="#1f77b4" stroke-width="2.70" stroke-linejoin="round" stroke-linecap="butt" clip-path="url(#cC)"/>
<path d="M804.1 99.3 C805.7 99.1 810.4 98.7 813.6 98.3 C816.9 98.0 822.1 97.6 823.8 97.4" fill="none" stroke="#1f77b4" stroke-width="2.70" stroke-linejoin="round" stroke-linecap="butt" clip-path="url(#cC)"/>
<path d="M823.8 55.4 C824.6 55.4 827.1 55.2 828.9 55.4 C830.7 55.5 832.7 56.8 834.7 56.3 C836.6 55.8 837.8 55.0 840.4 52.5 C842.9 49.9 846.4 44.4 849.9 41.0 C853.4 37.7 857.6 34.5 861.4 32.4 C865.2 30.4 869.9 29.2 872.9 28.6 C875.9 28.0 878.4 28.6 879.6 28.6" fill="none" stroke="#1f77b4" stroke-width="2.70" stroke-linejoin="round" stroke-linecap="butt" clip-path="url(#cC)"/>
<path d="M823.8 66.8 C824.9 66.5 828.7 65.4 830.8 64.9 C833.0 64.4 834.3 63.6 836.6 64.0 C838.8 64.3 841.3 65.5 844.2 66.8 C847.1 68.1 850.3 70.0 853.8 71.6 C857.3 73.2 860.9 75.1 865.2 76.4 C869.5 77.6 877.2 78.8 879.6 79.2" fill="none" stroke="#1f77b4" stroke-width="2.70" stroke-linejoin="round" stroke-linecap="butt" clip-path="url(#cC)"/>
<path d="M823.8 69.7 C825.6 70.1 829.7 71.0 834.7 72.0 C839.7 72.9 846.3 74.2 853.8 75.4 C861.3 76.6 875.3 78.6 879.6 79.2" fill="none" stroke="#1f77b4" stroke-width="2.70" stroke-linejoin="round" stroke-linecap="butt" clip-path="url(#cC)"/>
<path d="M823.8 80.8 C824.9 81.2 828.4 82.2 830.8 83.1 C833.3 83.9 834.7 85.1 838.5 85.9 C842.3 86.7 846.9 87.2 853.8 87.8 C860.6 88.5 875.3 89.4 879.6 89.7" fill="none" stroke="#1f77b4" stroke-width="2.70" stroke-linejoin="round" stroke-linecap="butt" clip-path="url(#cC)"/>
<path d="M823.8 86.9 C825.6 87.0 829.7 87.5 834.7 87.8 C839.7 88.2 846.3 88.5 853.8 88.8 C861.3 89.1 875.3 89.6 879.6 89.7" fill="none" stroke="#1f77b4" stroke-width="2.70" stroke-linejoin="round" stroke-linecap="butt" clip-path="url(#cC)"/>
<path d="M823.8 97.4 C824.6 98.5 827.1 102.3 828.9 104.1 C830.7 105.9 832.4 107.4 834.7 108.3 C836.9 109.2 839.1 110.1 842.3 109.4 C845.5 108.7 849.9 106.2 853.8 104.1 C857.6 101.9 860.9 98.8 865.2 96.4 C869.5 94.0 877.2 90.9 879.6 89.7" fill="none" stroke="#1f77b4" stroke-width="2.70" stroke-linejoin="round" stroke-linecap="butt" clip-path="url(#cC)"/>
<path d="M725.7 163.3 C727.3 162.7 732.1 161.1 735.3 159.5 C738.5 157.9 741.0 156.3 744.8 153.8 C748.7 151.2 754.1 147.1 758.2 144.2 C762.4 141.3 766.3 138.2 769.7 136.6 C773.0 135.0 776.9 135.0 778.3 134.7" fill="none" stroke="#1f77b4" stroke-width="2.70" stroke-linejoin="round" stroke-linecap="butt" clip-path="url(#cC)"/>
<path d="M725.7 163.3 C728.0 162.4 734.3 160.1 739.1 157.6 C743.9 155.0 749.9 150.9 754.4 148.0 C758.9 145.2 761.9 142.3 765.9 140.4 C769.8 138.5 776.2 137.2 778.3 136.6" fill="none" stroke="#1f77b4" stroke-width="2.70" stroke-linejoin="round" stroke-linecap="butt" clip-path="url(#cC)"/>
<path d="M725.7 183.4 C727.3 182.9 732.1 182.3 735.3 180.5 C738.5 178.8 741.7 176.1 744.8 172.9 C748.0 169.7 751.2 165.6 754.4 161.4 C757.6 157.3 761.1 151.7 764.0 148.0 C766.8 144.4 769.2 141.2 771.6 139.4 C774.0 137.7 777.2 137.8 778.3 137.5" fill="none" stroke="#1f77b4" stroke-width="2.70" stroke-linejoin="round" stroke-linecap="butt" clip-path="url(#cC)"/>
<path d="M725.7 183.4 C728.0 182.3 735.0 179.7 739.1 176.7 C743.2 173.7 746.8 168.7 750.6 165.2 C754.4 161.7 758.5 157.6 762.0 155.7 C765.5 153.8 768.9 154.1 771.6 153.8 C774.3 153.4 777.2 153.8 778.3 153.8" fill="none" stroke="#1f77b4" stroke-width="2.70" stroke-linejoin="round" stroke-linecap="butt" clip-path="url(#cC)"/>
<path d="M778.3 134.7 C779.4 134.7 782.3 134.2 785.0 134.7 C787.7 135.1 791.3 136.7 794.5 137.5 C797.7 138.3 802.5 139.1 804.1 139.4" fill="none" stroke="#1f77b4" stroke-width="2.70" stroke-linejoin="round" stroke-linecap="butt" clip-path="url(#cC)"/>
<path d="M778.3 134.7 C780.0 135.6 785.8 138.8 788.8 140.4 C791.8 142.0 793.9 143.9 796.4 144.2 C799.0 144.5 802.8 142.6 804.1 142.3" fill="none" stroke="#1f77b4" stroke-width="2.70" stroke-linejoin="round" stroke-linecap="butt" clip-path="url(#cC)"/>
<path d="M778.3 136.6 C779.7 137.5 783.9 140.1 786.9 142.3 C789.9 144.5 793.6 148.5 796.4 149.9 C799.3 151.4 802.8 150.7 804.1 150.9" fill="none" stroke="#1f77b4" stroke-width="2.70" stroke-linejoin="round" stroke-linecap="butt" clip-path="url(#cC)"/>
<path d="M778.3 137.5 C779.4 138.6 782.6 141.8 785.0 144.2 C787.4 146.6 790.1 149.9 792.6 151.9 C795.2 153.8 798.3 154.9 800.3 155.7 C802.2 156.5 803.4 156.5 804.1 156.6" fill="none" stroke="#1f77b4" stroke-width="2.70" stroke-linejoin="round" stroke-linecap="butt" clip-path="url(#cC)"/>
<path d="M778.3 153.8 C780.0 154.1 785.8 154.9 788.8 155.7 C791.8 156.5 793.9 157.7 796.4 158.5 C799.0 159.3 802.8 160.1 804.1 160.5" fill="none" stroke="#1f77b4" stroke-width="2.70" stroke-linejoin="round" stroke-linecap="butt" clip-path="url(#cC)"/>
<path d="M804.1 139.4 C806.0 139.4 812.3 139.3 815.5 139.4 C818.8 139.6 822.4 140.2 823.8 140.4" fill="none" stroke="#1f77b4" stroke-width="2.70" stroke-linejoin="round" stroke-linecap="butt" clip-path="url(#cC)"/>
<path d="M804.1 142.3 C805.7 142.3 810.4 142.3 813.6 142.3 C816.9 142.3 822.1 142.3 823.8 142.3" fill="none" stroke="#1f77b4" stroke-width="2.70" stroke-linejoin="round" stroke-linecap="butt" clip-path="url(#cC)"/>
<path d="M804.1 150.9 C805.7 150.4 810.4 148.8 813.6 148.0 C816.9 147.2 822.1 146.4 823.8 146.1" fill="none" stroke="#1f77b4" stroke-width="2.70" stroke-linejoin="round" stroke-linecap="butt" clip-path="url(#cC)"/>
<path d="M804.1 156.6 C805.7 156.2 810.4 154.6 813.6 153.8 C816.9 153.0 822.1 152.2 823.8 151.9" fill="none" stroke="#1f77b4" stroke-width="2.70" stroke-linejoin="round" stroke-linecap="butt" clip-path="url(#cC)"/>
<path d="M804.1 160.5 C805.7 160.6 810.4 161.0 813.6 161.4 C816.9 161.8 822.1 162.7 823.8 162.9" fill="none" stroke="#1f77b4" stroke-width="2.70" stroke-linejoin="round" stroke-linecap="butt" clip-path="url(#cC)"/>
<path d="M823.8 140.4 C825.6 140.5 831.2 141.3 834.7 141.3 C838.1 141.4 841.0 140.0 844.2 140.8 C847.4 141.6 850.3 143.3 853.8 146.1 C857.3 148.9 860.9 154.7 865.2 157.6 C869.5 160.5 877.2 162.4 879.6 163.3" fill="none" stroke="#1f77b4" stroke-width="2.70" stroke-linejoin="round" stroke-linecap="butt" clip-path="url(#cC)"/>
<path d="M823.8 142.3 C825.9 142.6 832.2 143.3 836.6 144.2 C840.9 145.2 845.5 146.1 849.9 148.0 C854.4 149.9 858.4 153.1 863.3 155.7 C868.3 158.2 876.9 162.0 879.6 163.3" fill="none" stroke="#1f77b4" stroke-width="2.70" stroke-linejoin="round" stroke-linecap="butt" clip-path="url(#cC)"/>
<path d="M823.8 146.1 C825.6 146.8 830.3 148.4 834.7 149.9 C839.0 151.5 844.8 153.9 849.9 155.7 C855.0 157.4 860.3 159.2 865.2 160.5 C870.2 161.7 877.2 162.8 879.6 163.3" fill="none" stroke="#1f77b4" stroke-width="2.70" stroke-linejoin="round" stroke-linecap="butt" clip-path="url(#cC)"/>
<path d="M823.8 151.9 C825.6 153.1 830.9 157.3 834.7 159.5 C838.4 161.7 842.0 163.3 846.1 165.2 C850.3 167.1 855.4 168.7 859.5 171.0 C863.6 173.2 867.6 176.5 871.0 178.6 C874.3 180.7 878.1 182.6 879.6 183.4" fill="none" stroke="#1f77b4" stroke-width="2.70" stroke-linejoin="round" stroke-linecap="butt" clip-path="url(#cC)"/>
<path d="M823.8 162.9 C824.6 164.3 827.1 168.5 828.9 171.0 C830.7 173.4 832.1 175.9 834.7 177.7 C837.2 179.4 840.4 180.7 844.2 181.5 C848.0 182.2 851.7 181.7 857.6 182.0 C863.5 182.4 875.9 183.2 879.6 183.4" fill="none" stroke="#1f77b4" stroke-width="2.70" stroke-linejoin="round" stroke-linecap="butt" clip-path="url(#cC)"/>
<path d="M823.8 162.9 C825.3 164.6 829.7 170.1 832.7 172.9 C835.8 175.6 838.2 178.3 842.3 179.6 C846.4 180.8 852.8 180.2 857.6 180.5 C862.4 180.8 867.3 181.0 871.0 181.5 C874.6 182.0 878.1 183.1 879.6 183.4" fill="none" stroke="#1f77b4" stroke-width="2.70" stroke-linejoin="round" stroke-linecap="butt" clip-path="url(#cC)"/>
<path d="M879.8 28.6 C881.5 28.8 887.0 28.4 890.3 29.6 C893.6 30.7 896.7 32.7 899.9 35.3 C903.0 37.8 906.2 41.5 909.4 44.9 C912.6 48.2 916.3 52.8 919.0 55.4 C921.7 57.9 924.6 59.4 925.7 60.2" fill="none" stroke="#1f77b4" stroke-width="2.70" stroke-linejoin="round" stroke-linecap="butt" clip-path="url(#cC)"/>
<path d="M879.8 79.3 C882.2 78.8 889.2 77.2 894.1 76.4 C899.1 75.6 904.2 74.8 909.4 74.5 C914.7 74.2 923.0 74.5 925.7 74.5" fill="none" stroke="#1f77b4" stroke-width="2.70" stroke-linejoin="round" stroke-linecap="butt" clip-path="url(#cC)"/>
<path d="M879.8 90.7 C881.5 90.4 886.6 90.4 890.3 88.8 C894.0 87.2 897.9 84.2 901.8 81.2 C905.6 78.2 909.3 74.2 913.2 70.7 C917.2 67.2 923.6 61.9 925.7 60.2" fill="none" stroke="#1f77b4" stroke-width="2.70" stroke-linejoin="round" stroke-linecap="butt" clip-path="url(#cC)"/>
<path d="M879.8 90.7 C881.5 91.4 886.6 92.7 890.3 94.6 C894.0 96.5 897.9 99.8 901.8 102.2 C905.6 104.6 909.3 107.3 913.2 108.9 C917.2 110.5 923.6 111.3 925.7 111.8" fill="none" stroke="#1f77b4" stroke-width="2.70" stroke-linejoin="round" stroke-linecap="butt" clip-path="url(#cC)"/>
<path d="M925.7 60.2 C927.4 59.7 932.5 58.2 936.2 57.3 C939.9 56.4 944.1 55.3 947.7 54.8 C951.2 54.3 955.9 54.5 957.6 54.4" fill="none" stroke="#1f77b4" stroke-width="2.70" stroke-linejoin="round" stroke-linecap="butt" clip-path="url(#cC)"/>
<path d="M925.7 60.2 C927.4 60.6 932.5 62.1 936.2 63.0 C939.9 64.0 944.1 65.3 947.7 65.9 C951.2 66.5 955.9 66.7 957.6 66.8" fill="none" stroke="#1f77b4" stroke-width="2.70" stroke-linejoin="round" stroke-linecap="butt" clip-path="url(#cC)"/>
<path d="M925.7 74.5 C927.4 74.2 932.5 73.2 936.2 72.6 C939.9 71.9 944.1 71.1 947.7 70.7 C951.2 70.2 955.9 69.9 957.6 69.7" fill="none" stroke="#1f77b4" stroke-width="2.70" stroke-linejoin="round" stroke-linecap="butt" clip-path="url(#cC)"/>
<path d="M925.7 74.5 C927.4 75.1 932.5 77.3 936.2 78.3 C939.9 79.4 944.1 80.5 947.7 80.8 C951.2 81.1 955.9 80.3 957.6 80.2" fill="none" stroke="#1f77b4" stroke-width="2.70" stroke-linejoin="round" stroke-linecap="butt" clip-path="url(#cC)"/>
<path d="M925.7 111.8 C927.4 111.1 932.5 110.5 936.2 108.0 C939.9 105.4 944.1 100.0 947.7 96.5 C951.2 93.0 955.9 88.5 957.6 86.9" fill="none" stroke="#1f77b4" stroke-width="2.70" stroke-linejoin="round" stroke-linecap="butt" clip-path="url(#cC)"/>
<path d="M925.7 111.8 C927.4 111.5 932.5 111.1 936.2 109.9 C939.9 108.6 944.1 106.2 947.7 104.1 C951.2 102.1 955.9 98.6 957.6 97.4" fill="none" stroke="#1f77b4" stroke-width="2.70" stroke-linejoin="round" stroke-linecap="butt" clip-path="url(#cC)"/>
<path d="M957.6 54.4 C959.1 54.6 963.5 55.1 966.8 55.4 C970.1 55.6 975.5 55.7 977.3 55.8" fill="none" stroke="#1f77b4" stroke-width="2.70" stroke-linejoin="round" stroke-linecap="butt" clip-path="url(#cC)"/>
<path d="M957.6 66.8 C959.1 66.8 963.5 66.8 966.8 66.8 C970.1 66.8 975.5 66.8 977.3 66.8" fill="none" stroke="#1f77b4" stroke-width="2.70" stroke-linejoin="round" stroke-linecap="butt" clip-path="url(#cC)"/>
<path d="M957.6 69.7 C959.1 69.7 963.5 69.6 966.8 69.7 C970.1 69.8 975.5 70.0 977.3 70.1" fill="none" stroke="#1f77b4" stroke-width="2.70" stroke-linejoin="round" stroke-linecap="butt" clip-path="url(#cC)"/>
<path d="M957.6 80.2 C959.1 79.9 963.5 78.8 966.8 78.3 C970.1 77.8 975.5 77.5 977.3 77.4" fill="none" stroke="#1f77b4" stroke-width="2.70" stroke-linejoin="round" stroke-linecap="butt" clip-path="url(#cC)"/>
<path d="M957.6 86.9 C959.1 86.9 963.5 86.5 966.8 86.5 C970.1 86.5 975.5 86.9 977.3 86.9" fill="none" stroke="#1f77b4" stroke-width="2.70" stroke-linejoin="round" stroke-linecap="butt" clip-path="url(#cC)"/>
<path d="M957.6 97.4 C959.1 97.6 963.5 98.1 966.8 98.4 C970.1 98.7 975.5 99.2 977.3 99.3" fill="none" stroke="#1f77b4" stroke-width="2.70" stroke-linejoin="round" stroke-linecap="butt" clip-path="url(#cC)"/>
<path d="M977.3 55.8 C979.4 55.9 985.7 55.9 989.7 56.3 C993.7 56.7 996.9 57.4 1001.2 58.2 C1005.5 59.0 1013.1 60.6 1015.5 61.1" fill="none" stroke="#1f77b4" stroke-width="2.70" stroke-linejoin="round" stroke-linecap="butt" clip-path="url(#cC)"/>
<path d="M977.3 66.8 C979.4 66.7 985.7 66.7 989.7 65.9 C993.7 65.1 996.9 63.0 1001.2 62.1 C1005.5 61.2 1013.1 60.8 1015.5 60.5" fill="none" stroke="#1f77b4" stroke-width="2.70" stroke-linejoin="round" stroke-linecap="butt" clip-path="url(#cC)"/>
<path d="M977.3 70.1 C979.4 70.4 985.7 71.1 989.7 71.6 C993.7 72.2 996.9 73.1 1001.2 73.5 C1005.5 74.0 1013.1 74.3 1015.5 74.5" fill="none" stroke="#1f77b4" stroke-width="2.70" stroke-linejoin="round" stroke-linecap="butt" clip-path="url(#cC)"/>
<path d="M977.3 77.4 C978.4 77.7 981.6 78.7 984.0 79.3 C986.4 79.8 988.8 81.0 991.6 80.8 C994.5 80.6 997.2 79.4 1001.2 78.3 C1005.2 77.3 1013.1 75.1 1015.5 74.5" fill="none" stroke="#1f77b4" stroke-width="2.70" stroke-linejoin="round" stroke-linecap="butt" clip-path="url(#cC)"/>
<path d="M977.3 86.9 C978.7 87.6 982.9 88.5 985.9 90.7 C988.9 93.0 992.3 97.3 995.5 100.3 C998.6 103.3 1001.7 107.0 1005.0 108.9 C1008.4 110.8 1013.8 111.3 1015.5 111.8" fill="none" stroke="#1f77b4" stroke-width="2.70" stroke-linejoin="round" stroke-linecap="butt" clip-path="url(#cC)"/>
<path d="M977.3 99.3 C979.0 99.8 984.1 100.9 987.8 102.2 C991.5 103.5 995.8 105.6 999.3 107.0 C1002.8 108.4 1006.1 110.0 1008.8 110.8 C1011.6 111.6 1014.4 111.6 1015.5 111.8" fill="none" stroke="#1f77b4" stroke-width="2.70" stroke-linejoin="round" stroke-linecap="butt" clip-path="url(#cC)"/>
<path d="M1015.5 61.1 C1017.6 60.3 1024.0 57.4 1028.0 56.3 C1031.9 55.2 1036.1 54.8 1039.4 54.4 C1042.8 54.0 1046.6 54.1 1048.0 54.0" fill="none" stroke="#1f77b4" stroke-width="2.70" stroke-linejoin="round" stroke-linecap="butt" clip-path="url(#cC)"/>
<path d="M1015.5 60.5 C1017.6 60.9 1024.0 62.1 1028.0 63.0 C1031.9 64.0 1036.1 65.6 1039.4 66.3 C1042.8 66.9 1046.6 66.7 1048.0 66.8" fill="none" stroke="#1f77b4" stroke-width="2.70" stroke-linejoin="round" stroke-linecap="butt" clip-path="url(#cC)"/>
<path d="M1015.5 74.5 C1017.6 74.0 1024.0 72.4 1028.0 71.6 C1031.9 70.9 1036.1 70.4 1039.4 70.1 C1042.8 69.8 1046.6 69.8 1048.0 69.7" fill="none" stroke="#1f77b4" stroke-width="2.70" stroke-linejoin="round" stroke-linecap="butt" clip-path="url(#cC)"/>
<path d="M1015.5 74.5 C1017.6 75.0 1024.0 76.3 1028.0 77.4 C1031.9 78.4 1036.1 80.2 1039.4 80.8 C1042.8 81.4 1046.6 80.8 1048.0 80.8" fill="none" stroke="#1f77b4" stroke-width="2.70" stroke-linejoin="round" stroke-linecap="butt" clip-path="url(#cC)"/>
<path d="M1015.5 111.8 C1017.0 111.5 1020.8 111.8 1024.1 109.9 C1027.5 108.0 1032.4 103.5 1035.6 100.3 C1038.8 97.1 1041.2 93.0 1043.3 90.7 C1045.3 88.5 1047.2 87.6 1048.0 86.9" fill="none" stroke="#1f77b4" stroke-width="2.70" stroke-linejoin="round" stroke-linecap="butt" clip-path="url(#cC)"/>
<path d="M1015.5 111.8 C1017.3 111.1 1022.4 109.5 1026.1 108.0 C1029.7 106.4 1033.9 104.1 1037.5 102.2 C1041.2 100.3 1046.3 97.4 1048.0 96.5" fill="none" stroke="#1f77b4" stroke-width="2.70" stroke-linejoin="round" stroke-linecap="butt" clip-path="url(#cC)"/>
<path d="M1048.0 54.0 C1049.5 53.9 1053.5 53.6 1056.6 53.5 C1059.8 53.4 1065.4 53.5 1067.2 53.5" fill="none" stroke="#1f77b4" stroke-width="2.70" stroke-linejoin="round" stroke-linecap="butt" clip-path="url(#cC)"/>
<path d="M1048.0 66.8 C1049.5 66.7 1053.5 66.2 1056.6 65.9 C1059.8 65.6 1065.4 65.1 1067.2 64.9" fill="none" stroke="#1f77b4" stroke-width="2.70" stroke-linejoin="round" stroke-linecap="butt" clip-path="url(#cC)"/>
<path d="M1048.0 69.7 C1049.5 69.8 1053.5 69.8 1056.6 70.1 C1059.8 70.4 1065.4 71.4 1067.2 71.6" fill="none" stroke="#1f77b4" stroke-width="2.70" stroke-linejoin="round" stroke-linecap="butt" clip-path="url(#cC)"/>
<path d="M1048.0 80.8 C1049.5 80.2 1053.5 78.1 1056.6 77.4 C1059.8 76.6 1065.4 76.6 1067.2 76.4" fill="none" stroke="#1f77b4" stroke-width="2.70" stroke-linejoin="round" stroke-linecap="butt" clip-path="url(#cC)"/>
<path d="M1048.0 86.9 C1049.5 86.3 1053.5 84.2 1056.6 83.1 C1059.8 82.0 1065.4 80.7 1067.2 80.2" fill="none" stroke="#1f77b4" stroke-width="2.70" stroke-linejoin="round" stroke-linecap="butt" clip-path="url(#cC)"/>
<path d="M1048.0 96.5 C1049.5 95.2 1053.5 91.4 1056.6 88.8 C1059.8 86.2 1065.4 82.1 1067.2 80.8" fill="none" stroke="#1f77b4" stroke-width="2.70" stroke-linejoin="round" stroke-linecap="butt" clip-path="url(#cC)"/>
<path d="M879.8 163.4 C881.5 162.1 886.6 158.6 890.3 155.8 C894.0 152.9 897.9 148.7 901.8 146.2 C905.6 143.6 909.3 141.5 913.2 140.5 C917.2 139.4 923.6 140.1 925.7 140.1" fill="none" stroke="#1f77b4" stroke-width="2.70" stroke-linejoin="round" stroke-linecap="butt" clip-path="url(#cC)"/>
<path d="M879.8 163.4 C882.2 163.1 889.2 162.4 894.1 161.5 C899.1 160.5 904.2 158.6 909.4 157.7 C914.7 156.7 923.0 156.1 925.7 155.8" fill="none" stroke="#1f77b4" stroke-width="2.70" stroke-linejoin="round" stroke-linecap="butt" clip-path="url(#cC)"/>
<path d="M879.8 182.5 C881.5 180.6 886.3 174.6 890.3 171.1 C894.3 167.5 899.9 163.4 903.7 161.5 C907.5 159.6 909.6 159.9 913.2 159.6 C916.9 159.3 923.6 159.6 925.7 159.6" fill="none" stroke="#1f77b4" stroke-width="2.70" stroke-linejoin="round" stroke-linecap="butt" clip-path="url(#cC)"/>
<path d="M879.8 182.5 C881.5 182.7 886.6 182.5 890.3 183.5 C894.0 184.4 897.9 186.2 901.8 188.3 C905.6 190.3 909.3 193.7 913.2 195.9 C917.2 198.1 923.6 200.7 925.7 201.6" fill="none" stroke="#1f77b4" stroke-width="2.70" stroke-linejoin="round" stroke-linecap="butt" clip-path="url(#cC)"/>
<path d="M925.7 140.1 C928.4 140.1 936.6 140.5 941.9 140.5 C947.2 140.5 955.0 140.1 957.6 140.1" fill="none" stroke="#1f77b4" stroke-width="2.70" stroke-linejoin="round" stroke-linecap="butt" clip-path="url(#cC)"/>
<path d="M925.7 155.8 C927.7 155.1 934.1 153.2 938.1 151.9 C942.1 150.7 946.3 149.1 949.6 148.1 C952.8 147.2 956.3 146.5 957.6 146.2" fill="none" stroke="#1f77b4" stroke-width="2.70" stroke-linejoin="round" stroke-linecap="butt" clip-path="url(#cC)"/>
<path d="M925.7 159.6 C926.8 159.6 930.0 159.3 932.4 159.6 C934.8 159.9 937.1 162.1 940.0 161.5 C942.9 160.9 946.6 157.3 949.6 155.8 C952.5 154.2 956.3 152.6 957.6 151.9" fill="none" stroke="#1f77b4" stroke-width="2.70" stroke-linejoin="round" stroke-linecap="butt" clip-path="url(#cC)"/>
<path d="M925.7 201.6 C926.8 200.7 929.7 199.1 932.4 195.9 C935.1 192.7 938.7 187.0 941.9 182.5 C945.1 178.1 948.9 172.3 951.5 169.1 C954.1 166.0 956.6 164.4 957.6 163.4" fill="none" stroke="#1f77b4" stroke-width="2.70" stroke-linejoin="round" stroke-linecap="butt" clip-path="url(#cC)"/>
<path d="M925.7 201.6 C926.9 200.5 930.4 198.3 933.3 195.0 C936.2 191.6 939.7 185.9 942.9 181.6 C946.1 177.2 950.0 171.7 952.4 168.8 C954.9 165.8 956.7 164.6 957.6 163.8" fill="none" stroke="#1f77b4" stroke-width="2.70" stroke-linejoin="round" stroke-linecap="butt" clip-path="url(#cC)"/>
<path d="M957.6 140.1 C959.1 140.3 963.5 141.0 966.8 141.4 C970.1 141.8 975.5 142.2 977.3 142.4" fill="none" stroke="#1f77b4" stroke-width="2.70" stroke-linejoin="round" stroke-linecap="butt" clip-path="url(#cC)"/>
<path d="M957.6 146.2 C959.1 145.9 963.5 144.6 966.8 144.3 C970.1 144.0 975.5 144.3 977.3 144.3" fill="none" stroke="#1f77b4" stroke-width="2.70" stroke-linejoin="round" stroke-linecap="butt" clip-path="url(#cC)"/>
<path d="M957.6 151.9 C959.1 152.4 963.5 154.0 966.8 154.8 C970.1 155.6 975.5 156.4 977.3 156.7" fill="none" stroke="#1f77b4" stroke-width="2.70" stroke-linejoin="round" stroke-linecap="butt" clip-path="url(#cC)"/>
<path d="M957.6 163.4 C959.1 163.1 963.5 162.0 966.8 161.5 C970.1 161.0 975.5 160.7 977.3 160.5" fill="none" stroke="#1f77b4" stroke-width="2.70" stroke-linejoin="round" stroke-linecap="butt" clip-path="url(#cC)"/>
<path d="M977.3 142.4 C979.4 142.1 985.7 140.8 989.7 140.5 C993.7 140.1 996.9 140.1 1001.2 140.1 C1005.5 140.1 1013.1 140.4 1015.5 140.5" fill="none" stroke="#1f77b4" stroke-width="2.70" stroke-linejoin="round" stroke-linecap="butt" clip-path="url(#cC)"/>
<path d="M977.3 144.3 C979.4 144.8 985.7 145.9 989.7 147.2 C993.7 148.4 996.9 150.5 1001.2 151.9 C1005.5 153.4 1013.1 155.1 1015.5 155.8" fill="none" stroke="#1f77b4" stroke-width="2.70" stroke-linejoin="round" stroke-linecap="butt" clip-path="url(#cC)"/>
<path d="M977.3 156.7 C979.4 156.2 985.7 154.0 989.7 153.8 C993.7 153.7 996.9 154.8 1001.2 155.8 C1005.5 156.7 1013.1 158.9 1015.5 159.6" fill="none" stroke="#1f77b4" stroke-width="2.70" stroke-linejoin="round" stroke-linecap="butt" clip-path="url(#cC)"/>
<path d="M977.3 160.5 C978.7 162.3 982.9 166.7 985.9 171.1 C988.9 175.4 992.3 181.9 995.5 186.3 C998.6 190.8 1001.7 195.3 1005.0 197.8 C1008.4 200.4 1013.8 201.0 1015.5 201.6" fill="none" stroke="#1f77b4" stroke-width="2.70" stroke-linejoin="round" stroke-linecap="butt" clip-path="url(#cC)"/>
<path d="M977.3 160.9 C978.8 162.8 983.2 167.7 986.3 172.0 C989.4 176.3 992.8 182.6 996.0 186.9 C999.2 191.3 1002.2 195.7 1005.4 198.2 C1008.7 200.7 1013.8 201.1 1015.5 201.6" fill="none" stroke="#1f77b4" stroke-width="2.70" stroke-linejoin="round" stroke-linecap="butt" clip-path="url(#cC)"/>
<path d="M1015.5 140.5 C1017.6 140.5 1024.0 140.4 1028.0 140.5 C1031.9 140.5 1036.1 140.5 1039.4 140.8 C1042.8 141.2 1046.6 142.1 1048.0 142.4" fill="none" stroke="#1f77b4" stroke-width="2.70" stroke-linejoin="round" stroke-linecap="butt" clip-path="url(#cC)"/>
<path d="M1015.5 155.8 C1017.6 155.1 1024.0 153.2 1028.0 151.9 C1031.9 150.7 1036.1 148.9 1039.4 148.1 C1042.8 147.3 1046.6 147.3 1048.0 147.2" fill="none" stroke="#1f77b4" stroke-width="2.70" stroke-linejoin="round" stroke-linecap="butt" clip-path="url(#cC)"/>
<path d="M1015.5 159.6 C1017.0 159.6 1021.1 159.3 1024.1 159.6 C1027.2 159.9 1030.5 161.8 1033.7 161.5 C1036.9 161.2 1040.9 158.9 1043.3 157.7 C1045.7 156.4 1047.2 154.5 1048.0 153.8" fill="none" stroke="#1f77b4" stroke-width="2.70" stroke-linejoin="round" stroke-linecap="butt" clip-path="url(#cC)"/>
<path d="M1015.5 201.6 C1016.7 200.1 1019.5 195.9 1022.2 192.1 C1024.9 188.3 1028.6 182.5 1031.8 178.7 C1035.0 174.9 1038.6 171.7 1041.3 169.1 C1044.1 166.6 1046.9 164.4 1048.0 163.4" fill="none" stroke="#1f77b4" stroke-width="2.70" stroke-linejoin="round" stroke-linecap="butt" clip-path="url(#cC)"/>
<path d="M1015.5 201.6 C1016.7 200.2 1019.8 196.7 1022.6 193.0 C1025.4 189.4 1029.0 183.5 1032.2 179.7 C1035.4 175.8 1039.1 172.4 1041.7 169.7 C1044.4 167.1 1047.0 164.8 1048.0 163.8" fill="none" stroke="#1f77b4" stroke-width="2.70" stroke-linejoin="round" stroke-linecap="butt" clip-path="url(#cC)"/>
<path d="M1048.0 142.4 C1049.5 141.7 1053.5 139.9 1056.6 138.5 C1059.8 137.2 1065.4 135.0 1067.2 134.3" fill="none" stroke="#1f77b4" stroke-width="2.70" stroke-linejoin="round" stroke-linecap="butt" clip-path="url(#cC)"/>
<path d="M1048.0 147.2 C1049.5 146.4 1053.5 144.4 1056.6 142.4 C1059.8 140.3 1065.4 136.0 1067.2 134.7" fill="none" stroke="#1f77b4" stroke-width="2.70" stroke-linejoin="round" stroke-linecap="butt" clip-path="url(#cC)"/>
<path d="M1048.0 153.8 C1049.5 152.2 1053.5 147.3 1056.6 144.3 C1059.8 141.3 1065.4 137.1 1067.2 135.7" fill="none" stroke="#1f77b4" stroke-width="2.70" stroke-linejoin="round" stroke-linecap="butt" clip-path="url(#cC)"/>
<path d="M1048.0 163.4 C1049.5 162.4 1053.5 159.3 1056.6 157.7 C1059.8 156.1 1065.4 154.5 1067.2 153.8" fill="none" stroke="#1f77b4" stroke-width="2.70" stroke-linejoin="round" stroke-linecap="butt" clip-path="url(#cC)"/>
<path d="M725.9 272.8 C728.2 273.0 734.1 273.5 739.6 273.8 C745.2 274.2 752.8 274.8 759.2 274.8 C765.7 274.8 775.1 274.0 778.2 273.8" fill="none" stroke="#1f77b4" stroke-width="2.70" stroke-linejoin="round" stroke-linecap="butt" clip-path="url(#cC)"/>
<path d="M725.9 272.8 C728.2 273.5 734.7 274.8 739.6 276.8 C744.5 278.7 750.7 282.3 755.3 284.6 C759.9 286.9 763.2 289.2 767.1 290.5 C770.9 291.8 776.4 292.1 778.2 292.5" fill="none" stroke="#1f77b4" stroke-width="2.70" stroke-linejoin="round" stroke-linecap="butt" clip-path="url(#cC)"/>
<path d="M778.2 273.8 C780.3 273.8 786.2 273.8 790.6 273.8 C795.0 273.9 802.4 274.2 804.7 274.2" fill="none" stroke="#1f77b4" stroke-width="2.70" stroke-linejoin="round" stroke-linecap="butt" clip-path="url(#cC)"/>
<path d="M778.2 292.5 C780.3 292.8 786.2 293.3 790.6 294.4 C795.0 295.6 802.4 298.5 804.7 299.3" fill="none" stroke="#1f77b4" stroke-width="2.70" stroke-linejoin="round" stroke-linecap="butt" clip-path="url(#cC)"/>
<path d="M778.2 292.5 C780.3 292.6 786.2 293.0 790.6 293.4 C795.0 293.8 802.4 294.6 804.7 294.8" fill="none" stroke="#1f77b4" stroke-width="2.70" stroke-linejoin="round" stroke-linecap="butt" clip-path="url(#cC)"/>
<path d="M804.7 274.2 C806.3 274.2 811.0 273.9 814.1 273.8 C817.2 273.8 821.8 273.8 823.3 273.8" fill="none" stroke="#1f77b4" stroke-width="2.70" stroke-linejoin="round" stroke-linecap="butt" clip-path="url(#cC)"/>
<path d="M804.7 299.3 C806.3 299.0 811.0 297.9 814.1 297.4 C817.2 296.8 821.8 296.2 823.3 296.0" fill="none" stroke="#1f77b4" stroke-width="2.70" stroke-linejoin="round" stroke-linecap="butt" clip-path="url(#cC)"/>
<path d="M804.7 294.8 C806.3 294.9 811.0 295.1 814.1 295.4 C817.2 295.7 821.8 296.2 823.3 296.4" fill="none" stroke="#1f77b4" stroke-width="2.70" stroke-linejoin="round" stroke-linecap="butt" clip-path="url(#cC)"/>
<path d="M823.3 273.8 C825.7 273.9 832.0 274.4 837.6 274.4 C843.3 274.4 850.1 274.1 857.3 273.8 C864.4 273.6 876.5 273.0 880.4 272.8" fill="none" stroke="#1f77b4" stroke-width="2.70" stroke-linejoin="round" stroke-linecap="butt" clip-path="url(#cC)"/>
<path d="M823.3 296.0 C824.7 295.7 828.7 296.0 831.8 294.4 C834.8 292.8 838.0 289.2 841.6 286.6 C845.2 284.0 849.4 280.8 853.3 278.7 C857.3 276.7 860.6 275.4 865.1 274.4 C869.6 273.4 877.8 273.1 880.4 272.8" fill="none" stroke="#1f77b4" stroke-width="2.70" stroke-linejoin="round" stroke-linecap="butt" clip-path="url(#cC)"/>
<path d="M823.3 296.4 C824.8 296.1 829.1 296.5 832.2 295.0 C835.3 293.5 838.4 289.8 842.0 287.2 C845.6 284.5 849.8 281.4 853.7 279.3 C857.6 277.3 861.0 275.9 865.5 274.8 C869.9 273.7 877.9 273.2 880.4 272.8" fill="none" stroke="#1f77b4" stroke-width="2.70" stroke-linejoin="round" stroke-linecap="butt" clip-path="url(#cC)"/>
<path d="M725.9 349.3 C728.2 349.3 734.1 349.5 739.6 349.3 C745.2 349.2 752.8 348.7 759.2 348.3 C765.7 348.0 775.1 347.5 778.2 347.4" fill="none" stroke="#1f77b4" stroke-width="2.70" stroke-linejoin="round" stroke-linecap="butt" clip-path="url(#cC)"/>
<path d="M725.9 360.1 C727.5 359.0 732.1 356.7 735.7 353.2 C739.3 349.8 743.5 344.4 747.5 339.5 C751.4 334.6 755.6 328.2 759.2 323.8 C762.8 319.4 765.8 315.2 769.0 313.0 C772.2 310.9 776.7 311.4 778.2 311.1" fill="none" stroke="#1f77b4" stroke-width="2.70" stroke-linejoin="round" stroke-linecap="butt" clip-path="url(#cC)"/>
<path d="M725.9 360.1 C728.2 359.6 735.0 358.6 739.6 357.2 C744.2 355.7 748.8 353.2 753.3 351.3 C757.9 349.3 762.9 346.7 767.1 345.4 C771.2 344.1 776.4 343.8 778.2 343.4" fill="none" stroke="#1f77b4" stroke-width="2.70" stroke-linejoin="round" stroke-linecap="butt" clip-path="url(#cC)"/>
<path d="M725.9 360.1 C727.8 359.8 733.7 359.3 737.6 358.1 C741.6 357.0 745.2 355.0 749.4 353.2 C753.7 351.4 758.3 348.7 763.1 347.4 C767.9 346.0 775.7 345.7 778.2 345.4" fill="none" stroke="#1f77b4" stroke-width="2.70" stroke-linejoin="round" stroke-linecap="butt" clip-path="url(#cC)"/>
<path d="M778.2 311.1 C780.3 311.1 786.2 310.8 790.6 311.1 C795.0 311.3 802.4 312.2 804.7 312.5" fill="none" stroke="#1f77b4" stroke-width="2.70" stroke-linejoin="round" stroke-linecap="butt" clip-path="url(#cC)"/>
<path d="M778.2 311.1 C780.3 311.2 787.2 311.6 790.6 312.1 C794.0 312.5 796.1 313.8 798.4 314.0 C800.8 314.3 803.7 313.7 804.7 313.6" fill="none" stroke="#1f77b4" stroke-width="2.70" stroke-linejoin="round" stroke-linecap="butt" clip-path="url(#cC)"/>
<path d="M778.2 343.4 C780.3 343.3 786.2 343.1 790.6 342.5 C795.0 341.8 802.4 340.0 804.7 339.5" fill="none" stroke="#1f77b4" stroke-width="2.70" stroke-linejoin="round" stroke-linecap="butt" clip-path="url(#cC)"/>
<path d="M778.2 345.4 C780.3 345.7 786.2 346.7 790.6 347.4 C795.0 348.0 802.4 349.0 804.7 349.3" fill="none" stroke="#1f77b4" stroke-width="2.70" stroke-linejoin="round" stroke-linecap="butt" clip-path="url(#cC)"/>
<path d="M778.2 347.4 C780.3 347.0 786.2 345.9 790.6 345.4 C795.0 344.9 802.4 344.6 804.7 344.4" fill="none" stroke="#1f77b4" stroke-width="2.70" stroke-linejoin="round" stroke-linecap="butt" clip-path="url(#cC)"/>
<path d="M804.7 312.5 C806.3 312.3 811.0 311.7 814.1 311.7 C817.2 311.6 821.8 312.0 823.3 312.1" fill="none" stroke="#1f77b4" stroke-width="2.70" stroke-linejoin="round" stroke-linecap="butt" clip-path="url(#cC)"/>
<path d="M804.7 339.5 C806.3 339.7 811.0 340.0 814.1 340.5 C817.2 341.0 821.8 342.1 823.3 342.5" fill="none" stroke="#1f77b4" stroke-width="2.70" stroke-linejoin="round" stroke-linecap="butt" clip-path="url(#cC)"/>
<path d="M804.7 349.3 C806.3 349.4 811.0 349.7 814.1 349.7 C817.2 349.7 821.8 349.4 823.3 349.3" fill="none" stroke="#1f77b4" stroke-width="2.70" stroke-linejoin="round" stroke-linecap="butt" clip-path="url(#cC)"/>
<path d="M804.7 344.4 C806.3 344.2 811.0 343.4 814.1 343.4 C817.2 343.4 821.8 344.2 823.3 344.4" fill="none" stroke="#1f77b4" stroke-width="2.70" stroke-linejoin="round" stroke-linecap="butt" clip-path="url(#cC)"/>
<path d="M823.3 312.1 C824.7 312.7 828.7 313.7 831.8 316.0 C834.8 318.3 838.0 321.9 841.6 325.8 C845.2 329.7 849.4 335.3 853.3 339.5 C857.3 343.8 860.6 347.8 865.1 351.3 C869.6 354.7 877.8 358.6 880.4 360.1" fill="none" stroke="#1f77b4" stroke-width="2.70" stroke-linejoin="round" stroke-linecap="butt" clip-path="url(#cC)"/>
<path d="M823.3 312.5 C824.8 313.1 829.1 314.2 832.2 316.6 C835.3 318.9 838.4 322.5 842.0 326.4 C845.6 330.3 849.8 335.8 853.7 340.1 C857.6 344.3 861.0 348.5 865.5 351.9 C869.9 355.2 877.9 358.7 880.4 360.1" fill="none" stroke="#1f77b4" stroke-width="2.70" stroke-linejoin="round" stroke-linecap="butt" clip-path="url(#cC)"/>
<path d="M823.3 342.5 C825.7 343.3 832.0 345.6 837.6 347.4 C843.3 349.2 850.1 351.1 857.3 353.2 C864.4 355.4 876.5 359.0 880.4 360.1" fill="none" stroke="#1f77b4" stroke-width="2.70" stroke-linejoin="round" stroke-linecap="butt" clip-path="url(#cC)"/>
<path d="M823.3 344.4 C826.4 345.2 835.3 348.3 841.6 349.3 C847.9 350.3 854.7 350.3 861.2 350.3 C867.6 350.3 877.2 349.5 880.4 349.3" fill="none" stroke="#1f77b4" stroke-width="2.70" stroke-linejoin="round" stroke-linecap="butt" clip-path="url(#cC)"/>
<path d="M823.3 349.3 C826.4 349.4 832.1 349.7 841.6 349.7 C851.1 349.7 873.9 349.4 880.4 349.3" fill="none" stroke="#1f77b4" stroke-width="2.70" stroke-linejoin="round" stroke-linecap="butt" clip-path="url(#cC)"/>
<path d="M725.9 389.5 C728.2 389.7 734.1 389.5 739.6 390.5 C745.2 391.5 752.8 393.8 759.2 395.4 C765.7 397.0 775.1 399.5 778.2 400.3" fill="none" stroke="#1f77b4" stroke-width="2.70" stroke-linejoin="round" stroke-linecap="butt" clip-path="url(#cC)"/>
<path d="M725.9 389.5 C728.2 389.7 734.7 389.7 739.6 390.5 C744.5 391.3 748.9 393.4 755.3 394.4 C761.7 395.4 774.4 396.0 778.2 396.4" fill="none" stroke="#1f77b4" stroke-width="2.70" stroke-linejoin="round" stroke-linecap="butt" clip-path="url(#cC)"/>
<path d="M725.9 458.1 C727.5 455.4 732.1 447.5 735.7 441.5 C739.3 435.4 743.5 427.4 747.5 421.9 C751.4 416.3 755.3 411.6 759.2 408.1 C763.1 404.7 767.8 402.6 771.0 401.3 C774.2 400.0 777.0 400.5 778.2 400.3" fill="none" stroke="#1f77b4" stroke-width="2.70" stroke-linejoin="round" stroke-linecap="butt" clip-path="url(#cC)"/>
<path d="M725.9 458.1 C728.2 456.3 734.7 451.1 739.6 447.4 C744.5 443.6 750.4 439.0 755.3 435.6 C760.2 432.2 765.2 428.6 769.0 426.8 C772.8 425.0 776.7 425.1 778.2 424.8" fill="none" stroke="#1f77b4" stroke-width="2.70" stroke-linejoin="round" stroke-linecap="butt" clip-path="url(#cC)"/>
<path d="M778.2 396.4 C780.3 396.2 786.2 395.7 790.6 395.4 C795.0 395.1 802.4 394.6 804.7 394.4" fill="none" stroke="#1f77b4" stroke-width="2.70" stroke-linejoin="round" stroke-linecap="butt" clip-path="url(#cC)"/>
<path d="M778.2 400.3 C780.3 400.3 786.2 400.3 790.6 400.3 C795.0 400.3 802.4 400.3 804.7 400.3" fill="none" stroke="#1f77b4" stroke-width="2.70" stroke-linejoin="round" stroke-linecap="butt" clip-path="url(#cC)"/>
<path d="M778.2 400.3 C779.6 401.6 783.6 405.2 786.7 408.1 C789.7 411.1 793.5 416.0 796.5 417.9 C799.5 419.9 803.3 419.6 804.7 419.9" fill="none" stroke="#1f77b4" stroke-width="2.70" stroke-linejoin="round" stroke-linecap="butt" clip-path="url(#cC)"/>
<path d="M778.2 424.8 C780.3 425.0 786.2 425.1 790.6 425.8 C795.0 426.4 802.4 428.2 804.7 428.7" fill="none" stroke="#1f77b4" stroke-width="2.70" stroke-linejoin="round" stroke-linecap="butt" clip-path="url(#cC)"/>
<path d="M778.2 424.8 C780.3 424.8 786.2 424.8 790.6 424.8 C795.0 424.8 802.4 424.8 804.7 424.8" fill="none" stroke="#1f77b4" stroke-width="2.70" stroke-linejoin="round" stroke-linecap="butt" clip-path="url(#cC)"/>
<path d="M804.7 394.4 C806.3 394.1 811.0 392.9 814.1 392.5 C817.2 392.0 821.8 391.6 823.3 391.5" fill="none" stroke="#1f77b4" stroke-width="2.70" stroke-linejoin="round" stroke-linecap="butt" clip-path="url(#cC)"/>
<path d="M804.7 400.3 C806.3 400.3 811.0 400.3 814.1 400.3 C817.2 400.3 821.8 400.3 823.3 400.3" fill="none" stroke="#1f77b4" stroke-width="2.70" stroke-linejoin="round" stroke-linecap="butt" clip-path="url(#cC)"/>
<path d="M804.7 419.9 C806.3 419.4 811.0 417.6 814.1 417.0 C817.2 416.3 821.8 416.1 823.3 416.0" fill="none" stroke="#1f77b4" stroke-width="2.70" stroke-linejoin="round" stroke-linecap="butt" clip-path="url(#cC)"/>
<path d="M804.7 428.7 C806.3 428.7 811.0 428.8 814.1 428.7 C817.2 428.6 821.8 428.2 823.3 428.1" fill="none" stroke="#1f77b4" stroke-width="2.70" stroke-linejoin="round" stroke-linecap="butt" clip-path="url(#cC)"/>
<path d="M804.7 424.8 C806.3 424.7 811.0 424.3 814.1 424.2 C817.2 424.1 821.8 424.2 823.3 424.2" fill="none" stroke="#1f77b4" stroke-width="2.70" stroke-linejoin="round" stroke-linecap="butt" clip-path="url(#cC)"/>
<path d="M823.3 391.5 C825.7 391.3 832.0 390.7 837.6 390.5 C843.3 390.3 850.1 390.1 857.3 390.1 C864.4 390.1 876.5 390.4 880.4 390.5" fill="none" stroke="#1f77b4" stroke-width="2.70" stroke-linejoin="round" stroke-linecap="butt" clip-path="url(#cC)"/>
<path d="M823.3 400.3 C825.1 400.3 830.0 401.1 833.7 400.3 C837.4 399.5 841.6 396.9 845.5 395.4 C849.4 393.9 851.4 392.3 857.3 391.5 C863.1 390.7 876.5 390.7 880.4 390.5" fill="none" stroke="#1f77b4" stroke-width="2.70" stroke-linejoin="round" stroke-linecap="butt" clip-path="url(#cC)"/>
<path d="M823.3 416.0 C824.4 416.5 827.4 418.7 829.8 418.9 C832.2 419.2 835.0 417.9 837.6 417.5 C840.3 417.2 842.2 415.9 845.5 417.0 C848.8 418.0 853.3 420.1 857.3 423.8 C861.2 427.6 865.2 433.8 869.0 439.5 C872.9 445.2 878.5 455.0 880.4 458.1" fill="none" stroke="#1f77b4" stroke-width="2.70" stroke-linejoin="round" stroke-linecap="butt" clip-path="url(#cC)"/>
<path d="M823.3 428.1 C825.7 429.1 832.6 431.4 837.6 433.6 C842.6 435.8 848.4 438.9 853.3 441.5 C858.2 444.1 862.5 446.5 867.1 449.3 C871.6 452.1 878.2 456.7 880.4 458.1" fill="none" stroke="#1f77b4" stroke-width="2.70" stroke-linejoin="round" stroke-linecap="butt" clip-path="url(#cC)"/>
<path d="M823.3 424.2 C824.7 424.6 828.1 424.9 831.8 426.8 C835.5 428.7 840.6 432.5 845.5 435.6 C850.4 438.7 855.4 441.6 861.2 445.4 C867.0 449.2 877.2 456.0 880.4 458.1" fill="none" stroke="#1f77b4" stroke-width="2.70" stroke-linejoin="round" stroke-linecap="butt" clip-path="url(#cC)"/>
<path d="M879.9 272.9 C882.4 273.0 889.6 273.6 894.6 273.8 C899.7 274.1 905.2 274.3 910.3 274.4 C915.5 274.5 923.1 274.4 925.6 274.4" fill="none" stroke="#1f77b4" stroke-width="2.70" stroke-linejoin="round" stroke-linecap="butt" clip-path="url(#cC)"/>
<path d="M879.9 272.9 C882.4 273.3 890.2 274.2 894.6 275.8 C899.0 277.4 902.8 280.2 906.4 282.7 C910.0 285.1 913.0 288.7 916.2 290.5 C919.4 292.3 924.1 293.0 925.6 293.5" fill="none" stroke="#1f77b4" stroke-width="2.70" stroke-linejoin="round" stroke-linecap="butt" clip-path="url(#cC)"/>
<path d="M925.6 274.4 C928.3 274.4 936.4 274.3 941.7 274.2 C947.0 274.1 954.8 273.9 957.4 273.8" fill="none" stroke="#1f77b4" stroke-width="2.70" stroke-linejoin="round" stroke-linecap="butt" clip-path="url(#cC)"/>
<path d="M925.6 293.5 C928.3 293.8 936.4 294.8 941.7 295.4 C947.0 296.1 954.8 297.1 957.4 297.4" fill="none" stroke="#1f77b4" stroke-width="2.70" stroke-linejoin="round" stroke-linecap="butt" clip-path="url(#cC)"/>
<path d="M925.6 293.5 C928.3 293.6 936.4 294.2 941.7 294.4 C947.0 294.7 954.8 294.8 957.4 294.8" fill="none" stroke="#1f77b4" stroke-width="2.70" stroke-linejoin="round" stroke-linecap="butt" clip-path="url(#cC)"/>
<path d="M957.4 273.8 L977.1 273.8" fill="none" stroke="#1f77b4" stroke-width="2.70" stroke-linejoin="round" stroke-linecap="butt" clip-path="url(#cC)"/>
<path d="M957.4 297.4 C959.1 297.7 964.0 298.9 967.2 299.3 C970.5 299.8 975.4 299.8 977.1 299.9" fill="none" stroke="#1f77b4" stroke-width="2.70" stroke-linejoin="round" stroke-linecap="butt" clip-path="url(#cC)"/>
<path d="M957.4 294.8 C959.1 294.8 964.0 294.5 967.2 294.4 C970.5 294.4 975.4 294.4 977.1 294.4" fill="none" stroke="#1f77b4" stroke-width="2.70" stroke-linejoin="round" stroke-linecap="butt" clip-path="url(#cC)"/>
<path d="M977.1 273.8 C980.3 273.9 990.3 274.1 996.7 274.2 C1003.1 274.3 1012.2 274.4 1015.3 274.4" fill="none" stroke="#1f77b4" stroke-width="2.70" stroke-linejoin="round" stroke-linecap="butt" clip-path="url(#cC)"/>
<path d="M977.1 299.9 C979.7 299.3 988.2 297.4 992.8 296.4 C997.3 295.4 1000.8 294.5 1004.5 294.0 C1008.3 293.6 1013.5 293.6 1015.3 293.5" fill="none" stroke="#1f77b4" stroke-width="2.70" stroke-linejoin="round" stroke-linecap="butt" clip-path="url(#cC)"/>
<path d="M977.1 294.4 C979.7 294.4 988.2 294.6 992.8 294.4 C997.3 294.3 1000.8 293.6 1004.5 293.5 C1008.3 293.3 1013.5 293.5 1015.3 293.5" fill="none" stroke="#1f77b4" stroke-width="2.70" stroke-linejoin="round" stroke-linecap="butt" clip-path="url(#cC)"/>
<path d="M1015.3 274.4 C1018.1 274.3 1026.5 273.9 1032.0 273.8 C1037.5 273.7 1045.6 273.8 1048.3 273.8" fill="none" stroke="#1f77b4" stroke-width="2.70" stroke-linejoin="round" stroke-linecap="butt" clip-path="url(#cC)"/>
<path d="M1015.3 293.5 C1018.1 293.8 1026.5 294.8 1032.0 295.4 C1037.5 296.1 1045.6 297.1 1048.3 297.4" fill="none" stroke="#1f77b4" stroke-width="2.70" stroke-linejoin="round" stroke-linecap="butt" clip-path="url(#cC)"/>
<path d="M1015.3 293.5 C1018.1 293.6 1026.5 293.9 1032.0 294.4 C1037.5 294.9 1045.6 296.1 1048.3 296.4" fill="none" stroke="#1f77b4" stroke-width="2.70" stroke-linejoin="round" stroke-linecap="butt" clip-path="url(#cC)"/>
<path d="M1048.3 273.8 L1068.3 273.4" fill="none" stroke="#1f77b4" stroke-width="2.70" stroke-linejoin="round" stroke-linecap="butt" clip-path="url(#cC)"/>
<path d="M1048.3 297.4 C1049.8 296.9 1054.2 295.3 1057.5 294.4 C1060.9 293.6 1066.5 292.5 1068.3 292.1" fill="none" stroke="#1f77b4" stroke-width="2.70" stroke-linejoin="round" stroke-linecap="butt" clip-path="url(#cC)"/>
<path d="M1048.3 296.4 C1049.8 296.0 1054.2 294.8 1057.5 294.0 C1060.9 293.3 1066.5 292.4 1068.3 292.1" fill="none" stroke="#1f77b4" stroke-width="2.70" stroke-linejoin="round" stroke-linecap="butt" clip-path="url(#cC)"/>
<path d="M879.9 349.4 C882.4 349.4 888.9 349.4 894.6 349.4 C900.4 349.4 909.1 349.4 914.3 349.4 C919.4 349.4 923.7 349.4 925.6 349.4" fill="none" stroke="#1f77b4" stroke-width="2.70" stroke-linejoin="round" stroke-linecap="butt" clip-path="url(#cC)"/>
<path d="M879.9 360.2 C881.4 359.7 885.3 360.0 888.7 357.2 C892.2 354.5 896.6 348.1 900.5 343.5 C904.4 338.9 909.0 333.0 912.3 329.8 C915.6 326.5 917.9 325.1 920.1 323.9 C922.4 322.6 924.7 322.6 925.6 322.3" fill="none" stroke="#1f77b4" stroke-width="2.70" stroke-linejoin="round" stroke-linecap="butt" clip-path="url(#cC)"/>
<path d="M879.9 360.2 C882.4 359.7 888.9 358.2 894.6 357.2 C900.4 356.3 909.1 355.0 914.3 354.3 C919.4 353.6 923.7 353.5 925.6 353.3" fill="none" stroke="#1f77b4" stroke-width="2.70" stroke-linejoin="round" stroke-linecap="butt" clip-path="url(#cC)"/>
<path d="M925.6 322.3 C927.7 321.8 933.8 320.3 937.8 319.0 C941.8 317.6 946.3 315.3 949.6 314.1 C952.9 312.9 956.1 312.1 957.4 311.7" fill="none" stroke="#1f77b4" stroke-width="2.70" stroke-linejoin="round" stroke-linecap="butt" clip-path="url(#cC)"/>
<path d="M925.6 349.4 C927.7 349.1 933.8 348.6 937.8 347.4 C941.8 346.3 946.3 343.5 949.6 342.5 C952.9 341.5 956.1 341.7 957.4 341.5" fill="none" stroke="#1f77b4" stroke-width="2.70" stroke-linejoin="round" stroke-linecap="butt" clip-path="url(#cC)"/>
<path d="M925.6 353.3 C927.7 352.7 933.8 350.6 937.8 349.4 C941.8 348.2 946.3 346.5 949.6 345.9 C952.9 345.2 956.1 345.5 957.4 345.5" fill="none" stroke="#1f77b4" stroke-width="2.70" stroke-linejoin="round" stroke-linecap="butt" clip-path="url(#cC)"/>
<path d="M925.6 349.4 C928.3 349.3 936.4 349.2 941.7 349.0 C947.0 348.8 954.8 348.5 957.4 348.4" fill="none" stroke="#1f77b4" stroke-width="2.70" stroke-linejoin="round" stroke-linecap="butt" clip-path="url(#cC)"/>
<path d="M957.4 311.7 C959.1 311.4 964.0 310.0 967.2 309.7 C970.5 309.5 975.4 310.1 977.1 310.1" fill="none" stroke="#1f77b4" stroke-width="2.70" stroke-linejoin="round" stroke-linecap="butt" clip-path="url(#cC)"/>
<path d="M957.4 311.7 C959.1 311.9 964.0 312.9 967.2 313.1 C970.5 313.3 975.4 313.1 977.1 313.1" fill="none" stroke="#1f77b4" stroke-width="2.70" stroke-linejoin="round" stroke-linecap="butt" clip-path="url(#cC)"/>
<path d="M957.4 341.5 C959.1 341.2 964.0 339.9 967.2 339.6 C970.5 339.3 975.4 339.6 977.1 339.6" fill="none" stroke="#1f77b4" stroke-width="2.70" stroke-linejoin="round" stroke-linecap="butt" clip-path="url(#cC)"/>
<path d="M957.4 345.5 C959.1 345.3 964.0 344.5 967.2 344.5 C970.5 344.5 975.4 345.3 977.1 345.5" fill="none" stroke="#1f77b4" stroke-width="2.70" stroke-linejoin="round" stroke-linecap="butt" clip-path="url(#cC)"/>
<path d="M957.4 348.4 L977.1 349.0" fill="none" stroke="#1f77b4" stroke-width="2.70" stroke-linejoin="round" stroke-linecap="butt" clip-path="url(#cC)"/>
<path d="M977.1 310.1 C979.0 310.8 984.9 312.4 988.8 314.1 C992.8 315.7 996.2 318.6 1000.6 320.0 C1005.0 321.3 1012.9 321.9 1015.3 322.3" fill="none" stroke="#1f77b4" stroke-width="2.70" stroke-linejoin="round" stroke-linecap="butt" clip-path="url(#cC)"/>
<path d="M977.1 313.1 C979.7 313.6 988.2 314.9 992.8 316.0 C997.3 317.2 1000.8 318.9 1004.5 320.0 C1008.3 321.0 1013.5 321.9 1015.3 322.3" fill="none" stroke="#1f77b4" stroke-width="2.70" stroke-linejoin="round" stroke-linecap="butt" clip-path="url(#cC)"/>
<path d="M977.1 339.6 C979.0 340.2 984.9 341.9 988.8 343.5 C992.8 345.1 996.2 347.8 1000.6 349.4 C1005.0 351.0 1012.9 352.7 1015.3 353.3" fill="none" stroke="#1f77b4" stroke-width="2.70" stroke-linejoin="round" stroke-linecap="butt" clip-path="url(#cC)"/>
<path d="M977.1 345.5 C979.7 345.8 988.2 346.5 992.8 347.4 C997.3 348.4 1000.8 350.4 1004.5 351.4 C1008.3 352.3 1013.5 353.0 1015.3 353.3" fill="none" stroke="#1f77b4" stroke-width="2.70" stroke-linejoin="round" stroke-linecap="butt" clip-path="url(#cC)"/>
<path d="M977.1 349.0 C980.3 349.1 990.3 349.3 996.7 349.4 C1003.1 349.5 1012.2 349.4 1015.3 349.4" fill="none" stroke="#1f77b4" stroke-width="2.70" stroke-linejoin="round" stroke-linecap="butt" clip-path="url(#cC)"/>
<path d="M1015.3 322.3 C1017.5 321.8 1024.0 320.3 1028.1 319.0 C1032.2 317.6 1036.5 315.2 1039.9 314.1 C1043.2 312.9 1046.9 312.4 1048.3 312.1" fill="none" stroke="#1f77b4" stroke-width="2.70" stroke-linejoin="round" stroke-linecap="butt" clip-path="url(#cC)"/>
<path d="M1015.3 353.3 C1017.5 352.3 1024.0 349.2 1028.1 347.4 C1032.2 345.6 1036.5 343.5 1039.9 342.5 C1043.2 341.5 1046.9 341.7 1048.3 341.5" fill="none" stroke="#1f77b4" stroke-width="2.70" stroke-linejoin="round" stroke-linecap="butt" clip-path="url(#cC)"/>
<path d="M1015.3 353.3 C1017.8 352.5 1025.6 349.9 1030.1 348.4 C1034.5 346.9 1038.8 345.3 1041.8 344.5 C1044.9 343.7 1047.2 343.7 1048.3 343.5" fill="none" stroke="#1f77b4" stroke-width="2.70" stroke-linejoin="round" stroke-linecap="butt" clip-path="url(#cC)"/>
<path d="M1015.3 349.4 C1018.1 349.3 1026.5 349.2 1032.0 349.0 C1037.5 348.8 1045.6 348.5 1048.3 348.4" fill="none" stroke="#1f77b4" stroke-width="2.70" stroke-linejoin="round" stroke-linecap="butt" clip-path="url(#cC)"/>
<path d="M1048.3 312.1 C1049.8 312.0 1054.2 311.6 1057.5 311.5 C1060.9 311.4 1066.5 311.5 1068.3 311.5" fill="none" stroke="#1f77b4" stroke-width="2.70" stroke-linejoin="round" stroke-linecap="butt" clip-path="url(#cC)"/>
<path d="M1048.3 341.5 C1049.8 341.7 1054.2 342.2 1057.5 342.5 C1060.9 342.9 1066.5 343.3 1068.3 343.5" fill="none" stroke="#1f77b4" stroke-width="2.70" stroke-linejoin="round" stroke-linecap="butt" clip-path="url(#cC)"/>
<path d="M1048.3 343.5 C1049.8 343.7 1054.2 344.3 1057.5 344.5 C1060.9 344.7 1066.5 344.5 1068.3 344.5" fill="none" stroke="#1f77b4" stroke-width="2.70" stroke-linejoin="round" stroke-linecap="butt" clip-path="url(#cC)"/>
<path d="M1048.3 348.4 C1049.8 348.4 1054.2 348.4 1057.5 348.4 C1060.9 348.4 1066.5 348.4 1068.3 348.4" fill="none" stroke="#1f77b4" stroke-width="2.70" stroke-linejoin="round" stroke-linecap="butt" clip-path="url(#cC)"/>
<path d="M879.9 389.6 C882.4 389.8 889.6 389.8 894.6 390.6 C899.7 391.4 905.2 393.6 910.3 394.5 C915.5 395.5 923.1 396.2 925.6 396.5" fill="none" stroke="#1f77b4" stroke-width="2.70" stroke-linejoin="round" stroke-linecap="butt" clip-path="url(#cC)"/>
<path d="M879.9 389.6 C882.4 389.8 888.9 389.5 894.6 390.6 C900.4 391.7 909.1 395.0 914.3 396.1 C919.4 397.3 923.7 397.3 925.6 397.5" fill="none" stroke="#1f77b4" stroke-width="2.70" stroke-linejoin="round" stroke-linecap="butt" clip-path="url(#cC)"/>
<path d="M879.9 458.3 C881.4 455.5 885.6 446.7 888.7 441.6 C891.8 436.6 895.3 431.8 898.6 427.9 C901.8 424.0 905.1 420.2 908.4 418.1 C911.6 416.0 915.3 415.6 918.2 415.1 C921.1 414.7 924.4 415.1 925.6 415.1" fill="none" stroke="#1f77b4" stroke-width="2.70" stroke-linejoin="round" stroke-linecap="butt" clip-path="url(#cC)"/>
<path d="M879.9 458.3 C881.7 456.9 886.6 451.9 890.7 449.5 C894.8 447.0 900.2 445.2 904.4 443.6 C908.7 442.0 912.7 440.4 916.2 439.7 C919.7 439.0 924.1 439.4 925.6 439.3" fill="none" stroke="#1f77b4" stroke-width="2.70" stroke-linejoin="round" stroke-linecap="butt" clip-path="url(#cC)"/>
<path d="M925.6 396.5 C927.7 395.8 933.8 393.3 937.8 392.6 C941.8 391.9 946.3 392.0 949.6 392.2 C952.9 392.3 956.1 393.3 957.4 393.6" fill="none" stroke="#1f77b4" stroke-width="2.70" stroke-linejoin="round" stroke-linecap="butt" clip-path="url(#cC)"/>
<path d="M925.6 397.5 C927.7 397.8 933.8 398.8 937.8 399.4 C941.8 400.1 946.3 401.2 949.6 401.4 C952.9 401.6 956.1 400.6 957.4 400.4" fill="none" stroke="#1f77b4" stroke-width="2.70" stroke-linejoin="round" stroke-linecap="butt" clip-path="url(#cC)"/>
<path d="M925.6 415.1 C927.7 415.3 933.8 415.6 937.8 416.1 C941.8 416.6 946.3 418.1 949.6 418.1 C952.9 418.1 956.1 416.5 957.4 416.1" fill="none" stroke="#1f77b4" stroke-width="2.70" stroke-linejoin="round" stroke-linecap="butt" clip-path="url(#cC)"/>
<path d="M925.6 439.3 C927.7 438.4 933.8 435.7 937.8 433.8 C941.8 431.9 946.3 429.4 949.6 427.9 C952.9 426.4 956.1 425.5 957.4 425.0" fill="none" stroke="#1f77b4" stroke-width="2.70" stroke-linejoin="round" stroke-linecap="butt" clip-path="url(#cC)"/>
<path d="M925.6 439.3 C927.7 438.7 933.8 437.0 937.8 435.8 C941.8 434.5 946.3 432.9 949.6 431.8 C952.9 430.8 956.1 429.9 957.4 429.5" fill="none" stroke="#1f77b4" stroke-width="2.70" stroke-linejoin="round" stroke-linecap="butt" clip-path="url(#cC)"/>
<path d="M957.4 393.6 C959.1 393.7 964.0 394.7 967.2 394.5 C970.5 394.4 975.4 392.9 977.1 392.6" fill="none" stroke="#1f77b4" stroke-width="2.70" stroke-linejoin="round" stroke-linecap="butt" clip-path="url(#cC)"/>
<path d="M957.4 400.4 C959.1 400.3 964.0 399.4 967.2 399.4 C970.5 399.4 975.4 400.3 977.1 400.4" fill="none" stroke="#1f77b4" stroke-width="2.70" stroke-linejoin="round" stroke-linecap="butt" clip-path="url(#cC)"/>
<path d="M957.4 416.1 C959.1 416.6 964.0 418.4 967.2 419.1 C970.5 419.7 975.4 419.9 977.1 420.1" fill="none" stroke="#1f77b4" stroke-width="2.70" stroke-linejoin="round" stroke-linecap="butt" clip-path="url(#cC)"/>
<path d="M957.4 425.0 C959.1 425.0 964.0 425.0 967.2 425.0 C970.5 425.0 975.4 425.0 977.1 425.0" fill="none" stroke="#1f77b4" stroke-width="2.70" stroke-linejoin="round" stroke-linecap="butt" clip-path="url(#cC)"/>
<path d="M957.4 429.5 C959.1 429.5 964.0 429.6 967.2 429.5 C970.5 429.4 975.4 429.0 977.1 428.9" fill="none" stroke="#1f77b4" stroke-width="2.70" stroke-linejoin="round" stroke-linecap="butt" clip-path="url(#cC)"/>
<path d="M977.1 392.6 C979.7 392.6 988.2 392.2 992.8 392.6 C997.3 392.9 1000.8 394.0 1004.5 394.5 C1008.3 395.0 1013.5 395.4 1015.3 395.5" fill="none" stroke="#1f77b4" stroke-width="2.70" stroke-linejoin="round" stroke-linecap="butt" clip-path="url(#cC)"/>
<path d="M977.1 400.4 C979.7 400.4 988.2 400.8 992.8 400.4 C997.3 400.1 1000.8 399.3 1004.5 398.5 C1008.3 397.6 1013.5 396.0 1015.3 395.5" fill="none" stroke="#1f77b4" stroke-width="2.70" stroke-linejoin="round" stroke-linecap="butt" clip-path="url(#cC)"/>
<path d="M977.1 420.1 C979.7 419.7 988.2 418.8 992.8 418.1 C997.3 417.4 1000.8 416.1 1004.5 415.7 C1008.3 415.3 1013.5 415.7 1015.3 415.7" fill="none" stroke="#1f77b4" stroke-width="2.70" stroke-linejoin="round" stroke-linecap="butt" clip-path="url(#cC)"/>
<path d="M977.1 425.0 C978.7 425.1 983.6 424.8 986.9 425.9 C990.1 427.1 993.4 429.9 996.7 431.8 C1000.0 433.8 1003.4 436.4 1006.5 437.7 C1009.6 439.0 1013.9 439.4 1015.3 439.7" fill="none" stroke="#1f77b4" stroke-width="2.70" stroke-linejoin="round" stroke-linecap="butt" clip-path="url(#cC)"/>
<path d="M977.1 428.9 C979.7 429.4 988.2 430.7 992.8 431.8 C997.3 433.0 1000.8 434.4 1004.5 435.8 C1008.3 437.1 1013.5 439.0 1015.3 439.7" fill="none" stroke="#1f77b4" stroke-width="2.70" stroke-linejoin="round" stroke-linecap="butt" clip-path="url(#cC)"/>
<path d="M1015.3 395.5 C1017.5 395.0 1024.0 393.1 1028.1 392.6 C1032.2 392.0 1036.5 391.9 1039.9 392.2 C1043.2 392.5 1046.9 394.1 1048.3 394.5" fill="none" stroke="#1f77b4" stroke-width="2.70" stroke-linejoin="round" stroke-linecap="butt" clip-path="url(#cC)"/>
<path d="M1015.3 395.5 C1017.5 396.2 1024.0 398.5 1028.1 399.4 C1032.2 400.4 1036.5 401.1 1039.9 401.4 C1043.2 401.7 1046.9 401.4 1048.3 401.4" fill="none" stroke="#1f77b4" stroke-width="2.70" stroke-linejoin="round" stroke-linecap="butt" clip-path="url(#cC)"/>
<path d="M1015.3 415.7 C1017.5 415.8 1024.0 415.7 1028.1 416.1 C1032.2 416.5 1036.5 418.4 1039.9 418.1 C1043.2 417.8 1046.9 414.8 1048.3 414.2" fill="none" stroke="#1f77b4" stroke-width="2.70" stroke-linejoin="round" stroke-linecap="butt" clip-path="url(#cC)"/>
<path d="M1015.3 439.7 C1017.5 438.7 1024.0 436.2 1028.1 433.8 C1032.2 431.3 1036.5 426.6 1039.9 425.0 C1043.2 423.3 1046.9 424.1 1048.3 424.0" fill="none" stroke="#1f77b4" stroke-width="2.70" stroke-linejoin="round" stroke-linecap="butt" clip-path="url(#cC)"/>
<path d="M1015.3 439.7 C1017.8 438.7 1025.6 435.6 1030.1 433.8 C1034.5 432.0 1038.8 430.0 1041.8 428.9 C1044.9 427.7 1047.2 427.3 1048.3 426.9" fill="none" stroke="#1f77b4" stroke-width="2.70" stroke-linejoin="round" stroke-linecap="butt" clip-path="url(#cC)"/>
<path d="M1048.3 394.5 C1049.8 394.7 1054.2 394.9 1057.5 395.5 C1060.9 396.2 1066.5 398.0 1068.3 398.5" fill="none" stroke="#1f77b4" stroke-width="2.70" stroke-linejoin="round" stroke-linecap="butt" clip-path="url(#cC)"/>
<path d="M1048.3 401.4 C1049.8 401.2 1054.2 400.9 1057.5 400.4 C1060.9 399.9 1066.5 398.8 1068.3 398.5" fill="none" stroke="#1f77b4" stroke-width="2.70" stroke-linejoin="round" stroke-linecap="butt" clip-path="url(#cC)"/>
<path d="M1048.3 414.2 C1049.8 412.9 1054.2 408.8 1057.5 406.3 C1060.9 403.9 1066.5 400.6 1068.3 399.4" fill="none" stroke="#1f77b4" stroke-width="2.70" stroke-linejoin="round" stroke-linecap="butt" clip-path="url(#cC)"/>
<path d="M1048.3 424.0 C1049.8 424.1 1054.2 424.8 1057.5 425.0 C1060.9 425.1 1066.5 425.0 1068.3 425.0" fill="none" stroke="#1f77b4" stroke-width="2.70" stroke-linejoin="round" stroke-linecap="butt" clip-path="url(#cC)"/>
<path d="M1048.3 426.9 C1049.8 426.8 1054.2 426.3 1057.5 425.9 C1060.9 425.6 1066.5 425.1 1068.3 425.0" fill="none" stroke="#1f77b4" stroke-width="2.70" stroke-linejoin="round" stroke-linecap="butt" clip-path="url(#cC)"/>
<path d="M720.2 529.3 C721.8 529.8 726.7 530.6 730.3 532.2 C733.9 533.8 737.9 536.7 741.8 538.9 C745.6 541.1 749.7 544.0 753.2 545.6 C756.7 547.2 759.7 547.9 762.8 548.4 C765.9 549.0 770.4 548.9 771.9 549.0" fill="none" stroke="#1f77b4" stroke-width="2.70" stroke-linejoin="round" stroke-linecap="butt" clip-path="url(#cD)"/>
<path d="M720.2 584.7 C722.5 584.0 729.9 581.2 734.1 580.0 C738.3 578.7 742.1 577.7 745.6 577.1 C749.1 576.5 751.9 576.2 755.1 576.5 C758.3 576.9 761.9 578.0 764.7 579.0 C767.5 580.1 770.7 582.2 771.9 582.8" fill="none" stroke="#1f77b4" stroke-width="2.70" stroke-linejoin="round" stroke-linecap="butt" clip-path="url(#cD)"/>
<path d="M720.2 584.7 C722.5 585.1 729.2 586.5 734.1 586.7 C739.0 586.8 744.6 586.2 749.4 585.7 C754.2 585.2 759.0 584.4 762.8 583.8 C766.5 583.2 770.4 582.2 771.9 581.9" fill="none" stroke="#1f77b4" stroke-width="2.70" stroke-linejoin="round" stroke-linecap="butt" clip-path="url(#cD)"/>
<path d="M720.2 592.4 C722.5 592.6 728.6 593.3 734.1 593.3 C739.6 593.3 746.9 592.7 753.2 592.4 C759.5 592.1 768.8 591.6 771.9 591.4" fill="none" stroke="#1f77b4" stroke-width="2.70" stroke-linejoin="round" stroke-linecap="butt" clip-path="url(#cD)"/>
<path d="M720.2 592.4 C721.8 593.5 727.0 596.7 730.3 599.1 C733.6 601.5 737.0 605.6 739.8 606.7 C742.7 607.8 744.6 607.7 747.5 605.8 C750.4 603.9 753.9 598.4 757.0 595.3 C760.2 592.1 764.1 588.7 766.6 586.7 C769.1 584.6 771.1 583.5 771.9 582.8" fill="none" stroke="#1f77b4" stroke-width="2.70" stroke-linejoin="round" stroke-linecap="butt" clip-path="url(#cD)"/>
<path d="M771.9 549.0 C773.9 549.2 779.3 549.7 783.8 550.4 C788.3 551.0 796.2 552.4 798.7 552.8" fill="none" stroke="#1f77b4" stroke-width="2.70" stroke-linejoin="round" stroke-linecap="butt" clip-path="url(#cD)"/>
<path d="M771.9 581.9 C773.9 581.7 779.3 581.2 783.8 580.9 C788.3 580.7 796.2 580.6 798.7 580.5" fill="none" stroke="#1f77b4" stroke-width="2.70" stroke-linejoin="round" stroke-linecap="butt" clip-path="url(#cD)"/>
<path d="M771.9 582.8 C773.9 583.2 779.3 584.1 783.8 584.7 C788.3 585.4 796.2 586.3 798.7 586.7" fill="none" stroke="#1f77b4" stroke-width="2.70" stroke-linejoin="round" stroke-linecap="butt" clip-path="url(#cD)"/>
<path d="M771.9 591.4 C773.3 592.4 777.0 594.3 780.0 597.2 C782.9 600.0 786.4 605.8 789.5 608.6 C792.6 611.5 797.2 613.4 798.7 614.4" fill="none" stroke="#1f77b4" stroke-width="2.70" stroke-linejoin="round" stroke-linecap="butt" clip-path="url(#cD)"/>
<path d="M771.9 582.8 C773.9 582.9 779.3 583.3 783.8 583.4 C788.3 583.6 796.2 583.7 798.7 583.8" fill="none" stroke="#1f77b4" stroke-width="2.70" stroke-linejoin="round" stroke-linecap="butt" clip-path="url(#cD)"/>
<path d="M798.7 552.8 C800.4 552.7 805.4 552.4 808.6 552.3 C811.9 552.2 816.6 552.3 818.2 552.3" fill="none" stroke="#1f77b4" stroke-width="2.70" stroke-linejoin="round" stroke-linecap="butt" clip-path="url(#cD)"/>
<path d="M798.7 580.5 C800.4 580.6 805.4 580.9 808.6 580.9 C811.9 581.0 816.6 580.9 818.2 580.9" fill="none" stroke="#1f77b4" stroke-width="2.70" stroke-linejoin="round" stroke-linecap="butt" clip-path="url(#cD)"/>
<path d="M798.7 586.7 C800.4 586.3 805.4 585.4 808.6 584.7 C811.9 584.1 816.6 583.2 818.2 582.8" fill="none" stroke="#1f77b4" stroke-width="2.70" stroke-linejoin="round" stroke-linecap="butt" clip-path="url(#cD)"/>
<path d="M798.7 614.4 C800.0 613.9 804.1 612.6 806.7 611.5 C809.3 610.4 812.5 608.5 814.4 607.7 C816.3 606.8 817.6 606.6 818.2 606.3" fill="none" stroke="#1f77b4" stroke-width="2.70" stroke-linejoin="round" stroke-linecap="butt" clip-path="url(#cD)"/>
<path d="M798.7 583.8 C800.4 585.1 805.4 589.1 808.6 591.4 C811.9 593.7 816.6 596.5 818.2 597.6" fill="none" stroke="#1f77b4" stroke-width="2.70" stroke-linejoin="round" stroke-linecap="butt" clip-path="url(#cD)"/>
<path d="M818.2 552.3 C819.8 552.4 824.9 553.7 827.7 553.2 C830.6 552.7 831.9 551.9 835.4 549.4 C838.9 546.8 844.6 541.0 848.8 537.9 C852.9 534.9 856.0 532.7 860.2 531.2 C864.4 529.8 871.7 529.7 874.0 529.3" fill="none" stroke="#1f77b4" stroke-width="2.70" stroke-linejoin="round" stroke-linecap="butt" clip-path="url(#cD)"/>
<path d="M818.2 580.9 C820.1 580.5 826.5 578.6 829.7 578.1 C832.8 577.5 834.1 577.2 837.3 577.7 C840.5 578.2 844.9 579.9 848.8 580.9 C852.6 581.9 856.0 583.1 860.2 583.8 C864.4 584.5 871.7 585.1 874.0 585.3" fill="none" stroke="#1f77b4" stroke-width="2.70" stroke-linejoin="round" stroke-linecap="butt" clip-path="url(#cD)"/>
<path d="M818.2 582.8 C820.7 583.5 828.4 585.7 833.5 586.7 C838.6 587.6 842.0 588.8 848.8 588.6 C855.5 588.3 869.8 585.9 874.0 585.3" fill="none" stroke="#1f77b4" stroke-width="2.70" stroke-linejoin="round" stroke-linecap="butt" clip-path="url(#cD)"/>
<path d="M818.2 597.6 C820.1 598.1 825.8 600.1 829.7 601.0 C833.5 601.9 837.3 603.1 841.1 602.9 C844.9 602.7 848.8 601.3 852.6 600.0 C856.4 598.8 860.5 596.5 864.1 595.3 C867.6 594.0 872.3 592.9 874.0 592.4" fill="none" stroke="#1f77b4" stroke-width="2.70" stroke-linejoin="round" stroke-linecap="butt" clip-path="url(#cD)"/>
<path d="M818.2 606.3 C819.1 607.4 821.7 610.3 823.9 612.5 C826.2 614.6 829.0 617.8 831.6 619.1 C834.1 620.5 836.3 621.0 839.2 620.5 C842.1 620.0 845.3 618.9 848.8 616.3 C852.3 613.7 856.0 608.8 860.2 604.8 C864.4 600.8 871.7 594.5 874.0 592.4" fill="none" stroke="#1f77b4" stroke-width="2.70" stroke-linejoin="round" stroke-linecap="butt" clip-path="url(#cD)"/>
<path d="M720.2 640.2 C722.5 639.4 729.6 637.5 734.1 635.4 C738.7 633.3 743.3 630.5 747.5 627.7 C751.6 625.0 754.9 621.1 759.0 619.1 C763.0 617.2 769.8 616.8 771.9 616.3" fill="none" stroke="#1f77b4" stroke-width="2.70" stroke-linejoin="round" stroke-linecap="butt" clip-path="url(#cD)"/>
<path d="M720.2 650.7 C722.5 649.7 729.6 648.1 734.1 644.9 C738.7 641.8 743.0 635.7 747.5 631.6 C751.9 627.4 756.8 622.3 760.9 620.1 C764.9 617.9 770.1 618.5 771.9 618.2" fill="none" stroke="#1f77b4" stroke-width="2.70" stroke-linejoin="round" stroke-linecap="butt" clip-path="url(#cD)"/>
<path d="M720.2 650.7 C722.5 650.0 729.6 649.1 734.1 646.9 C738.7 644.6 743.3 639.8 747.5 637.3 C751.6 634.8 754.9 632.8 759.0 631.6 C763.0 630.3 769.8 630.0 771.9 629.7" fill="none" stroke="#1f77b4" stroke-width="2.70" stroke-linejoin="round" stroke-linecap="butt" clip-path="url(#cD)"/>
<path d="M720.2 650.7 C722.2 649.7 728.0 647.8 732.2 644.9 C736.4 642.1 741.1 638.9 745.6 633.5 C750.0 628.1 754.6 616.8 759.0 612.5 C763.3 608.2 769.8 608.5 771.9 607.7" fill="none" stroke="#1f77b4" stroke-width="2.70" stroke-linejoin="round" stroke-linecap="butt" clip-path="url(#cD)"/>
<path d="M771.9 607.7 C773.3 608.0 777.0 608.2 780.0 609.6 C782.9 611.0 786.4 614.6 789.5 616.3 C792.6 618.0 797.2 619.1 798.7 619.7" fill="none" stroke="#1f77b4" stroke-width="2.70" stroke-linejoin="round" stroke-linecap="butt" clip-path="url(#cD)"/>
<path d="M771.9 616.3 C773.9 617.1 779.3 619.1 783.8 621.1 C788.3 623.0 796.2 626.6 798.7 627.7" fill="none" stroke="#1f77b4" stroke-width="2.70" stroke-linejoin="round" stroke-linecap="butt" clip-path="url(#cD)"/>
<path d="M771.9 618.2 C773.9 618.8 779.3 620.1 783.8 622.0 C788.3 623.9 796.2 628.4 798.7 629.7" fill="none" stroke="#1f77b4" stroke-width="2.70" stroke-linejoin="round" stroke-linecap="butt" clip-path="url(#cD)"/>
<path d="M771.9 629.7 C773.9 629.7 779.3 629.7 783.8 629.7 C788.3 629.6 796.2 629.3 798.7 629.3" fill="none" stroke="#1f77b4" stroke-width="2.70" stroke-linejoin="round" stroke-linecap="butt" clip-path="url(#cD)"/>
<path d="M798.7 619.7 C800.4 619.8 805.4 620.0 808.6 620.1 C811.9 620.2 816.6 620.1 818.2 620.1" fill="none" stroke="#1f77b4" stroke-width="2.70" stroke-linejoin="round" stroke-linecap="butt" clip-path="url(#cD)"/>
<path d="M798.7 627.7 C800.4 627.4 805.4 626.3 808.6 625.8 C811.9 625.4 816.6 625.0 818.2 624.9" fill="none" stroke="#1f77b4" stroke-width="2.70" stroke-linejoin="round" stroke-linecap="butt" clip-path="url(#cD)"/>
<path d="M798.7 629.7 C800.4 630.0 805.4 630.7 808.6 631.6 C811.9 632.5 816.6 634.4 818.2 635.0" fill="none" stroke="#1f77b4" stroke-width="2.70" stroke-linejoin="round" stroke-linecap="butt" clip-path="url(#cD)"/>
<path d="M798.7 629.3 C800.4 629.0 805.4 628.2 808.6 627.7 C811.9 627.3 816.6 626.9 818.2 626.8" fill="none" stroke="#1f77b4" stroke-width="2.70" stroke-linejoin="round" stroke-linecap="butt" clip-path="url(#cD)"/>
<path d="M818.2 620.1 C820.1 620.6 825.8 622.0 829.7 623.0 C833.5 623.9 837.3 624.4 841.1 625.8 C844.9 627.3 848.8 629.7 852.6 631.6 C856.4 633.5 860.5 635.9 864.1 637.3 C867.6 638.7 872.3 639.7 874.0 640.2" fill="none" stroke="#1f77b4" stroke-width="2.70" stroke-linejoin="round" stroke-linecap="butt" clip-path="url(#cD)"/>
<path d="M818.2 624.9 C820.7 625.7 828.4 627.9 833.5 629.7 C838.6 631.4 844.0 633.5 848.8 635.4 C853.5 637.3 857.9 640.3 862.1 641.1 C866.3 641.9 872.0 640.3 874.0 640.2" fill="none" stroke="#1f77b4" stroke-width="2.70" stroke-linejoin="round" stroke-linecap="butt" clip-path="url(#cD)"/>
<path d="M818.2 626.8 C820.1 627.9 825.8 631.1 829.7 633.5 C833.5 635.9 837.3 638.9 841.1 641.1 C844.9 643.4 848.8 645.4 852.6 646.9 C856.4 648.3 860.5 649.1 864.1 649.7 C867.6 650.4 872.3 650.5 874.0 650.7" fill="none" stroke="#1f77b4" stroke-width="2.70" stroke-linejoin="round" stroke-linecap="butt" clip-path="url(#cD)"/>
<path d="M818.2 635.0 C820.1 636.0 826.2 639.5 829.7 641.1 C833.2 642.8 835.4 644.0 839.2 644.9 C843.0 645.9 846.8 645.9 852.6 646.9 C858.4 647.8 870.4 650.0 874.0 650.7" fill="none" stroke="#1f77b4" stroke-width="2.70" stroke-linejoin="round" stroke-linecap="butt" clip-path="url(#cD)"/>
<path d="M874.3 529.3 C875.8 529.7 880.2 529.8 883.3 531.3 C886.4 532.7 889.7 535.4 892.9 537.9 C896.0 540.5 899.2 543.8 902.4 546.5 C905.6 549.3 909.1 552.7 912.0 554.2 C914.8 555.7 918.4 555.3 919.6 555.5" fill="none" stroke="#1f77b4" stroke-width="2.70" stroke-linejoin="round" stroke-linecap="butt" clip-path="url(#cD)"/>
<path d="M874.3 585.7 C876.4 585.6 883.1 585.7 887.1 584.8 C891.2 583.8 894.8 581.8 898.6 580.0 C902.4 578.3 906.6 575.5 910.1 574.3 C913.6 573.0 918.0 572.7 919.6 572.4" fill="none" stroke="#1f77b4" stroke-width="2.70" stroke-linejoin="round" stroke-linecap="butt" clip-path="url(#cD)"/>
<path d="M874.3 585.7 C876.4 585.8 882.4 585.9 887.1 586.1 C891.8 586.4 897.0 587.0 902.4 587.3 C907.8 587.5 916.8 587.6 919.6 587.7" fill="none" stroke="#1f77b4" stroke-width="2.70" stroke-linejoin="round" stroke-linecap="butt" clip-path="url(#cD)"/>
<path d="M874.3 592.4 C875.8 592.9 879.9 593.2 883.3 595.3 C886.7 597.4 890.9 601.4 894.8 604.9 C898.6 608.4 902.7 613.8 906.2 616.3 C909.7 618.9 913.6 619.5 915.8 620.2 C918.0 620.9 919.0 620.5 919.6 620.5" fill="none" stroke="#1f77b4" stroke-width="2.70" stroke-linejoin="round" stroke-linecap="butt" clip-path="url(#cD)"/>
<path d="M919.6 555.5 C921.9 555.3 928.9 554.7 933.0 554.2 C937.2 553.7 941.3 552.7 944.5 552.3 C947.7 551.9 950.9 551.8 952.1 551.7" fill="none" stroke="#1f77b4" stroke-width="2.70" stroke-linejoin="round" stroke-linecap="butt" clip-path="url(#cD)"/>
<path d="M919.6 572.4 C921.5 572.5 927.0 572.4 931.1 573.3 C935.2 574.3 941.0 576.8 944.5 578.1 C948.0 579.4 950.9 580.5 952.1 581.0" fill="none" stroke="#1f77b4" stroke-width="2.70" stroke-linejoin="round" stroke-linecap="butt" clip-path="url(#cD)"/>
<path d="M919.6 587.7 C921.9 587.6 928.9 587.8 933.0 587.3 C937.2 586.8 941.3 585.5 944.5 584.8 C947.7 584.1 950.9 583.2 952.1 582.9" fill="none" stroke="#1f77b4" stroke-width="2.70" stroke-linejoin="round" stroke-linecap="butt" clip-path="url(#cD)"/>
<path d="M919.6 620.5 C921.2 619.8 926.0 618.6 929.2 616.3 C932.4 614.0 935.9 609.6 938.7 606.8 C941.6 603.9 944.2 600.9 946.4 599.1 C948.6 597.4 951.2 596.7 952.1 596.3" fill="none" stroke="#1f77b4" stroke-width="2.70" stroke-linejoin="round" stroke-linecap="butt" clip-path="url(#cD)"/>
<path d="M919.6 620.5 C921.5 620.2 927.3 619.6 931.1 618.3 C934.9 616.9 939.1 614.5 942.6 612.5 C946.1 610.5 950.5 607.4 952.1 606.4" fill="none" stroke="#1f77b4" stroke-width="2.70" stroke-linejoin="round" stroke-linecap="butt" clip-path="url(#cD)"/>
<path d="M952.1 551.7 C953.7 551.8 958.5 552.1 961.7 552.3 C964.9 552.4 969.7 552.6 971.3 552.7" fill="none" stroke="#1f77b4" stroke-width="2.70" stroke-linejoin="round" stroke-linecap="butt" clip-path="url(#cD)"/>
<path d="M952.1 581.0 C953.7 581.0 958.5 581.0 961.7 581.0 C964.9 581.0 969.7 581.0 971.3 581.0" fill="none" stroke="#1f77b4" stroke-width="2.70" stroke-linejoin="round" stroke-linecap="butt" clip-path="url(#cD)"/>
<path d="M952.1 582.9 C953.7 582.8 958.5 582.5 961.7 582.3 C964.9 582.1 969.7 582.0 971.3 581.9" fill="none" stroke="#1f77b4" stroke-width="2.70" stroke-linejoin="round" stroke-linecap="butt" clip-path="url(#cD)"/>
<path d="M952.1 596.3 C953.7 595.6 958.5 593.7 961.7 592.4 C964.9 591.2 969.7 589.3 971.3 588.6" fill="none" stroke="#1f77b4" stroke-width="2.70" stroke-linejoin="round" stroke-linecap="butt" clip-path="url(#cD)"/>
<path d="M952.1 606.4 C953.7 607.4 958.5 611.2 961.7 612.5 C964.9 613.9 969.7 614.1 971.3 614.4" fill="none" stroke="#1f77b4" stroke-width="2.70" stroke-linejoin="round" stroke-linecap="butt" clip-path="url(#cD)"/>
<path d="M971.3 552.7 C973.2 552.8 978.9 552.8 982.7 553.2 C986.5 553.7 990.0 554.8 994.2 555.2 C998.4 555.5 1005.8 555.5 1008.2 555.5" fill="none" stroke="#1f77b4" stroke-width="2.70" stroke-linejoin="round" stroke-linecap="butt" clip-path="url(#cD)"/>
<path d="M971.3 581.0 C973.2 580.5 978.9 579.4 982.7 578.1 C986.5 576.8 990.0 574.3 994.2 573.3 C998.4 572.4 1005.8 572.5 1008.2 572.4" fill="none" stroke="#1f77b4" stroke-width="2.70" stroke-linejoin="round" stroke-linecap="butt" clip-path="url(#cD)"/>
<path d="M971.3 581.9 C973.2 582.6 978.9 584.8 982.7 585.7 C986.5 586.7 990.0 587.3 994.2 587.7 C998.4 588.0 1005.8 587.7 1008.2 587.7" fill="none" stroke="#1f77b4" stroke-width="2.70" stroke-linejoin="round" stroke-linecap="butt" clip-path="url(#cD)"/>
<path d="M971.3 588.6 C972.5 589.7 976.3 592.3 978.9 595.3 C981.4 598.3 984.0 603.3 986.5 606.8 C989.1 610.3 991.6 614.2 994.2 616.3 C996.7 618.5 999.5 619.1 1001.8 619.8 C1004.2 620.5 1007.1 620.4 1008.2 620.5" fill="none" stroke="#1f77b4" stroke-width="2.70" stroke-linejoin="round" stroke-linecap="butt" clip-path="url(#cD)"/>
<path d="M971.3 614.4 C973.2 614.6 978.9 614.9 982.7 615.4 C986.5 615.9 990.0 616.4 994.2 617.3 C998.4 618.2 1005.8 620.0 1008.2 620.5" fill="none" stroke="#1f77b4" stroke-width="2.70" stroke-linejoin="round" stroke-linecap="butt" clip-path="url(#cD)"/>
<path d="M1008.2 555.5 C1010.3 555.3 1016.9 554.7 1021.0 554.2 C1025.0 553.7 1029.1 552.8 1032.4 552.3 C1035.8 551.8 1039.6 551.5 1041.0 551.3" fill="none" stroke="#1f77b4" stroke-width="2.70" stroke-linejoin="round" stroke-linecap="butt" clip-path="url(#cD)"/>
<path d="M1008.2 572.4 C1010.3 572.7 1016.9 573.2 1021.0 574.3 C1025.0 575.4 1029.1 577.9 1032.4 579.1 C1035.8 580.2 1039.6 580.6 1041.0 581.0" fill="none" stroke="#1f77b4" stroke-width="2.70" stroke-linejoin="round" stroke-linecap="butt" clip-path="url(#cD)"/>
<path d="M1008.2 587.7 C1010.3 587.4 1016.9 586.8 1021.0 586.1 C1025.0 585.5 1029.1 584.5 1032.4 583.8 C1035.8 583.1 1039.6 582.2 1041.0 581.9" fill="none" stroke="#1f77b4" stroke-width="2.70" stroke-linejoin="round" stroke-linecap="butt" clip-path="url(#cD)"/>
<path d="M1008.2 620.5 C1009.7 620.2 1014.0 620.2 1017.1 618.3 C1020.2 616.3 1023.5 611.9 1026.7 608.7 C1029.9 605.5 1033.9 601.4 1036.3 599.1 C1038.7 596.9 1040.2 595.9 1041.0 595.3" fill="none" stroke="#1f77b4" stroke-width="2.70" stroke-linejoin="round" stroke-linecap="butt" clip-path="url(#cD)"/>
<path d="M1008.2 620.5 C1010.0 620.3 1015.3 620.5 1019.1 619.2 C1022.8 617.9 1026.9 614.9 1030.5 612.5 C1034.2 610.1 1039.3 606.1 1041.0 604.9" fill="none" stroke="#1f77b4" stroke-width="2.70" stroke-linejoin="round" stroke-linecap="butt" clip-path="url(#cD)"/>
<path d="M1041.0 551.3 C1042.5 551.0 1046.5 549.9 1049.6 549.4 C1052.8 548.9 1058.1 548.6 1059.8 548.5" fill="none" stroke="#1f77b4" stroke-width="2.70" stroke-linejoin="round" stroke-linecap="butt" clip-path="url(#cD)"/>
<path d="M1041.0 581.0 C1042.5 581.1 1046.5 581.6 1049.6 581.9 C1052.8 582.2 1058.1 582.7 1059.8 582.9" fill="none" stroke="#1f77b4" stroke-width="2.70" stroke-linejoin="round" stroke-linecap="butt" clip-path="url(#cD)"/>
<path d="M1041.0 581.9 C1042.5 582.0 1046.5 582.1 1049.6 582.3 C1052.8 582.5 1058.1 582.8 1059.8 582.9" fill="none" stroke="#1f77b4" stroke-width="2.70" stroke-linejoin="round" stroke-linecap="butt" clip-path="url(#cD)"/>
<path d="M1041.0 595.3 C1042.5 594.3 1046.5 591.2 1049.6 589.6 C1052.8 588.0 1058.1 586.4 1059.8 585.7" fill="none" stroke="#1f77b4" stroke-width="2.70" stroke-linejoin="round" stroke-linecap="butt" clip-path="url(#cD)"/>
<path d="M1041.0 604.9 C1042.5 603.6 1046.5 599.4 1049.6 597.2 C1052.8 595.0 1058.1 592.4 1059.8 591.5" fill="none" stroke="#1f77b4" stroke-width="2.70" stroke-linejoin="round" stroke-linecap="butt" clip-path="url(#cD)"/>
<path d="M874.3 639.3 C876.4 638.3 882.8 635.8 887.1 633.5 C891.5 631.3 896.7 627.8 900.5 625.9 C904.3 624.0 906.9 622.9 910.1 622.1 C913.3 621.3 918.0 621.3 919.6 621.1" fill="none" stroke="#1f77b4" stroke-width="2.70" stroke-linejoin="round" stroke-linecap="butt" clip-path="url(#cD)"/>
<path d="M874.3 639.3 C876.4 639.0 882.4 637.8 887.1 637.4 C891.8 636.9 897.0 636.7 902.4 636.4 C907.8 636.1 916.8 635.6 919.6 635.5" fill="none" stroke="#1f77b4" stroke-width="2.70" stroke-linejoin="round" stroke-linecap="butt" clip-path="url(#cD)"/>
<path d="M874.3 649.8 C875.8 649.3 879.9 649.6 883.3 646.9 C886.7 644.2 890.9 635.9 894.8 633.5 C898.6 631.2 902.1 632.8 906.2 632.6 C910.4 632.4 917.4 632.6 919.6 632.6" fill="none" stroke="#1f77b4" stroke-width="2.70" stroke-linejoin="round" stroke-linecap="butt" clip-path="url(#cD)"/>
<path d="M874.3 649.8 C876.4 649.6 883.1 648.7 887.1 648.8 C891.2 649.0 894.8 649.5 898.6 650.8 C902.4 652.0 906.6 655.2 910.1 656.5 C913.6 657.8 918.0 658.4 919.6 658.8" fill="none" stroke="#1f77b4" stroke-width="2.70" stroke-linejoin="round" stroke-linecap="butt" clip-path="url(#cD)"/>
<path d="M919.6 621.1 C921.9 621.1 927.6 621.1 933.0 621.1 C938.4 621.1 948.9 621.1 952.1 621.1" fill="none" stroke="#1f77b4" stroke-width="2.70" stroke-linejoin="round" stroke-linecap="butt" clip-path="url(#cD)"/>
<path d="M919.6 621.1 C921.9 621.3 928.9 622.4 933.0 622.1 C937.2 621.8 941.3 620.0 944.5 619.2 C947.7 618.4 950.9 617.6 952.1 617.3" fill="none" stroke="#1f77b4" stroke-width="2.70" stroke-linejoin="round" stroke-linecap="butt" clip-path="url(#cD)"/>
<path d="M919.6 635.5 C921.5 635.1 927.3 634.8 931.1 633.5 C934.9 632.3 939.1 629.1 942.6 627.8 C946.1 626.5 950.5 626.2 952.1 625.9" fill="none" stroke="#1f77b4" stroke-width="2.70" stroke-linejoin="round" stroke-linecap="butt" clip-path="url(#cD)"/>
<path d="M919.6 632.6 C921.5 632.3 927.3 631.5 931.1 630.7 C934.9 629.9 939.1 628.5 942.6 627.8 C946.1 627.1 950.5 626.5 952.1 626.3" fill="none" stroke="#1f77b4" stroke-width="2.70" stroke-linejoin="round" stroke-linecap="butt" clip-path="url(#cD)"/>
<path d="M919.6 658.8 C921.2 657.8 926.0 655.6 929.2 652.7 C932.4 649.7 935.6 644.2 938.7 641.2 C941.9 638.2 946.1 635.9 948.3 634.5 C950.5 633.1 951.5 632.9 952.1 632.6" fill="none" stroke="#1f77b4" stroke-width="2.70" stroke-linejoin="round" stroke-linecap="butt" clip-path="url(#cD)"/>
<path d="M952.1 621.1 C953.7 621.0 958.5 620.7 961.7 620.5 C964.9 620.4 969.7 620.2 971.3 620.2" fill="none" stroke="#1f77b4" stroke-width="2.70" stroke-linejoin="round" stroke-linecap="butt" clip-path="url(#cD)"/>
<path d="M952.1 617.3 C953.7 617.0 958.5 615.8 961.7 615.4 C964.9 615.0 969.7 614.9 971.3 614.8" fill="none" stroke="#1f77b4" stroke-width="2.70" stroke-linejoin="round" stroke-linecap="butt" clip-path="url(#cD)"/>
<path d="M952.1 625.9 C953.7 626.1 958.5 626.5 961.7 626.9 C964.9 627.2 969.7 627.7 971.3 627.8" fill="none" stroke="#1f77b4" stroke-width="2.70" stroke-linejoin="round" stroke-linecap="butt" clip-path="url(#cD)"/>
<path d="M952.1 632.6 C953.7 632.3 958.5 631.3 961.7 630.7 C964.9 630.0 969.7 629.1 971.3 628.8" fill="none" stroke="#1f77b4" stroke-width="2.70" stroke-linejoin="round" stroke-linecap="butt" clip-path="url(#cD)"/>
<path d="M971.3 620.2 C973.2 620.3 978.9 620.8 982.7 621.1 C986.5 621.4 990.0 621.8 994.2 622.1 C998.4 622.4 1005.8 622.9 1008.2 623.0" fill="none" stroke="#1f77b4" stroke-width="2.70" stroke-linejoin="round" stroke-linecap="butt" clip-path="url(#cD)"/>
<path d="M971.3 614.8 C973.2 615.1 978.9 615.6 982.7 616.3 C986.5 617.1 990.0 618.5 994.2 619.2 C998.4 619.9 1005.8 620.3 1008.2 620.5" fill="none" stroke="#1f77b4" stroke-width="2.70" stroke-linejoin="round" stroke-linecap="butt" clip-path="url(#cD)"/>
<path d="M971.3 627.8 C973.2 628.3 978.9 629.7 982.7 630.7 C986.5 631.6 990.0 632.8 994.2 633.5 C998.4 634.3 1005.8 635.1 1008.2 635.5" fill="none" stroke="#1f77b4" stroke-width="2.70" stroke-linejoin="round" stroke-linecap="butt" clip-path="url(#cD)"/>
<path d="M971.3 628.8 C973.2 629.9 979.2 632.4 982.7 635.5 C986.2 638.5 989.1 643.4 992.3 646.9 C995.5 650.4 999.2 654.5 1001.8 656.5 C1004.5 658.5 1007.1 658.4 1008.2 658.8" fill="none" stroke="#1f77b4" stroke-width="2.70" stroke-linejoin="round" stroke-linecap="butt" clip-path="url(#cD)"/>
<path d="M971.3 627.8 C973.2 628.1 978.9 628.6 982.7 629.7 C986.5 630.8 990.0 633.2 994.2 634.5 C998.4 635.8 1005.8 636.9 1008.2 637.4" fill="none" stroke="#1f77b4" stroke-width="2.70" stroke-linejoin="round" stroke-linecap="butt" clip-path="url(#cD)"/>
<path d="M1008.2 623.0 C1010.3 622.9 1016.9 622.4 1021.0 622.1 C1025.0 621.8 1029.1 621.4 1032.4 621.1 C1035.8 620.8 1039.6 620.3 1041.0 620.2" fill="none" stroke="#1f77b4" stroke-width="2.70" stroke-linejoin="round" stroke-linecap="butt" clip-path="url(#cD)"/>
<path d="M1008.2 635.5 C1010.3 635.1 1016.9 634.5 1021.0 633.5 C1025.0 632.6 1029.1 631.0 1032.4 629.7 C1035.8 628.4 1039.6 626.5 1041.0 625.9" fill="none" stroke="#1f77b4" stroke-width="2.70" stroke-linejoin="round" stroke-linecap="butt" clip-path="url(#cD)"/>
<path d="M1008.2 637.4 C1010.3 636.9 1016.9 635.8 1021.0 634.5 C1025.0 633.2 1029.1 630.8 1032.4 629.7 C1035.8 628.6 1039.6 628.1 1041.0 627.8" fill="none" stroke="#1f77b4" stroke-width="2.70" stroke-linejoin="round" stroke-linecap="butt" clip-path="url(#cD)"/>
<path d="M1008.2 658.8 C1009.7 657.8 1014.0 655.6 1017.1 652.7 C1020.2 649.7 1023.5 644.4 1026.7 641.2 C1029.9 638.0 1033.9 635.1 1036.3 633.5 C1038.7 632.0 1040.2 632.0 1041.0 631.6" fill="none" stroke="#1f77b4" stroke-width="2.70" stroke-linejoin="round" stroke-linecap="butt" clip-path="url(#cD)"/>
<path d="M1041.0 620.2 C1042.5 619.5 1046.5 618.4 1049.6 616.3 C1052.8 614.3 1058.1 609.2 1059.8 607.7" fill="none" stroke="#1f77b4" stroke-width="2.70" stroke-linejoin="round" stroke-linecap="butt" clip-path="url(#cD)"/>
<path d="M1041.0 625.9 C1042.5 625.3 1046.5 623.8 1049.6 622.1 C1052.8 620.3 1058.1 616.5 1059.8 615.4" fill="none" stroke="#1f77b4" stroke-width="2.70" stroke-linejoin="round" stroke-linecap="butt" clip-path="url(#cD)"/>
<path d="M1041.0 627.8 C1042.5 627.2 1046.5 625.4 1049.6 624.0 C1052.8 622.6 1058.1 620.0 1059.8 619.2" fill="none" stroke="#1f77b4" stroke-width="2.70" stroke-linejoin="round" stroke-linecap="butt" clip-path="url(#cD)"/>
<path d="M1041.0 631.6 C1042.5 631.5 1046.5 631.0 1049.6 630.7 C1052.8 630.4 1058.1 629.9 1059.8 629.7" fill="none" stroke="#1f77b4" stroke-width="2.70" stroke-linejoin="round" stroke-linecap="butt" clip-path="url(#cD)"/>
<path d="M720.2 779.6 C722.7 779.8 730.3 780.8 735.6 780.6 C740.9 780.4 746.0 779.2 752.1 778.6 C758.2 777.9 768.8 777.2 772.1 776.9" fill="none" stroke="#1f77b4" stroke-width="2.70" stroke-linejoin="round" stroke-linecap="butt" clip-path="url(#cD)"/>
<path d="M720.2 779.6 C722.7 780.1 730.3 780.8 735.6 782.7 C740.9 784.6 747.3 789.1 752.1 790.9 C756.9 792.7 761.2 793.0 764.5 793.4 C767.8 793.8 770.8 793.4 772.1 793.4" fill="none" stroke="#1f77b4" stroke-width="2.70" stroke-linejoin="round" stroke-linecap="butt" clip-path="url(#cD)"/>
<path d="M772.1 776.9 C774.3 777.1 780.6 777.8 785.1 778.1 C789.6 778.5 796.8 779.0 799.1 779.2" fill="none" stroke="#1f77b4" stroke-width="2.70" stroke-linejoin="round" stroke-linecap="butt" clip-path="url(#cD)"/>
<path d="M772.1 793.4 C774.3 793.7 780.6 794.4 785.1 795.1 C789.6 795.7 796.8 796.8 799.1 797.1" fill="none" stroke="#1f77b4" stroke-width="2.70" stroke-linejoin="round" stroke-linecap="butt" clip-path="url(#cD)"/>
<path d="M772.1 793.4 C774.3 793.5 780.6 793.7 785.1 794.0 C789.6 794.4 796.8 795.2 799.1 795.5" fill="none" stroke="#1f77b4" stroke-width="2.70" stroke-linejoin="round" stroke-linecap="butt" clip-path="url(#cD)"/>
<path d="M799.1 779.2 L817.7 779.2" fill="none" stroke="#1f77b4" stroke-width="2.70" stroke-linejoin="round" stroke-linecap="butt" clip-path="url(#cD)"/>
<path d="M799.1 797.1 C800.6 797.0 804.7 797.0 807.8 796.7 C810.9 796.4 816.0 795.7 817.7 795.5" fill="none" stroke="#1f77b4" stroke-width="2.70" stroke-linejoin="round" stroke-linecap="butt" clip-path="url(#cD)"/>
<path d="M799.1 795.5 C800.6 795.6 804.7 796.0 807.8 796.1 C810.9 796.2 816.0 796.1 817.7 796.1" fill="none" stroke="#1f77b4" stroke-width="2.70" stroke-linejoin="round" stroke-linecap="butt" clip-path="url(#cD)"/>
<path d="M817.7 779.2 C820.5 779.4 828.3 780.4 834.6 780.6 C840.8 780.8 848.7 780.4 855.2 780.2 C861.7 780.0 870.7 779.7 873.8 779.6" fill="none" stroke="#1f77b4" stroke-width="2.70" stroke-linejoin="round" stroke-linecap="butt" clip-path="url(#cD)"/>
<path d="M817.7 795.5 C819.5 795.6 824.9 796.8 828.4 796.1 C831.9 795.3 834.9 793.0 838.7 790.9 C842.5 788.9 847.0 785.5 851.1 783.7 C855.2 781.9 859.7 780.9 863.5 780.2 C867.2 779.5 872.0 779.7 873.8 779.6" fill="none" stroke="#1f77b4" stroke-width="2.70" stroke-linejoin="round" stroke-linecap="butt" clip-path="url(#cD)"/>
<path d="M817.7 796.1 C819.5 796.2 825.2 797.5 828.8 796.7 C832.4 795.9 835.3 793.6 839.1 791.5 C842.9 789.5 847.4 786.2 851.5 784.3 C855.6 782.5 860.2 781.4 863.9 780.6 C867.6 779.8 872.1 779.8 873.8 779.6" fill="none" stroke="#1f77b4" stroke-width="2.70" stroke-linejoin="round" stroke-linecap="butt" clip-path="url(#cD)"/>
<path d="M720.2 843.5 C722.7 843.5 730.3 843.8 735.6 843.5 C740.9 843.2 746.0 842.5 752.1 841.4 C758.2 840.4 768.8 838.0 772.1 837.3" fill="none" stroke="#1f77b4" stroke-width="2.70" stroke-linejoin="round" stroke-linecap="butt" clip-path="url(#cD)"/>
<path d="M720.2 889.9 C722.0 889.2 727.2 888.9 731.5 885.8 C735.8 882.7 741.5 875.5 745.9 871.3 C750.4 867.2 753.9 863.2 758.3 861.0 C762.7 858.9 769.8 859.0 772.1 858.6" fill="none" stroke="#1f77b4" stroke-width="2.70" stroke-linejoin="round" stroke-linecap="butt" clip-path="url(#cD)"/>
<path d="M720.2 889.9 C722.7 890.1 730.3 890.7 735.6 890.9 C740.9 891.2 746.0 891.4 752.1 891.5 C758.2 891.7 768.8 891.9 772.1 892.0" fill="none" stroke="#1f77b4" stroke-width="2.70" stroke-linejoin="round" stroke-linecap="butt" clip-path="url(#cD)"/>
<path d="M720.2 896.1 C722.7 895.9 730.6 895.7 735.6 895.1 C740.6 894.4 745.6 893.7 750.1 892.0 C754.5 890.2 758.7 886.2 762.4 884.7 C766.1 883.3 770.5 883.4 772.1 883.1" fill="none" stroke="#1f77b4" stroke-width="2.70" stroke-linejoin="round" stroke-linecap="butt" clip-path="url(#cD)"/>
<path d="M720.2 896.1 C722.7 895.7 730.3 894.0 735.6 894.0 C740.9 894.0 746.0 895.1 752.1 896.1 C758.2 897.1 768.8 899.5 772.1 900.2" fill="none" stroke="#1f77b4" stroke-width="2.70" stroke-linejoin="round" stroke-linecap="butt" clip-path="url(#cD)"/>
<path d="M772.1 837.3 C774.3 836.8 780.6 834.8 785.1 834.2 C789.6 833.6 796.8 833.9 799.1 833.8" fill="none" stroke="#1f77b4" stroke-width="2.70" stroke-linejoin="round" stroke-linecap="butt" clip-path="url(#cD)"/>
<path d="M772.1 837.3 C774.3 837.7 780.6 838.9 785.1 839.4 C789.6 839.8 796.8 839.9 799.1 840.0" fill="none" stroke="#1f77b4" stroke-width="2.70" stroke-linejoin="round" stroke-linecap="butt" clip-path="url(#cD)"/>
<path d="M772.1 858.6 C774.3 858.3 780.6 857.3 785.1 856.9 C789.6 856.6 796.8 856.6 799.1 856.5" fill="none" stroke="#1f77b4" stroke-width="2.70" stroke-linejoin="round" stroke-linecap="butt" clip-path="url(#cD)"/>
<path d="M772.1 858.6 C774.3 858.8 780.6 859.6 785.1 860.0 C789.6 860.4 796.8 860.9 799.1 861.0" fill="none" stroke="#1f77b4" stroke-width="2.70" stroke-linejoin="round" stroke-linecap="butt" clip-path="url(#cD)"/>
<path d="M772.1 883.1 C774.3 882.5 780.6 880.7 785.1 879.6 C789.6 878.5 796.8 877.0 799.1 876.5" fill="none" stroke="#1f77b4" stroke-width="2.70" stroke-linejoin="round" stroke-linecap="butt" clip-path="url(#cD)"/>
<path d="M772.1 892.0 C774.3 892.0 780.6 892.1 785.1 892.0 C789.6 891.8 796.8 891.1 799.1 890.9" fill="none" stroke="#1f77b4" stroke-width="2.70" stroke-linejoin="round" stroke-linecap="butt" clip-path="url(#cD)"/>
<path d="M772.1 900.2 C774.3 899.3 780.6 896.2 785.1 895.1 C789.6 894.0 796.8 893.8 799.1 893.6" fill="none" stroke="#1f77b4" stroke-width="2.70" stroke-linejoin="round" stroke-linecap="butt" clip-path="url(#cD)"/>
<path d="M799.1 833.8 C800.6 833.9 804.7 834.1 807.8 834.2 C810.9 834.4 816.0 834.6 817.7 834.6" fill="none" stroke="#1f77b4" stroke-width="2.70" stroke-linejoin="round" stroke-linecap="butt" clip-path="url(#cD)"/>
<path d="M799.1 840.0 C800.6 840.1 804.7 840.3 807.8 840.4 C810.9 840.5 816.0 840.4 817.7 840.4" fill="none" stroke="#1f77b4" stroke-width="2.70" stroke-linejoin="round" stroke-linecap="butt" clip-path="url(#cD)"/>
<path d="M799.1 856.5 C800.6 856.6 804.7 856.8 807.8 856.9 C810.9 857.0 816.0 856.9 817.7 856.9" fill="none" stroke="#1f77b4" stroke-width="2.70" stroke-linejoin="round" stroke-linecap="butt" clip-path="url(#cD)"/>
<path d="M799.1 861.0 C800.6 860.9 804.7 860.4 807.8 860.0 C810.9 859.6 816.0 858.8 817.7 858.6" fill="none" stroke="#1f77b4" stroke-width="2.70" stroke-linejoin="round" stroke-linecap="butt" clip-path="url(#cD)"/>
<path d="M799.1 876.5 C800.6 876.8 804.7 877.9 807.8 878.6 C810.9 879.2 816.0 880.3 817.7 880.6" fill="none" stroke="#1f77b4" stroke-width="2.70" stroke-linejoin="round" stroke-linecap="butt" clip-path="url(#cD)"/>
<path d="M799.1 890.9 C800.6 890.4 804.7 888.7 807.8 887.8 C810.9 887.0 816.0 886.1 817.7 885.8" fill="none" stroke="#1f77b4" stroke-width="2.70" stroke-linejoin="round" stroke-linecap="butt" clip-path="url(#cD)"/>
<path d="M799.1 893.6 C800.6 894.4 804.7 897.0 807.8 898.1 C810.9 899.2 816.0 899.9 817.7 900.2" fill="none" stroke="#1f77b4" stroke-width="2.70" stroke-linejoin="round" stroke-linecap="butt" clip-path="url(#cD)"/>
<path d="M817.7 834.6 C819.8 835.3 826.3 837.0 830.5 838.4 C834.7 839.7 838.0 841.6 842.8 842.5 C847.6 843.3 854.2 843.3 859.3 843.5 C864.5 843.7 871.4 843.5 873.8 843.5" fill="none" stroke="#1f77b4" stroke-width="2.70" stroke-linejoin="round" stroke-linecap="butt" clip-path="url(#cD)"/>
<path d="M817.7 840.4 C819.8 840.8 825.6 842.0 830.5 842.5 C835.3 843.0 839.7 843.3 847.0 843.5 C854.2 843.7 869.3 843.5 873.8 843.5" fill="none" stroke="#1f77b4" stroke-width="2.70" stroke-linejoin="round" stroke-linecap="butt" clip-path="url(#cD)"/>
<path d="M817.7 856.9 C819.8 857.6 826.3 858.3 830.5 861.0 C834.7 863.8 838.7 869.6 842.8 873.4 C847.0 877.2 851.4 881.1 855.2 883.7 C859.0 886.3 862.4 887.8 865.5 888.9 C868.6 889.9 872.4 889.7 873.8 889.9" fill="none" stroke="#1f77b4" stroke-width="2.70" stroke-linejoin="round" stroke-linecap="butt" clip-path="url(#cD)"/>
<path d="M817.7 858.6 C819.8 859.3 826.3 860.3 830.5 863.1 C834.7 865.9 838.4 871.7 842.8 875.5 C847.3 879.2 852.1 883.4 857.3 885.8 C862.4 888.2 871.0 889.2 873.8 889.9" fill="none" stroke="#1f77b4" stroke-width="2.70" stroke-linejoin="round" stroke-linecap="butt" clip-path="url(#cD)"/>
<path d="M817.7 880.6 C819.8 881.5 826.3 883.9 830.5 885.8 C834.7 887.7 838.0 890.4 842.8 892.0 C847.6 893.5 854.2 894.4 859.3 895.1 C864.5 895.7 871.4 895.9 873.8 896.1" fill="none" stroke="#1f77b4" stroke-width="2.70" stroke-linejoin="round" stroke-linecap="butt" clip-path="url(#cD)"/>
<path d="M817.7 885.8 C819.8 885.4 826.3 883.0 830.5 883.7 C834.7 884.4 838.7 888.2 842.8 889.9 C847.0 891.6 850.1 893.0 855.2 894.0 C860.4 895.1 870.7 895.7 873.8 896.1" fill="none" stroke="#1f77b4" stroke-width="2.70" stroke-linejoin="round" stroke-linecap="butt" clip-path="url(#cD)"/>
<path d="M817.7 900.2 C819.8 900.4 826.3 901.2 830.5 901.2 C834.7 901.2 838.0 900.7 842.8 900.2 C847.6 899.7 854.2 898.8 859.3 898.1 C864.5 897.5 871.4 896.4 873.8 896.1" fill="none" stroke="#1f77b4" stroke-width="2.70" stroke-linejoin="round" stroke-linecap="butt" clip-path="url(#cD)"/>
<path d="M720.2 962.1 C721.7 958.6 726.2 948.0 729.4 941.4 C732.7 934.9 736.0 928.4 739.7 922.9 C743.5 917.4 748.0 912.1 752.1 908.5 C756.2 904.8 761.2 902.6 764.5 901.2 C767.8 899.9 770.8 900.4 772.1 900.2" fill="none" stroke="#1f77b4" stroke-width="2.70" stroke-linejoin="round" stroke-linecap="butt" clip-path="url(#cD)"/>
<path d="M720.2 962.1 C722.7 960.0 730.3 953.5 735.6 949.7 C740.9 945.9 747.3 942.5 752.1 939.4 C756.9 936.3 761.2 932.8 764.5 931.1 C767.8 929.5 770.8 929.8 772.1 929.5" fill="none" stroke="#1f77b4" stroke-width="2.70" stroke-linejoin="round" stroke-linecap="butt" clip-path="url(#cD)"/>
<path d="M772.1 900.2 C773.6 901.6 777.8 905.4 781.0 908.5 C784.2 911.5 788.3 916.5 791.3 918.8 C794.3 921.0 797.8 921.3 799.1 921.9" fill="none" stroke="#1f77b4" stroke-width="2.70" stroke-linejoin="round" stroke-linecap="butt" clip-path="url(#cD)"/>
<path d="M772.1 929.5 C774.3 929.2 780.6 928.6 785.1 928.0 C789.6 927.5 796.8 926.3 799.1 926.0" fill="none" stroke="#1f77b4" stroke-width="2.70" stroke-linejoin="round" stroke-linecap="butt" clip-path="url(#cD)"/>
<path d="M772.1 929.5 C774.3 929.9 780.6 931.6 785.1 932.2 C789.6 932.7 796.8 932.7 799.1 932.8" fill="none" stroke="#1f77b4" stroke-width="2.70" stroke-linejoin="round" stroke-linecap="butt" clip-path="url(#cD)"/>
<path d="M799.1 921.9 C800.6 921.2 804.7 918.8 807.8 917.7 C810.9 916.7 816.0 916.0 817.7 915.7" fill="none" stroke="#1f77b4" stroke-width="2.70" stroke-linejoin="round" stroke-linecap="butt" clip-path="url(#cD)"/>
<path d="M799.1 926.0 C800.6 925.8 804.7 925.3 807.8 924.9 C810.9 924.6 816.0 924.1 817.7 923.9" fill="none" stroke="#1f77b4" stroke-width="2.70" stroke-linejoin="round" stroke-linecap="butt" clip-path="url(#cD)"/>
<path d="M799.1 932.8 C800.6 933.0 804.7 933.7 807.8 934.2 C810.9 934.7 816.0 935.4 817.7 935.7" fill="none" stroke="#1f77b4" stroke-width="2.70" stroke-linejoin="round" stroke-linecap="butt" clip-path="url(#cD)"/>
<path d="M817.7 915.7 C818.8 916.2 821.5 918.4 824.3 918.8 C827.1 919.1 831.2 917.4 834.6 917.7 C838.0 918.1 841.5 918.6 844.9 920.8 C848.3 923.1 851.8 927.0 855.2 931.1 C858.6 935.3 862.4 940.4 865.5 945.6 C868.6 950.7 872.4 959.3 873.8 962.1" fill="none" stroke="#1f77b4" stroke-width="2.70" stroke-linejoin="round" stroke-linecap="butt" clip-path="url(#cD)"/>
<path d="M817.7 923.9 C819.5 925.5 824.2 930.3 828.4 933.2 C832.6 936.1 837.7 938.4 842.8 941.4 C848.0 944.5 854.2 948.3 859.3 951.8 C864.5 955.2 871.4 960.3 873.8 962.1" fill="none" stroke="#1f77b4" stroke-width="2.70" stroke-linejoin="round" stroke-linecap="butt" clip-path="url(#cD)"/>
<path d="M817.7 935.7 C819.8 936.3 825.6 938.1 830.5 939.4 C835.3 940.7 841.8 941.4 847.0 943.5 C852.1 945.6 856.9 948.7 861.4 951.8 C865.9 954.8 871.7 960.3 873.8 962.1" fill="none" stroke="#1f77b4" stroke-width="2.70" stroke-linejoin="round" stroke-linecap="butt" clip-path="url(#cD)"/>
<path d="M874.2 779.6 C876.6 779.7 883.5 779.8 888.6 780.2 C893.8 780.7 900.0 781.8 905.1 782.3 C910.3 782.7 917.1 783.0 919.5 783.1" fill="none" stroke="#1f77b4" stroke-width="2.70" stroke-linejoin="round" stroke-linecap="butt" clip-path="url(#cD)"/>
<path d="M874.2 779.6 C876.6 780.1 883.8 781.0 888.6 782.7 C893.4 784.4 898.9 788.0 903.1 789.9 C907.2 791.8 910.6 793.2 913.4 794.0 C916.1 794.8 918.5 794.5 919.5 794.6" fill="none" stroke="#1f77b4" stroke-width="2.70" stroke-linejoin="round" stroke-linecap="butt" clip-path="url(#cD)"/>
<path d="M919.5 783.1 C922.0 782.7 928.5 781.3 934.0 780.6 C939.5 779.9 949.4 779.2 952.5 779.0" fill="none" stroke="#1f77b4" stroke-width="2.70" stroke-linejoin="round" stroke-linecap="butt" clip-path="url(#cD)"/>
<path d="M919.5 794.6 C922.0 794.8 928.5 795.2 934.0 795.5 C939.5 795.7 949.4 796.0 952.5 796.1" fill="none" stroke="#1f77b4" stroke-width="2.70" stroke-linejoin="round" stroke-linecap="butt" clip-path="url(#cD)"/>
<path d="M919.5 794.6 C922.0 794.7 928.5 795.0 934.0 795.1 C939.5 795.1 949.4 795.1 952.5 795.1" fill="none" stroke="#1f77b4" stroke-width="2.70" stroke-linejoin="round" stroke-linecap="butt" clip-path="url(#cD)"/>
<path d="M952.5 779.0 L971.5 779.0" fill="none" stroke="#1f77b4" stroke-width="2.70" stroke-linejoin="round" stroke-linecap="butt" clip-path="url(#cD)"/>
<path d="M952.5 796.1 C954.3 796.3 959.7 796.9 962.8 797.1 C966.0 797.3 970.1 797.1 971.5 797.1" fill="none" stroke="#1f77b4" stroke-width="2.70" stroke-linejoin="round" stroke-linecap="butt" clip-path="url(#cD)"/>
<path d="M952.5 795.1 C954.3 795.0 959.7 794.7 962.8 794.6 C966.0 794.6 970.1 794.6 971.5 794.6" fill="none" stroke="#1f77b4" stroke-width="2.70" stroke-linejoin="round" stroke-linecap="butt" clip-path="url(#cD)"/>
<path d="M971.5 779.0 C974.2 779.2 981.5 779.8 987.6 780.6 C993.7 781.4 1004.8 783.2 1008.2 783.7" fill="none" stroke="#1f77b4" stroke-width="2.70" stroke-linejoin="round" stroke-linecap="butt" clip-path="url(#cD)"/>
<path d="M971.5 797.1 C974.2 796.9 981.5 796.5 987.6 796.1 C993.7 795.7 1004.8 794.9 1008.2 794.6" fill="none" stroke="#1f77b4" stroke-width="2.70" stroke-linejoin="round" stroke-linecap="butt" clip-path="url(#cD)"/>
<path d="M971.5 794.6 C974.9 794.7 985.6 795.1 991.7 795.1 C997.8 795.1 1005.5 794.7 1008.2 794.6" fill="none" stroke="#1f77b4" stroke-width="2.70" stroke-linejoin="round" stroke-linecap="butt" clip-path="url(#cD)"/>
<path d="M1008.2 783.7 C1011.0 783.2 1019.2 781.5 1024.7 780.6 C1030.2 779.8 1038.4 778.9 1041.2 778.6" fill="none" stroke="#1f77b4" stroke-width="2.70" stroke-linejoin="round" stroke-linecap="butt" clip-path="url(#cD)"/>
<path d="M1008.2 794.6 C1011.0 794.8 1019.2 795.4 1024.7 795.5 C1030.2 795.5 1038.4 795.1 1041.2 795.1" fill="none" stroke="#1f77b4" stroke-width="2.70" stroke-linejoin="round" stroke-linecap="butt" clip-path="url(#cD)"/>
<path d="M1041.2 778.6 L1060.8 776.9" fill="none" stroke="#1f77b4" stroke-width="2.70" stroke-linejoin="round" stroke-linecap="butt" clip-path="url(#cD)"/>
<path d="M1041.2 795.1 L1060.8 792.6" fill="none" stroke="#1f77b4" stroke-width="2.70" stroke-linejoin="round" stroke-linecap="butt" clip-path="url(#cD)"/>
<path d="M874.2 843.5 C877.3 843.5 885.2 843.7 892.7 843.5 C900.3 843.3 915.1 842.6 919.5 842.5" fill="none" stroke="#1f77b4" stroke-width="2.70" stroke-linejoin="round" stroke-linecap="butt" clip-path="url(#cD)"/>
<path d="M874.2 889.9 C876.6 889.2 883.8 888.9 888.6 885.8 C893.4 882.7 898.9 875.6 903.1 871.3 C907.2 867.0 910.6 862.1 913.4 860.0 C916.1 857.9 918.5 858.8 919.5 858.6" fill="none" stroke="#1f77b4" stroke-width="2.70" stroke-linejoin="round" stroke-linecap="butt" clip-path="url(#cD)"/>
<path d="M874.2 889.9 C876.6 890.1 883.5 890.6 888.6 890.9 C893.8 891.3 900.0 891.8 905.1 892.0 C910.3 892.1 917.1 892.0 919.5 892.0" fill="none" stroke="#1f77b4" stroke-width="2.70" stroke-linejoin="round" stroke-linecap="butt" clip-path="url(#cD)"/>
<path d="M874.2 896.1 C876.6 896.3 883.5 896.1 888.6 897.1 C893.8 898.1 900.0 901.1 905.1 902.3 C910.3 903.5 917.1 904.0 919.5 904.3" fill="none" stroke="#1f77b4" stroke-width="2.70" stroke-linejoin="round" stroke-linecap="butt" clip-path="url(#cD)"/>
<path d="M874.2 896.1 C876.6 896.1 883.5 895.9 888.6 896.1 C893.8 896.3 900.0 896.9 905.1 897.1 C910.3 897.3 917.1 897.1 919.5 897.1" fill="none" stroke="#1f77b4" stroke-width="2.70" stroke-linejoin="round" stroke-linecap="butt" clip-path="url(#cD)"/>
<path d="M919.5 842.5 C922.0 841.8 928.5 839.7 934.0 838.4 C939.5 837.0 949.4 834.9 952.5 834.2" fill="none" stroke="#1f77b4" stroke-width="2.70" stroke-linejoin="round" stroke-linecap="butt" clip-path="url(#cD)"/>
<path d="M919.5 842.5 C922.0 842.3 928.5 842.0 934.0 841.4 C939.5 840.9 949.4 839.7 952.5 839.4" fill="none" stroke="#1f77b4" stroke-width="2.70" stroke-linejoin="round" stroke-linecap="butt" clip-path="url(#cD)"/>
<path d="M919.5 858.6 C922.3 858.6 930.5 858.9 936.0 859.0 C941.5 859.0 949.8 859.0 952.5 859.0" fill="none" stroke="#1f77b4" stroke-width="2.70" stroke-linejoin="round" stroke-linecap="butt" clip-path="url(#cD)"/>
<path d="M919.5 892.0 C922.0 891.3 929.9 889.6 934.0 887.8 C938.1 886.1 941.2 883.0 944.3 881.6 C947.4 880.3 951.2 879.9 952.5 879.6" fill="none" stroke="#1f77b4" stroke-width="2.70" stroke-linejoin="round" stroke-linecap="butt" clip-path="url(#cD)"/>
<path d="M919.5 897.1 C921.3 896.9 926.1 897.6 929.9 896.1 C933.6 894.5 938.4 889.6 942.2 887.8 C946.0 886.1 950.8 886.1 952.5 885.8" fill="none" stroke="#1f77b4" stroke-width="2.70" stroke-linejoin="round" stroke-linecap="butt" clip-path="url(#cD)"/>
<path d="M919.5 904.3 C922.0 904.0 928.5 903.0 934.0 902.3 C939.5 901.6 949.4 900.5 952.5 900.2" fill="none" stroke="#1f77b4" stroke-width="2.70" stroke-linejoin="round" stroke-linecap="butt" clip-path="url(#cD)"/>
<path d="M952.5 834.2 L971.5 834.2" fill="none" stroke="#1f77b4" stroke-width="2.70" stroke-linejoin="round" stroke-linecap="butt" clip-path="url(#cD)"/>
<path d="M952.5 839.4 L971.5 839.4" fill="none" stroke="#1f77b4" stroke-width="2.70" stroke-linejoin="round" stroke-linecap="butt" clip-path="url(#cD)"/>
<path d="M952.5 859.0 C954.3 859.1 959.7 859.7 962.8 860.0 C966.0 860.3 970.1 860.5 971.5 860.6" fill="none" stroke="#1f77b4" stroke-width="2.70" stroke-linejoin="round" stroke-linecap="butt" clip-path="url(#cD)"/>
<path d="M952.5 879.6 C954.3 879.2 959.7 878.0 962.8 877.5 C966.0 877.0 970.1 876.7 971.5 876.5" fill="none" stroke="#1f77b4" stroke-width="2.70" stroke-linejoin="round" stroke-linecap="butt" clip-path="url(#cD)"/>
<path d="M952.5 885.8 C954.3 886.3 959.7 888.0 962.8 888.9 C966.0 889.7 970.1 890.6 971.5 890.9" fill="none" stroke="#1f77b4" stroke-width="2.70" stroke-linejoin="round" stroke-linecap="butt" clip-path="url(#cD)"/>
<path d="M952.5 900.2 C954.3 900.2 959.7 900.2 962.8 900.2 C966.0 900.2 970.1 900.2 971.5 900.2" fill="none" stroke="#1f77b4" stroke-width="2.70" stroke-linejoin="round" stroke-linecap="butt" clip-path="url(#cD)"/>
<path d="M971.5 834.2 C974.2 834.9 981.5 837.0 987.6 838.4 C993.7 839.7 1004.8 841.8 1008.2 842.5" fill="none" stroke="#1f77b4" stroke-width="2.70" stroke-linejoin="round" stroke-linecap="butt" clip-path="url(#cD)"/>
<path d="M971.5 839.4 C974.2 839.6 981.5 840.3 987.6 840.8 C993.7 841.3 1004.8 842.2 1008.2 842.5" fill="none" stroke="#1f77b4" stroke-width="2.70" stroke-linejoin="round" stroke-linecap="butt" clip-path="url(#cD)"/>
<path d="M971.5 860.6 C974.2 860.3 981.5 859.3 987.6 859.0 C993.7 858.6 1004.8 858.6 1008.2 858.6" fill="none" stroke="#1f77b4" stroke-width="2.70" stroke-linejoin="round" stroke-linecap="butt" clip-path="url(#cD)"/>
<path d="M971.5 876.5 C973.5 877.7 979.4 881.1 983.5 883.7 C987.5 886.3 991.7 889.9 995.8 892.0 C1000.0 894.0 1006.1 895.4 1008.2 896.1" fill="none" stroke="#1f77b4" stroke-width="2.70" stroke-linejoin="round" stroke-linecap="butt" clip-path="url(#cD)"/>
<path d="M971.5 890.9 C973.5 890.4 979.4 888.0 983.5 887.8 C987.5 887.7 991.7 888.9 995.8 889.9 C1000.0 890.9 1006.1 893.3 1008.2 894.0" fill="none" stroke="#1f77b4" stroke-width="2.70" stroke-linejoin="round" stroke-linecap="butt" clip-path="url(#cD)"/>
<path d="M971.5 900.2 C974.2 900.5 981.5 901.6 987.6 902.3 C993.7 903.0 1004.8 904.0 1008.2 904.3" fill="none" stroke="#1f77b4" stroke-width="2.70" stroke-linejoin="round" stroke-linecap="butt" clip-path="url(#cD)"/>
<path d="M1008.2 842.5 C1011.0 841.4 1019.2 837.3 1024.7 836.3 C1030.2 835.3 1038.4 836.3 1041.2 836.3" fill="none" stroke="#1f77b4" stroke-width="2.70" stroke-linejoin="round" stroke-linecap="butt" clip-path="url(#cD)"/>
<path d="M1008.2 842.5 C1011.0 842.0 1019.2 840.1 1024.7 839.4 C1030.2 838.7 1038.4 838.5 1041.2 838.4" fill="none" stroke="#1f77b4" stroke-width="2.70" stroke-linejoin="round" stroke-linecap="butt" clip-path="url(#cD)"/>
<path d="M1008.2 858.6 C1011.0 858.6 1019.2 858.6 1024.7 858.6 C1030.2 858.6 1038.4 858.6 1041.2 858.6" fill="none" stroke="#1f77b4" stroke-width="2.70" stroke-linejoin="round" stroke-linecap="butt" clip-path="url(#cD)"/>
<path d="M1008.2 896.1 C1010.3 894.7 1016.5 890.4 1020.6 887.8 C1024.7 885.3 1029.5 881.8 1032.9 880.6 C1036.4 879.4 1039.8 880.6 1041.2 880.6" fill="none" stroke="#1f77b4" stroke-width="2.70" stroke-linejoin="round" stroke-linecap="butt" clip-path="url(#cD)"/>
<path d="M1008.2 894.0 C1011.0 893.0 1019.2 889.2 1024.7 887.8 C1030.2 886.5 1038.4 886.1 1041.2 885.8" fill="none" stroke="#1f77b4" stroke-width="2.70" stroke-linejoin="round" stroke-linecap="butt" clip-path="url(#cD)"/>
<path d="M1008.2 904.3 C1011.0 903.6 1019.2 901.2 1024.7 900.2 C1030.2 899.2 1038.4 898.5 1041.2 898.1" fill="none" stroke="#1f77b4" stroke-width="2.70" stroke-linejoin="round" stroke-linecap="butt" clip-path="url(#cD)"/>
<path d="M1041.2 836.3 L1060.8 837.3" fill="none" stroke="#1f77b4" stroke-width="2.70" stroke-linejoin="round" stroke-linecap="butt" clip-path="url(#cD)"/>
<path d="M1041.2 838.4 L1060.8 837.9" fill="none" stroke="#1f77b4" stroke-width="2.70" stroke-linejoin="round" stroke-linecap="butt" clip-path="url(#cD)"/>
<path d="M1041.2 858.6 L1060.8 858.6" fill="none" stroke="#1f77b4" stroke-width="2.70" stroke-linejoin="round" stroke-linecap="butt" clip-path="url(#cD)"/>
<path d="M1041.2 880.6 C1042.9 881.0 1048.2 882.2 1051.5 882.7 C1054.8 883.2 1059.2 883.5 1060.8 883.7" fill="none" stroke="#1f77b4" stroke-width="2.70" stroke-linejoin="round" stroke-linecap="butt" clip-path="url(#cD)"/>
<path d="M1041.2 885.8 C1042.9 886.8 1048.2 889.9 1051.5 892.0 C1054.8 894.0 1059.2 897.1 1060.8 898.1" fill="none" stroke="#1f77b4" stroke-width="2.70" stroke-linejoin="round" stroke-linecap="butt" clip-path="url(#cD)"/>
<path d="M1041.2 898.1 C1042.9 897.8 1048.2 896.1 1051.5 896.1 C1054.8 896.1 1059.2 897.8 1060.8 898.1" fill="none" stroke="#1f77b4" stroke-width="2.70" stroke-linejoin="round" stroke-linecap="butt" clip-path="url(#cD)"/>
<path d="M874.2 962.1 C875.9 958.6 880.7 948.0 884.5 941.4 C888.3 934.9 892.7 928.0 896.9 922.9 C901.0 917.7 905.5 912.9 909.2 910.5 C913.0 908.1 917.8 908.8 919.5 908.5" fill="none" stroke="#1f77b4" stroke-width="2.70" stroke-linejoin="round" stroke-linecap="butt" clip-path="url(#cD)"/>
<path d="M874.2 962.1 C876.6 960.7 883.5 956.2 888.6 953.8 C893.8 951.4 900.0 948.8 905.1 947.6 C910.3 946.4 917.1 946.8 919.5 946.6" fill="none" stroke="#1f77b4" stroke-width="2.70" stroke-linejoin="round" stroke-linecap="butt" clip-path="url(#cD)"/>
<path d="M919.5 908.5 C922.0 909.1 929.5 911.2 934.0 912.6 C938.4 914.0 943.3 915.9 946.4 916.7 C949.4 917.5 951.5 917.0 952.5 917.1" fill="none" stroke="#1f77b4" stroke-width="2.70" stroke-linejoin="round" stroke-linecap="butt" clip-path="url(#cD)"/>
<path d="M919.5 946.6 C922.0 945.1 929.5 940.9 934.0 937.3 C938.4 933.7 943.3 927.2 946.4 924.9 C949.4 922.7 951.5 924.1 952.5 923.9" fill="none" stroke="#1f77b4" stroke-width="2.70" stroke-linejoin="round" stroke-linecap="butt" clip-path="url(#cD)"/>
<path d="M919.5 946.6 C922.0 945.7 929.5 943.0 934.0 941.4 C938.4 939.9 943.3 938.2 946.4 937.3 C949.4 936.5 951.5 936.5 952.5 936.3" fill="none" stroke="#1f77b4" stroke-width="2.70" stroke-linejoin="round" stroke-linecap="butt" clip-path="url(#cD)"/>
<path d="M952.5 917.1 C954.3 917.6 959.7 919.2 962.8 919.8 C966.0 920.4 970.1 920.7 971.5 920.8" fill="none" stroke="#1f77b4" stroke-width="2.70" stroke-linejoin="round" stroke-linecap="butt" clip-path="url(#cD)"/>
<path d="M952.5 923.9 C954.3 924.1 959.7 924.8 962.8 924.9 C966.0 925.1 970.1 924.9 971.5 924.9" fill="none" stroke="#1f77b4" stroke-width="2.70" stroke-linejoin="round" stroke-linecap="butt" clip-path="url(#cD)"/>
<path d="M952.5 936.3 C954.3 935.9 959.7 934.7 962.8 934.2 C966.0 933.7 970.1 933.4 971.5 933.2" fill="none" stroke="#1f77b4" stroke-width="2.70" stroke-linejoin="round" stroke-linecap="butt" clip-path="url(#cD)"/>
<path d="M971.5 920.8 C974.2 919.8 982.8 916.5 987.6 914.6 C992.3 912.7 996.5 910.5 1000.0 909.5 C1003.4 908.5 1006.8 908.6 1008.2 908.5" fill="none" stroke="#1f77b4" stroke-width="2.70" stroke-linejoin="round" stroke-linecap="butt" clip-path="url(#cD)"/>
<path d="M971.5 924.9 C973.5 925.6 979.4 926.7 983.5 929.1 C987.5 931.5 991.7 936.5 995.8 939.4 C1000.0 942.3 1006.1 945.4 1008.2 946.6" fill="none" stroke="#1f77b4" stroke-width="2.70" stroke-linejoin="round" stroke-linecap="butt" clip-path="url(#cD)"/>
<path d="M971.5 933.2 C973.5 933.9 979.4 935.8 983.5 937.3 C987.5 938.9 991.7 940.9 995.8 942.5 C1000.0 944.0 1006.1 945.9 1008.2 946.6" fill="none" stroke="#1f77b4" stroke-width="2.70" stroke-linejoin="round" stroke-linecap="butt" clip-path="url(#cD)"/>
<path d="M1008.2 908.5 C1010.3 909.1 1016.5 911.2 1020.6 912.6 C1024.7 914.0 1029.5 916.2 1032.9 916.7 C1036.4 917.2 1039.8 915.8 1041.2 915.7" fill="none" stroke="#1f77b4" stroke-width="2.70" stroke-linejoin="round" stroke-linecap="butt" clip-path="url(#cD)"/>
<path d="M1008.2 946.6 C1010.3 945.1 1016.5 940.9 1020.6 937.3 C1024.7 933.7 1029.5 927.2 1032.9 924.9 C1036.4 922.7 1039.8 924.1 1041.2 923.9" fill="none" stroke="#1f77b4" stroke-width="2.70" stroke-linejoin="round" stroke-linecap="butt" clip-path="url(#cD)"/>
<path d="M1008.2 946.6 C1011.0 945.4 1019.2 941.6 1024.7 939.4 C1030.2 937.1 1038.4 934.2 1041.2 933.2" fill="none" stroke="#1f77b4" stroke-width="2.70" stroke-linejoin="round" stroke-linecap="butt" clip-path="url(#cD)"/>
<path d="M1041.2 915.7 C1042.9 914.1 1048.2 909.3 1051.5 906.4 C1054.8 903.5 1059.2 899.5 1060.8 898.1" fill="none" stroke="#1f77b4" stroke-width="2.70" stroke-linejoin="round" stroke-linecap="butt" clip-path="url(#cD)"/>
<path d="M1041.2 923.9 C1042.9 924.4 1048.2 926.2 1051.5 927.0 C1054.8 927.9 1059.2 928.7 1060.8 929.1" fill="none" stroke="#1f77b4" stroke-width="2.70" stroke-linejoin="round" stroke-linecap="butt" clip-path="url(#cD)"/>
<path d="M1041.2 933.2 C1042.9 932.7 1048.2 930.8 1051.5 930.1 C1054.8 929.4 1059.2 929.2 1060.8 929.1" fill="none" stroke="#1f77b4" stroke-width="2.70" stroke-linejoin="round" stroke-linecap="butt" clip-path="url(#cD)"/>
<path d="M463.0 9.5 C463.2 11.3 463.8 15.8 464.0 20.1 C464.3 24.4 464.5 31.0 464.5 35.2 C464.5 39.4 464.2 41.9 464.0 45.3 C463.9 48.6 463.5 52.0 463.5 55.4 C463.5 58.7 464.0 62.1 464.0 65.4 C464.1 68.8 463.9 72.1 463.8 75.5 C463.8 78.9 463.6 82.2 463.5 85.6 C463.5 88.9 463.5 91.6 463.5 95.6 C463.5 99.7 463.5 104.3 463.5 110.1 C463.6 115.8 463.7 123.5 463.8 130.2 C464.0 136.9 464.2 143.6 464.2 150.4 C464.2 157.1 464.0 163.8 463.8 170.5 C463.7 177.2 463.6 185.7 463.5 190.6 C463.4 195.6 463.5 196.8 463.2 200.1 C462.9 203.4 462.1 201.8 461.8 210.5 C461.5 219.2 461.6 241.0 461.5 252.3 C461.5 263.7 461.5 274.1 461.5 278.5" fill="none" stroke="#2ca02c" stroke-width="2.60" stroke-linejoin="round" stroke-linecap="butt" clip-path="url(#cA)"/>
<path d="M463.5 9.5 C464.0 11.0 465.3 15.7 466.1 18.1 C466.8 20.5 467.9 22.3 468.1 24.1 C468.2 26.0 467.6 27.7 467.1 29.2 C466.6 30.7 464.9 31.7 465.0 33.2 C465.2 34.7 466.9 36.6 468.1 38.2 C469.2 39.9 471.9 41.8 472.1 43.3 C472.3 44.8 470.0 46.0 469.1 47.3 C468.2 48.6 466.8 49.8 466.6 51.3 C466.3 52.8 467.1 54.8 467.6 56.4 C468.0 57.9 469.3 59.0 469.1 60.4 C468.8 61.7 466.9 63.1 466.1 64.4 C465.2 65.8 464.2 66.9 464.0 68.4 C463.9 70.0 464.4 72.0 465.0 73.5 C465.7 75.0 467.1 75.7 468.1 77.5 C469.1 79.4 470.9 82.7 471.1 84.6 C471.3 86.4 469.9 87.2 469.1 88.6 C468.2 89.9 466.9 91.3 466.1 92.6 C465.2 94.0 464.2 94.7 464.0 96.6 C463.9 98.5 465.1 101.8 465.0 104.0 C465.0 106.3 463.5 107.9 463.5 110.1 C463.6 112.3 464.9 115.1 465.6 117.1 C466.2 119.1 467.5 120.3 467.6 122.2 C467.7 124.0 466.5 126.2 466.1 128.2 C465.6 130.2 465.0 131.9 465.0 134.2 C465.0 136.6 465.6 139.9 466.1 142.3 C466.5 144.6 467.2 146.5 467.6 148.3 C467.9 150.2 467.7 151.7 468.1 153.4 C468.5 155.1 469.7 157.1 470.1 158.4 C470.5 159.8 471.3 160.3 470.6 161.4 C469.9 162.6 467.1 164.3 466.1 165.5 C465.0 166.6 464.0 167.0 464.0 168.5 C464.1 170.0 466.0 172.7 466.6 174.5 C467.1 176.4 467.5 178.6 467.6 179.6 C467.7 180.5 467.0 179.1 467.1 180.0 C467.2 180.9 467.9 183.5 467.9 184.8 C467.9 186.2 467.8 186.9 467.1 188.1 C466.4 189.3 464.6 190.8 463.9 192.1 C463.1 193.4 462.7 194.1 462.6 196.1 C462.5 198.1 462.9 201.5 463.1 204.2 C463.3 206.9 463.6 209.8 463.9 212.2 C464.2 214.6 464.6 216.4 464.7 218.6 C464.8 220.8 465.0 222.9 464.7 225.1 C464.4 227.2 463.5 229.6 463.1 231.5 C462.7 233.4 462.4 225.0 462.2 236.4 C461.9 247.8 461.7 289.4 461.6 300.0" fill="none" stroke="#1f77b4" stroke-width="2.60" stroke-linejoin="round" stroke-linecap="butt" clip-path="url(#cA)"/>
<path d="M463.5 9.5 C463.7 10.8 464.3 14.5 464.5 17.1 C464.8 19.7 464.8 22.8 465.0 25.1 C465.3 27.5 465.4 29.2 466.1 31.2 C466.7 33.2 468.2 35.4 469.1 37.2 C469.9 39.1 471.1 40.9 471.1 42.3 C471.1 43.6 470.0 44.1 469.1 45.3 C468.2 46.5 466.2 47.6 465.6 49.3 C464.9 51.0 464.9 53.5 465.0 55.4 C465.2 57.2 466.6 58.7 466.6 60.4 C466.6 62.1 465.6 63.7 465.0 65.4 C464.5 67.1 463.7 68.8 463.5 70.5 C463.4 72.1 463.5 73.8 464.0 75.5 C464.5 77.2 465.7 79.0 466.6 80.5 C467.4 82.0 469.0 83.2 469.1 84.6 C469.2 85.9 467.7 87.2 467.1 88.6 C466.4 89.9 465.0 91.1 465.0 92.6 C465.0 94.1 466.5 96.4 467.1 97.6 C467.7 98.9 468.3 98.9 468.6 100.0 C468.8 101.1 469.2 102.5 468.6 104.0 C468.0 105.5 465.8 107.2 465.0 109.1 C464.3 110.9 463.5 113.3 464.0 115.1 C464.5 117.0 466.2 118.5 468.1 120.1 C469.9 121.8 473.4 123.5 475.1 125.2 C476.8 126.9 478.1 128.7 478.1 130.2 C478.1 131.7 476.5 132.9 475.1 134.2 C473.8 135.6 471.3 136.9 470.1 138.3 C468.9 139.6 468.2 140.6 468.1 142.3 C467.9 144.0 469.1 146.5 469.1 148.3 C469.1 150.2 467.6 151.9 468.1 153.4 C468.6 154.9 470.6 156.2 472.1 157.4 C473.6 158.6 477.0 159.2 477.1 160.4 C477.3 161.6 475.0 163.1 473.1 164.5 C471.3 165.8 467.5 167.1 466.1 168.5 C464.6 169.8 464.0 171.2 464.5 172.5 C465.0 173.9 467.9 175.3 469.1 176.5 C470.3 177.8 471.0 178.5 471.9 180.0 C472.8 181.5 474.4 184.0 474.3 185.6 C474.2 187.2 472.7 188.3 471.1 189.7 C469.5 191.0 465.9 192.2 464.7 193.7 C463.5 195.2 463.6 196.8 463.9 198.5 C464.2 200.2 465.6 202.3 466.3 204.2 C467.0 206.1 468.0 208.2 467.9 209.8 C467.8 211.4 465.8 212.3 465.5 213.8 C465.2 215.3 465.4 217.0 466.3 218.6 C467.2 220.2 470.8 222.0 471.1 223.5 C471.4 225.0 469.1 226.0 467.9 227.5 C466.7 229.0 464.8 230.2 463.9 232.3 C463.0 234.5 462.9 237.0 462.6 240.4 C462.3 243.8 462.4 242.6 462.2 252.5 C462.0 262.4 461.7 292.1 461.6 300.0" fill="none" stroke="#ff7f0e" stroke-width="2.60" stroke-linejoin="round" stroke-linecap="butt" clip-path="url(#cA)"/>
<path d="M463.0 9.5 C463.5 10.3 464.7 12.6 466.1 14.1 C467.4 15.5 469.8 16.7 471.1 18.1 C472.4 19.4 473.3 20.9 473.6 22.1 C473.9 23.3 473.6 24.0 473.1 25.1 C472.6 26.3 470.6 28.0 470.6 29.2 C470.6 30.3 471.3 31.0 473.1 32.2 C474.9 33.4 478.9 34.9 481.2 36.2 C483.4 37.6 486.0 39.0 486.7 40.2 C487.4 41.5 486.6 42.8 485.2 43.8 C483.8 44.8 480.7 45.4 478.1 46.3 C475.6 47.2 471.6 48.1 470.1 49.3 C468.6 50.5 468.6 52.1 469.1 53.3 C469.6 54.6 471.3 55.9 473.1 56.9 C475.0 57.9 478.8 58.6 480.2 59.4 C481.5 60.1 482.0 60.6 481.2 61.4 C480.3 62.2 477.3 63.6 475.1 64.4 C472.9 65.3 470.0 65.6 468.1 66.4 C466.1 67.3 464.0 68.3 463.5 69.5 C463.0 70.6 464.1 72.1 465.0 73.5 C466.0 74.8 467.7 76.2 469.1 77.5 C470.4 78.9 471.3 80.3 473.1 81.5 C475.0 82.8 479.7 84.1 480.2 85.1 C480.7 86.1 478.1 86.7 476.1 87.6 C474.1 88.5 469.7 89.6 468.1 90.6 C466.4 91.6 465.6 92.6 466.1 93.6 C466.6 94.6 469.4 95.6 471.1 96.6 C472.8 97.6 475.3 98.3 476.1 99.7 C477.0 101.1 477.1 103.3 476.1 105.0 C475.1 106.8 472.1 108.6 470.1 110.1 C468.1 111.6 464.4 112.8 464.0 114.1 C463.7 115.4 465.7 117.1 468.1 118.1 C470.4 119.1 475.1 119.3 478.1 120.1 C481.2 121.0 485.2 121.8 486.2 123.2 C487.2 124.5 484.9 126.9 484.2 128.2 C483.5 129.5 481.5 130.2 482.2 131.2 C482.8 132.2 486.4 133.1 488.2 134.2 C490.1 135.4 493.2 137.1 493.2 138.3 C493.2 139.4 489.4 140.3 488.2 141.3 C487.0 142.3 485.9 143.1 486.2 144.3 C486.5 145.5 489.7 147.2 490.2 148.3 C490.7 149.5 490.7 150.2 489.2 151.4 C487.7 152.5 482.2 154.3 481.2 155.4 C480.2 156.5 481.5 157.1 483.2 157.9 C484.9 158.7 489.7 159.7 491.2 160.4 C492.7 161.2 493.6 161.4 492.2 162.4 C490.9 163.4 486.7 165.0 483.2 166.5 C479.7 168.0 473.3 170.2 471.1 171.5 C468.9 172.8 468.9 173.5 470.1 174.5 C471.3 175.5 476.2 176.6 478.1 177.5 C480.1 178.5 480.5 179.1 481.6 180.0 C482.7 180.9 483.3 182.0 484.8 183.2 C486.3 184.4 490.0 186.1 490.4 187.2 C490.8 188.3 489.1 188.9 487.2 189.7 C485.3 190.5 481.9 191.0 479.2 192.1 C476.5 193.2 473.0 194.6 471.1 196.1 C469.2 197.6 468.7 199.3 467.9 200.9 C467.1 202.5 466.8 203.9 466.3 205.8 C465.8 207.7 465.1 209.8 464.7 212.2 C464.3 214.6 464.2 217.6 463.9 220.3 C463.6 223.0 463.3 225.6 463.1 228.3 C462.9 231.0 462.8 233.7 462.6 236.4 C462.5 239.1 462.3 240.5 462.2 244.4 C462.1 248.3 461.9 250.7 461.8 260.0 C461.7 269.3 461.6 293.3 461.6 300.0" fill="none" stroke="#d62728" stroke-width="2.60" stroke-linejoin="round" stroke-linecap="butt" clip-path="url(#cA)"/>
<path d="M480.2 9.5 C480.1 11.0 479.1 15.5 479.7 18.1 C480.2 20.7 480.9 23.1 483.2 25.1 C485.4 27.2 490.1 28.7 493.2 30.2 C496.4 31.7 500.6 32.9 502.3 34.2 C504.0 35.5 504.3 36.7 503.3 38.2 C502.3 39.7 498.8 41.6 496.3 43.3 C493.8 44.9 490.9 46.6 488.2 48.3 C485.5 50.0 482.3 51.7 480.2 53.3 C478.1 55.0 476.5 56.7 475.6 58.4 C474.8 60.1 475.0 61.4 475.1 63.4 C475.3 65.4 476.3 68.1 476.6 70.5 C477.0 72.8 476.9 75.0 477.1 77.5 C477.4 80.0 476.8 83.4 478.1 85.6 C479.5 87.7 483.2 89.1 485.2 90.6 C487.2 92.1 489.2 93.1 490.2 94.6 C491.2 96.1 491.2 98.3 491.2 99.7 C491.2 101.1 490.6 102.0 490.2 103.0 C489.9 104.1 489.6 104.4 489.2 106.0 C488.9 107.7 487.9 110.7 488.2 113.1 C488.5 115.4 489.6 118.0 491.2 120.1 C492.9 122.3 495.8 124.3 498.3 126.2 C500.8 128.0 504.8 129.7 506.3 131.2 C507.8 132.7 507.8 133.9 507.3 135.2 C506.8 136.6 504.3 137.8 503.3 139.3 C502.3 140.8 502.0 142.6 501.3 144.3 C500.6 146.0 500.0 147.5 499.3 149.3 C498.6 151.2 497.3 153.5 497.3 155.4 C497.3 157.2 499.1 158.6 499.3 160.4 C499.5 162.3 498.3 164.6 498.3 166.5 C498.3 168.3 498.6 169.8 499.3 171.5 C500.0 173.2 501.6 175.2 502.3 176.5 C503.0 177.9 503.2 179.0 503.3 179.6 C503.5 180.1 504.2 179.4 503.3 180.0 C502.4 180.6 499.4 182.0 497.7 183.2 C495.9 184.4 493.8 186.0 492.8 187.2 C491.9 188.4 492.7 189.3 492.0 190.5 C491.3 191.7 490.5 193.3 488.8 194.5 C487.1 195.7 483.8 196.6 481.6 197.7 C479.5 198.8 477.5 199.6 475.9 200.9 C474.3 202.2 472.8 203.9 471.9 205.8 C471.0 207.7 470.8 209.8 470.3 212.2 C469.8 214.6 469.4 217.6 468.7 220.3 C468.0 223.0 467.1 225.6 466.3 228.3 C465.5 231.0 464.5 233.7 463.9 236.4 C463.3 239.1 462.9 241.7 462.6 244.4 C462.3 247.1 462.3 243.2 462.1 252.5 C461.9 261.8 461.7 292.1 461.6 300.0" fill="none" stroke="#000" stroke-width="2.60" stroke-linejoin="round" stroke-linecap="butt" clip-path="url(#cA)"/>
<path d="M461.5 341.3 C462.0 342.2 461.3 344.6 464.2 346.5 C467.0 348.5 475.1 351.3 478.5 353.1 C482.0 354.8 485.5 355.5 485.1 357.0 C484.7 358.5 478.3 360.5 475.9 362.2 C473.5 364.0 470.0 365.7 470.7 367.5 C471.4 369.2 479.9 370.5 479.9 372.7 C479.9 374.9 472.7 377.9 470.7 380.5 C468.7 383.2 468.1 385.3 468.1 388.4 C468.1 391.4 469.4 395.8 470.7 398.8 C472.0 401.9 476.4 404.1 475.9 406.7 C475.5 409.3 468.5 411.9 468.1 414.5 C467.6 417.2 471.1 420.7 473.3 422.4 C475.5 424.1 481.6 423.7 481.2 425.0 C480.7 426.3 473.3 428.1 470.7 430.2 C468.1 432.4 465.5 435.5 465.5 438.1 C465.5 440.7 467.2 443.1 470.7 445.9 C474.2 448.8 483.8 453.6 486.4 455.1" fill="none" stroke="#1f77b4" stroke-width="2.40" stroke-linejoin="round" stroke-linecap="butt" clip-path="url(#cA)"/>
<path d="M465.5 210.5 C466.3 212.6 470.9 219.6 470.7 223.5 C470.5 227.5 465.7 229.2 464.2 234.0 C462.6 238.8 462.0 234.4 461.5 252.3 C461.1 270.2 461.1 325.6 461.5 341.3 C462.0 357.0 462.2 344.8 464.2 346.5 C466.1 348.3 470.9 350.0 473.3 351.8 C475.7 353.5 478.5 354.8 478.5 357.0 C478.5 359.2 471.6 362.9 473.3 364.8 C475.1 366.8 482.0 367.2 489.0 368.8 C496.0 370.3 512.6 372.0 515.2 374.0 C517.8 376.0 504.3 379.0 504.7 380.5 C505.1 382.1 510.2 382.1 517.8 383.2 C525.4 384.2 548.8 385.8 550.5 387.1 C552.2 388.4 531.1 388.6 528.3 391.0 C525.4 393.4 536.1 398.8 533.5 401.5 C530.9 404.1 520.4 405.0 512.6 406.7 C504.7 408.4 492.9 410.2 486.4 411.9 C479.9 413.7 474.2 415.4 473.3 417.2 C472.4 418.9 479.4 421.1 481.2 422.4 C482.9 423.7 485.1 423.7 483.8 425.0 C482.5 426.3 476.4 428.1 473.3 430.2 C470.3 432.4 467.2 433.7 465.5 438.1 C463.7 442.5 463.3 453.4 462.8 456.4" fill="none" stroke="#ff7f0e" stroke-width="2.40" stroke-linejoin="round" stroke-linecap="butt" clip-path="url(#cA)"/>
<path d="M461.5 341.3 C462.0 342.6 461.8 347.0 464.2 349.1 C466.6 351.3 474.8 352.2 475.9 354.4 C477.0 356.5 470.9 359.2 470.7 362.2 C470.5 365.3 474.8 369.6 474.6 372.7 C474.4 375.7 470.0 377.9 469.4 380.5 C468.7 383.2 469.2 385.3 470.7 388.4 C472.2 391.4 476.8 396.2 478.5 398.8 C480.3 401.5 482.5 402.3 481.2 404.1 C479.9 405.8 473.3 407.6 470.7 409.3 C468.1 411.1 465.2 412.4 465.5 414.5 C465.7 416.7 470.5 420.2 472.0 422.4 C473.5 424.6 475.1 425.9 474.6 427.6 C474.2 429.4 470.9 430.7 469.4 432.9 C467.9 435.0 465.7 438.1 465.5 440.7 C465.2 443.3 466.3 445.9 468.1 448.6 C469.8 451.2 474.6 455.1 475.9 456.4" fill="none" stroke="#d62728" stroke-width="2.40" stroke-linejoin="round" stroke-linecap="butt" clip-path="url(#cA)"/>
<path d="M481.2 200.0 C479.9 200.9 475.5 202.6 473.3 205.2 C471.1 207.8 469.4 212.2 468.1 215.7 C466.8 219.2 466.3 222.2 465.5 226.2 C464.6 230.1 463.5 234.9 462.8 239.2 C462.2 243.6 461.8 236.6 461.5 252.3 C461.3 268.0 461.3 319.0 461.5 333.4 C461.8 347.8 461.3 336.9 462.8 338.7 C464.4 340.4 466.8 342.2 470.7 343.9 C474.6 345.6 481.2 347.2 486.4 349.1 C491.6 351.1 498.6 353.5 502.1 355.7 C505.6 357.9 505.6 360.3 507.3 362.2 C509.1 364.2 508.2 365.7 512.6 367.5 C516.9 369.2 529.6 370.5 533.5 372.7 C537.4 374.9 532.6 378.8 536.1 380.5 C539.6 382.3 547.0 381.9 554.4 383.2 C561.8 384.4 580.6 386.6 580.6 387.9 C580.6 389.2 561.4 389.8 554.4 391.0 C547.4 392.2 538.7 393.2 538.7 394.9 C538.7 396.7 552.7 399.5 554.4 401.5 C556.2 403.4 554.9 405.4 549.2 406.7 C543.5 408.0 528.7 408.0 520.4 409.3 C512.1 410.6 504.3 412.8 499.5 414.5 C494.7 416.3 493.6 417.6 491.6 419.8 C489.7 422.0 488.1 425.0 487.7 427.6 C487.3 430.2 488.4 432.9 489.0 435.5 C489.7 438.1 491.8 440.7 491.6 443.3 C491.4 445.9 488.6 449.0 487.7 451.2 C486.8 453.4 486.6 455.5 486.4 456.4" fill="none" stroke="#000" stroke-width="2.40" stroke-linejoin="round" stroke-linecap="butt" clip-path="url(#cA)"/>
<path d="M459.3 508.6 C459.4 520.1 459.6 553.9 459.6 577.4 C459.6 600.9 459.4 621.9 459.3 649.8 C459.3 677.7 459.3 729.0 459.3 744.9" fill="none" stroke="#2ca02c" stroke-width="2.60" stroke-linejoin="round" stroke-linecap="butt" clip-path="url(#cB)"/>
<path d="M465.9 508.6 C465.7 510.4 464.7 516.1 464.7 519.5 C464.7 522.9 465.7 525.5 465.9 529.1 C466.1 532.8 465.7 537.2 465.9 541.2 C466.0 545.2 466.4 549.2 466.6 553.3 C466.8 557.3 466.8 562.1 467.1 565.3 C467.3 568.5 468.5 570.6 468.3 572.6 C468.1 574.6 466.5 575.0 465.9 577.4 C465.3 579.8 464.9 583.0 464.7 587.0 C464.4 591.1 464.1 597.1 464.2 601.5 C464.3 605.9 465.1 609.6 465.1 613.6 C465.2 617.6 464.5 621.6 464.7 625.7 C464.8 629.7 465.9 633.7 465.9 637.7 C465.9 641.7 464.7 645.8 464.7 649.8 C464.7 653.8 465.8 657.8 465.9 661.9 C465.9 665.9 465.5 670.3 465.1 673.9 C464.7 677.5 463.9 679.5 463.4 683.6 C463.0 687.6 462.5 693.6 462.2 698.1 C462.0 702.5 462.1 704.1 461.8 710.1 C461.4 716.1 460.6 728.5 460.3 734.2 C460.0 740.0 459.9 743.1 459.8 744.9" fill="none" stroke="#1f77b4" stroke-width="2.60" stroke-linejoin="round" stroke-linecap="butt" clip-path="url(#cB)"/>
<path d="M463.4 508.6 C463.2 510.4 462.2 515.3 462.2 519.5 C462.2 523.7 463.0 529.1 463.4 534.0 C463.8 538.8 464.3 544.0 464.7 548.4 C465.1 552.9 465.5 556.9 465.9 560.5 C466.3 564.1 467.3 567.3 467.1 570.2 C466.8 573.0 464.6 574.6 464.2 577.4 C463.8 580.2 463.8 583.0 464.7 587.0 C465.5 591.1 467.9 596.3 469.5 601.5 C471.1 606.8 473.9 614.0 474.3 618.4 C474.7 622.8 472.7 624.9 471.9 628.1 C471.1 631.3 470.1 634.1 469.5 637.7 C468.9 641.3 468.5 645.8 468.3 649.8 C468.1 653.8 468.5 657.8 468.3 661.9 C468.1 665.9 467.7 670.3 467.1 673.9 C466.5 677.5 465.3 679.5 464.7 683.6 C464.0 687.6 463.8 693.2 463.4 698.1 C463.0 702.9 462.6 707.7 462.2 712.5 C461.8 717.4 461.4 721.6 461.0 727.0 C460.6 732.4 460.0 741.9 459.8 744.9" fill="none" stroke="#ff7f0e" stroke-width="2.60" stroke-linejoin="round" stroke-linecap="butt" clip-path="url(#cB)"/>
<path d="M474.8 508.6 C473.9 510.0 470.8 514.0 469.5 517.1 C468.2 520.1 467.5 523.5 467.1 526.7 C466.6 529.9 466.6 532.8 466.6 536.4 C466.6 540.0 466.8 544.8 467.1 548.4 C467.3 552.1 467.3 554.9 468.3 558.1 C469.3 561.3 471.9 564.9 473.1 567.7 C474.3 570.6 474.9 572.2 475.5 575.0 C476.1 577.8 476.1 581.0 476.7 584.6 C477.3 588.3 478.3 593.1 479.1 596.7 C479.9 600.3 480.7 602.7 481.5 606.4 C482.3 610.0 483.6 614.4 484.0 618.4 C484.4 622.4 484.2 626.5 484.0 630.5 C483.8 634.5 482.8 638.5 482.8 642.5 C482.8 646.6 483.6 650.2 484.0 654.6 C484.4 659.0 485.6 665.9 485.2 669.1 C484.8 672.3 483.0 672.7 481.5 673.9 C480.1 675.1 477.7 674.7 476.7 676.3 C475.7 677.9 475.3 681.2 475.5 683.6 C475.7 686.0 477.3 688.8 477.9 690.8 C478.5 692.8 480.1 694.0 479.1 695.6 C478.1 697.2 474.3 698.9 471.9 700.5 C469.5 702.1 466.5 703.7 464.7 705.3 C462.8 706.9 461.9 707.3 461.0 710.1 C460.1 712.9 459.6 720.2 459.3 722.2" fill="none" stroke="#d62728" stroke-width="2.60" stroke-linejoin="round" stroke-linecap="butt" clip-path="url(#cB)"/>
<path d="M499.6 508.6 C498.2 509.6 493.8 512.4 491.2 514.7 C488.6 516.9 486.2 519.7 484.0 521.9 C481.7 524.1 478.7 525.5 477.9 527.9 C477.1 530.3 479.1 533.8 479.1 536.4 C479.1 539.0 477.5 541.2 477.9 543.6 C478.3 546.0 481.1 548.4 481.5 550.8 C481.9 553.3 479.5 556.1 480.3 558.1 C481.1 560.1 484.2 561.3 486.4 562.9 C488.6 564.5 491.6 566.1 493.6 567.7 C495.6 569.4 498.8 571.0 498.4 572.6 C498.0 574.2 492.8 575.8 491.2 577.4 C489.6 579.0 489.4 580.2 488.8 582.2 C488.2 584.2 487.2 586.6 487.6 589.5 C488.0 592.3 489.4 596.3 491.2 599.1 C493.0 601.9 496.4 604.3 498.4 606.4 C500.4 608.4 501.3 609.2 503.3 611.2 C505.3 613.2 509.7 616.0 510.5 618.4 C511.3 620.8 509.3 623.2 508.1 625.7 C506.9 628.1 503.9 630.5 503.3 632.9 C502.7 635.3 505.1 637.7 504.5 640.1 C503.9 642.5 499.6 645.0 499.6 647.4 C499.6 649.8 503.9 652.2 504.5 654.6 C505.1 657.0 502.3 659.4 503.3 661.9 C504.3 664.3 510.5 667.1 510.5 669.1 C510.5 671.1 506.1 672.5 503.3 673.9 C500.4 675.3 495.6 675.9 493.6 677.5 C491.6 679.1 492.0 681.6 491.2 683.6 C490.4 685.6 488.2 687.6 488.8 689.6 C489.4 691.6 494.8 693.8 494.8 695.6 C494.8 697.4 491.4 698.9 488.8 700.5 C486.2 702.1 481.9 703.7 479.1 705.3 C476.3 706.9 473.9 708.5 471.9 710.1 C469.9 711.7 468.3 712.9 467.1 714.9 C465.9 717.0 465.5 719.0 464.7 722.2 C463.8 725.4 462.8 730.5 462.2 734.2 C461.6 738.0 461.2 743.1 461.0 744.9" fill="none" stroke="#000" stroke-width="2.60" stroke-linejoin="round" stroke-linecap="butt" clip-path="url(#cB)"/>
<path d="M459.0 816.3 C459.4 818.4 460.1 824.6 461.6 828.5 C463.2 832.4 466.2 836.3 468.3 839.6 C470.3 842.9 473.1 845.5 473.8 848.4 C474.5 851.4 473.3 854.3 472.7 857.3 C472.1 860.2 470.5 863.2 470.5 866.1 C470.5 869.1 471.4 872.4 472.7 875.0 C474.0 877.6 477.9 879.4 478.2 881.6 C478.6 883.8 476.6 886.4 474.9 888.3 C473.3 890.1 469.9 890.8 468.3 892.7 C466.6 894.5 465.3 896.4 465.0 899.3 C464.6 902.3 465.5 906.7 466.1 910.4 C466.6 914.1 467.5 918.1 468.3 921.5 C469.0 924.8 469.4 927.7 470.5 930.3 C471.6 932.9 473.3 934.7 474.9 936.9 C476.6 939.2 479.3 941.9 480.4 943.6 C481.6 945.2 482.5 945.8 481.6 946.9 C480.6 948.0 477.1 948.6 474.9 950.2 C472.7 951.9 469.4 955.8 468.3 956.9" fill="none" stroke="#1f77b4" stroke-width="2.60" stroke-linejoin="round" stroke-linecap="butt" clip-path="url(#cB)"/>
<path d="M459.0 816.3 C459.2 818.4 459.4 824.6 460.5 828.5 C461.7 832.4 464.2 836.3 466.1 839.6 C467.9 842.9 470.9 845.5 471.6 848.4 C472.3 851.4 471.0 854.3 470.5 857.3 C469.9 860.2 468.5 863.2 468.3 866.1 C468.1 869.1 468.8 872.4 469.4 875.0 C469.9 877.6 471.4 879.4 471.6 881.6 C471.8 883.8 471.6 886.4 470.5 888.3 C469.4 890.1 465.5 890.8 465.0 892.7 C464.4 894.5 466.2 896.7 467.2 899.3 C468.1 901.9 469.6 905.2 470.5 908.2 C471.4 911.1 472.1 914.1 472.7 917.0 C473.3 920.0 473.3 922.9 473.8 925.9 C474.4 928.8 475.1 931.8 476.0 934.7 C476.9 937.7 479.5 941.4 479.3 943.6 C479.2 945.8 476.4 946.7 474.9 948.0 C473.4 949.3 471.6 949.9 470.5 951.3 C469.4 952.8 468.6 955.9 468.3 956.9" fill="none" stroke="#d62728" stroke-width="2.60" stroke-linejoin="round" stroke-linecap="butt" clip-path="url(#cB)"/>
<path d="M459.0 816.3 C459.2 818.0 459.4 822.8 460.5 826.3 C461.7 829.8 464.2 834.0 466.1 837.4 C467.9 840.7 470.5 843.3 471.6 846.2 C472.7 849.2 472.9 852.1 472.7 855.1 C472.5 858.0 470.5 861.0 470.5 863.9 C470.5 866.9 470.1 870.2 472.7 872.8 C475.3 875.4 481.9 877.9 486.0 879.4 C490.0 880.9 494.8 880.5 497.0 881.6 C499.3 882.7 500.2 884.6 499.3 886.1 C498.3 887.5 492.3 889.0 491.5 890.5 C490.8 892.0 489.9 893.6 494.8 894.9 C499.8 896.2 511.8 896.9 521.4 898.2 C531.0 899.5 546.8 901.5 552.4 902.6 C557.9 903.8 556.1 903.8 554.6 904.9 C553.1 906.0 548.3 907.6 543.5 909.3 C538.7 910.9 530.2 912.8 525.8 914.8 C521.4 916.8 519.5 918.9 517.0 921.5 C514.4 924.0 512.4 927.9 510.3 930.3 C508.3 932.7 504.8 934.2 504.8 935.8 C504.8 937.5 509.0 939.2 510.3 940.3 C511.6 941.4 514.4 941.7 512.5 942.5 C510.7 943.2 504.1 944.0 499.3 944.7 C494.5 945.4 487.8 946.0 483.8 946.9 C479.7 947.8 477.1 948.6 474.9 950.2 C472.7 951.9 471.2 955.8 470.5 956.9" fill="none" stroke="#ff7f0e" stroke-width="2.60" stroke-linejoin="round" stroke-linecap="butt" clip-path="url(#cB)"/>
<path d="M461.0 741.1 C460.8 741.7 460.2 741.7 459.9 744.4 C459.6 747.2 459.4 754.0 459.2 757.7 C459.1 761.4 459.0 757.0 459.0 766.6 C458.9 776.1 458.7 806.0 459.0 815.2 C459.2 824.5 459.0 819.3 460.5 821.9 C462.1 824.5 464.8 828.1 468.3 830.7 C471.8 833.3 477.5 835.5 481.6 837.4 C485.6 839.2 489.5 839.9 492.6 841.8 C495.8 843.6 498.9 846.6 500.4 848.4 C501.8 850.3 502.4 850.6 501.5 852.9 C500.5 855.1 496.1 859.1 494.8 861.7 C493.5 864.3 493.0 866.5 493.7 868.3 C494.5 870.2 496.1 871.3 499.3 872.8 C502.4 874.2 507.7 875.9 512.5 877.2 C517.3 878.5 524.7 879.4 528.0 880.5 C531.3 881.6 533.6 882.5 532.5 883.8 C531.3 885.1 525.1 886.8 521.4 888.3 C517.7 889.7 510.3 891.4 510.3 892.7 C510.3 894.0 514.0 894.9 521.4 896.0 C528.8 897.1 545.4 898.0 554.6 899.3 C563.8 900.7 576.7 902.7 576.7 904.2 C576.7 905.7 560.1 906.4 554.6 908.2 C549.0 909.9 545.7 912.6 543.5 914.8 C541.3 917.0 542.4 919.2 541.3 921.5 C540.2 923.7 537.2 925.9 536.9 928.1 C536.5 930.3 536.5 932.5 539.1 934.7 C541.7 936.9 551.6 939.5 552.4 941.4 C553.1 943.2 548.7 944.5 543.5 945.8 C538.4 947.1 527.7 948.0 521.4 949.1 C515.1 950.2 509.6 951.1 505.9 952.4 C502.2 953.7 500.4 956.1 499.3 956.9" fill="none" stroke="#000" stroke-width="2.60" stroke-linejoin="round" stroke-linecap="butt" clip-path="url(#cB)"/>
<path d="M1075.5 28.0 L1076.3 40.1 L1077.5 49.2 L1080.1 52.2 L1085.1 53.8 L1093.2 55.8 L1080.1 56.6 L1078.7 59.2 L1085.1 60.2 L1081.1 62.2 L1102.2 63.8 L1082.1 64.7 L1080.1 66.7 L1107.2 70.3 L1083.1 71.5 L1082.1 73.3 L1097.2 74.3 L1081.1 75.7 L1085.1 78.3 L1095.2 80.3 L1084.1 81.3 L1083.1 84.4 L1085.1 88.4 L1083.1 92.4 L1084.1 100.5 L1082.7 108.5 L1078.1 110.9 L1076.1 114.5 L1075.5 128.6 L1076.7 133.6 L1080.1 137.7 L1116.3 140.1 L1084.1 141.3 L1085.1 145.7 L1087.1 148.7 L1084.1 150.7 L1085.1 154.8 L1089.1 158.8 L1099.2 160.8 L1085.1 161.8 L1083.1 164.8 L1084.1 170.8 L1083.1 176.9 L1085.1 180.9 L1083.1 182.9 L1078.1 186.9 L1076.7 193.0 L1076.1 201.0 L1075.7 219.9" fill="none" stroke="#1f77b4" stroke-width="2.20" stroke-linejoin="round" stroke-linecap="butt" clip-path="url(#cC)"/>
<path d="M1075.6 210.0 L1075.6 270.3 L1076.3 271.6 L1115.3 274.1 L1180.6 274.8 L1115.3 275.8 L1080.1 277.4 L1078.8 285.4 L1081.3 292.9 L1102.7 294.2 L1085.1 294.9 L1080.1 298.0 L1077.6 305.5 L1078.8 310.5 L1083.8 313.0 L1082.6 320.6 L1080.1 328.1 L1078.8 335.7 L1080.1 340.7 L1083.8 341.9 L1078.8 345.7 L1077.6 350.7 L1078.8 355.8 L1076.3 360.8 L1075.6 459.8" fill="none" stroke="#1f77b4" stroke-width="2.20" stroke-linejoin="round" stroke-linecap="butt" clip-path="url(#cC)"/>
<path d="M1075.6 385.9 L1075.6 389.7 L1080.1 390.9 L1106.5 391.5 L1080.1 393.5 L1092.6 397.2 L1080.1 399.0 L1106.5 401.0 L1080.1 402.3 L1076.3 406.0 L1075.6 459.8" fill="none" stroke="#d62728" stroke-width="2.20" stroke-linejoin="round" stroke-linecap="butt" clip-path="url(#cC)"/>
<path d="M1075.6 385.9 L1075.6 390.9 L1080.1 393.5 L1082.6 396.0 L1078.8 397.2 L1076.3 401.0 L1077.6 411.1 L1087.6 416.1 L1080.1 418.6 L1077.6 421.1 L1085.1 424.9 L1077.6 426.1 L1080.1 428.6 L1082.6 431.2 L1080.1 436.2 L1078.8 446.2 L1076.3 459.8" fill="none" stroke="#ff7f0e" stroke-width="2.20" stroke-linejoin="round" stroke-linecap="butt" clip-path="url(#cC)"/>
<path d="M1075.6 335.7 L1075.6 340.7 L1077.6 344.5 L1085.1 347.0 L1115.3 348.2 L1200.7 349.5 L1115.3 350.2 L1080.1 351.2 L1076.3 354.5 L1075.6 385.9 L1076.1 393.5 L1075.6 459.8" fill="none" stroke="#2ca02c" stroke-width="2.40" stroke-linejoin="round" stroke-linecap="butt" clip-path="url(#cC)"/>
<path d="M1283.5 27.6 C1283.5 31.4 1283.7 43.1 1283.5 50.2 C1283.3 57.3 1283.0 63.6 1282.5 70.3 C1282.0 77.0 1281.1 83.7 1280.5 90.4 C1279.9 97.1 1279.3 103.8 1279.0 110.5 C1278.7 117.2 1279.1 123.9 1278.8 130.6 C1278.5 137.3 1278.1 145.7 1277.4 150.7 C1276.7 155.7 1275.4 157.1 1274.4 160.8 C1273.4 164.5 1272.6 168.9 1271.4 172.9 C1270.2 176.9 1268.2 180.4 1267.4 184.9 C1266.6 189.4 1266.5 191.6 1266.4 200.0 C1266.3 208.4 1266.7 223.0 1266.6 235.1 C1266.5 247.2 1266.4 264.4 1265.8 272.8 C1265.2 281.2 1263.7 281.2 1262.8 285.4 C1261.9 289.6 1260.9 291.7 1260.3 298.0 C1259.7 304.3 1259.9 315.2 1259.1 323.1 C1258.3 331.1 1256.3 340.2 1255.3 345.7 C1254.2 351.1 1253.4 348.5 1252.8 355.8 C1252.2 363.1 1252.8 383.0 1251.5 389.7 C1250.2 396.4 1247.3 393.9 1245.2 396.0 C1243.1 398.1 1240.2 399.4 1239.0 402.3 C1237.8 405.2 1239.0 410.9 1237.7 413.6 C1236.4 416.3 1232.9 416.5 1231.4 418.6 C1229.9 420.7 1230.4 424.0 1228.9 426.1 C1227.4 428.2 1225.3 429.3 1222.6 431.2 C1219.9 433.1 1214.9 435.3 1212.6 437.4 C1210.3 439.5 1209.6 440.3 1208.8 443.7 C1208.0 447.1 1207.7 455.2 1207.5 457.5" fill="none" stroke="#ff7f0e" stroke-width="2.70" stroke-linejoin="round" stroke-linecap="butt" clip-path="url(#cC)"/>
<path d="M1208.0 28.0 L1208.4 40.1 L1210.1 48.2 L1216.1 51.8 L1228.2 53.2 L1238.2 53.8 L1228.2 54.6 L1270.4 56.2 L1212.1 57.2 L1208.0 58.2 L1209.1 61.2 L1220.1 63.2 L1257.3 64.2 L1220.1 65.3 L1214.1 67.3 L1220.1 68.3 L1248.3 70.3 L1216.1 71.3 L1240.2 72.7 L1257.3 74.3 L1222.1 75.3 L1218.1 77.3 L1242.2 80.3 L1220.1 81.3 L1222.1 84.4 L1226.1 88.4 L1218.1 91.4 L1216.1 94.4 L1218.1 98.4 L1217.1 104.5 L1216.1 108.5 L1208.0 111.5" fill="none" stroke="#1f77b4" stroke-width="2.20" stroke-linejoin="round" stroke-linecap="butt" clip-path="url(#cC)"/>
<path d="M1208.0 134.6 L1216.1 137.7 L1248.3 140.3 L1224.1 141.7 L1220.1 144.7 L1232.2 147.7 L1223.1 149.7 L1224.1 153.7 L1240.2 157.8 L1260.3 160.8 L1308.6 161.4 L1250.3 162.8 L1236.2 166.8 L1237.2 172.9 L1246.3 176.9 L1256.3 180.9 L1266.4 181.9 L1250.3 182.9 L1232.2 184.9 L1220.1 190.0 L1212.1 197.0 L1208.0 201.0" fill="none" stroke="#1f77b4" stroke-width="2.20" stroke-linejoin="round" stroke-linecap="butt" clip-path="url(#cC)"/>
<path d="M1207.5 271.6 L1225.1 273.3 L1350.8 274.8 L1225.1 275.8 L1212.6 276.6 L1215.1 285.4 L1220.1 290.4 L1252.8 294.2 L1220.1 295.4 L1210.1 299.2 L1208.8 310.5 L1215.1 311.8 L1218.8 315.6 L1216.3 320.6 L1212.6 325.6 L1210.1 330.6 L1211.3 335.7 L1215.1 340.7 L1220.1 345.7 L1250.3 350.0 L1220.1 350.7 L1215.1 355.8 L1208.8 359.5" fill="none" stroke="#1f77b4" stroke-width="2.20" stroke-linejoin="round" stroke-linecap="butt" clip-path="url(#cC)"/>
<path d="M1208.8 388.4 L1225.1 389.9 L1290.5 391.5 L1227.6 393.5 L1237.7 396.0 L1227.6 397.2 L1257.8 401.0 L1220.1 402.3 L1210.1 404.8 L1208.8 408.5 L1215.1 412.3 L1242.7 414.8 L1215.1 417.3 L1210.1 419.9 L1227.6 423.6 L1215.1 425.6 L1227.6 428.6 L1222.6 433.7 L1215.1 438.7 L1210.1 442.5 L1207.5 446.2 L1207.0 457.5" fill="none" stroke="#1f77b4" stroke-width="2.20" stroke-linejoin="round" stroke-linecap="butt" clip-path="url(#cC)"/>
<path d="M1067.9 528.6 L1069.0 537.6 L1070.8 545.5 L1077.6 550.1 L1094.6 553.0 L1077.6 554.6 L1068.6 555.7 L1068.1 569.3 L1069.7 573.8 L1077.6 576.1 L1110.4 577.2 L1073.1 578.3 L1072.0 580.6 L1111.5 581.7 L1075.4 582.9 L1077.6 585.1 L1138.7 587.4 L1077.6 588.5 L1070.8 589.6 L1069.7 591.9 L1075.4 594.2 L1077.6 598.7 L1076.5 605.5 L1077.6 612.3 L1082.1 615.7 L1100.2 619.0 L1134.2 620.9 L1100.2 622.4 L1088.9 624.7 L1088.9 628.1 L1107.0 630.4 L1136.4 632.6 L1100.2 633.8 L1088.9 636.0 L1079.9 639.4 L1078.8 643.9 L1082.1 648.5 L1074.2 650.7 L1069.7 655.2 L1068.6 659.8 L1067.9 739.8" fill="none" stroke="#1f77b4" stroke-width="2.20" stroke-linejoin="round" stroke-linecap="butt" clip-path="url(#cD)"/>
<path d="M1067.9 740.0 L1068.6 773.9 L1073.1 777.3 L1116.1 780.3 L1073.1 781.8 L1077.6 787.5 L1088.9 792.0 L1128.5 794.3 L1077.6 796.5 L1069.7 798.4 L1068.6 807.9 L1068.6 830.5 L1069.7 833.9 L1073.1 835.0 L1072.0 839.5 L1076.5 842.9 L1072.0 844.0 L1069.0 846.3 L1068.6 853.1 L1070.8 856.5 L1088.9 857.6 L1103.6 861.0 L1082.1 862.1 L1073.1 864.4 L1070.8 871.2 L1075.4 878.0 L1076.5 882.5 L1073.1 884.8 L1072.0 889.3 L1082.1 893.8 L1077.6 898.3 L1070.8 900.6 L1069.7 905.1 L1069.0 921.0 L1068.6 943.6 L1067.9 962.8" fill="none" stroke="#1f77b4" stroke-width="2.20" stroke-linejoin="round" stroke-linecap="butt" clip-path="url(#cD)"/>
<path d="M1067.9 529.6 L1067.9 830.5 L1069.7 833.9 L1077.6 835.0 L1084.4 834.5 L1079.9 836.1 L1088.9 837.7 L1122.9 840.7 L1193.0 843.1 L1122.9 844.0 L1075.4 844.0 L1069.0 846.3 L1067.9 875.7 L1069.0 887.0 L1069.9 893.8 L1068.6 898.3 L1067.9 962.8" fill="none" stroke="#2ca02c" stroke-width="2.40" stroke-linejoin="round" stroke-linecap="butt" clip-path="url(#cD)"/>
<path d="M1068.6 875.7 L1069.7 884.8 L1082.1 888.2 L1095.7 891.1 L1079.9 892.7 L1108.2 901.0 L1077.6 901.0 L1070.8 902.9 L1070.8 916.4 L1073.1 925.5 L1075.4 934.5 L1074.2 943.6 L1070.8 950.4 L1068.6 962.8" fill="none" stroke="#d62728" stroke-width="2.40" stroke-linejoin="round" stroke-linecap="butt" clip-path="url(#cD)"/>
<path d="M1067.9 528.3 L1067.9 839.5 L1069.7 844.0 L1068.6 846.3 L1067.9 875.7 L1070.8 884.8 L1077.6 887.0 L1075.4 889.3 L1082.1 891.5 L1077.6 894.9 L1073.1 896.1 L1079.9 898.3 L1070.8 900.6 L1069.7 905.1 L1073.1 909.6 L1078.8 914.2 L1073.1 916.4 L1069.7 918.7 L1072.0 923.2 L1073.1 927.7 L1070.8 930.0 L1074.2 934.5 L1076.5 939.0 L1075.4 945.8 L1072.0 950.4 L1068.6 957.1 L1067.9 962.8" fill="none" stroke="#ff7f0e" stroke-width="2.80" stroke-linejoin="round" stroke-linecap="butt" clip-path="url(#cD)"/>
<path d="M1273.5 528.6 C1273.4 532.0 1273.2 541.0 1273.0 548.9 C1272.8 556.8 1272.8 569.7 1272.3 576.1 C1271.8 582.5 1270.7 582.5 1270.1 587.4 C1269.5 592.3 1269.3 600.2 1268.9 605.5 C1268.5 610.8 1268.4 615.0 1267.8 619.1 C1267.2 623.2 1266.4 627.0 1265.5 630.4 C1264.6 633.8 1263.3 636.1 1262.2 639.5 C1261.1 642.9 1259.5 645.1 1258.8 650.8 C1258.1 656.4 1258.2 658.5 1258.1 673.4 C1258.0 688.3 1258.1 722.5 1258.1 740.0 C1258.1 757.5 1258.5 771.0 1258.1 778.5 C1257.6 786.0 1256.3 782.3 1255.4 785.3 C1254.5 788.3 1253.1 789.1 1252.6 796.6 C1252.1 804.1 1252.7 821.1 1252.6 830.5 C1252.5 839.9 1252.5 847.8 1252.0 853.1 C1251.5 858.4 1250.5 859.2 1249.7 862.2 C1248.9 865.2 1248.4 867.5 1247.4 871.3 C1246.5 875.1 1245.7 881.0 1244.0 884.8 C1242.3 888.6 1239.5 891.4 1237.3 893.9 C1235.0 896.4 1232.1 898.0 1230.5 899.5 C1228.9 901.0 1228.4 901.2 1227.8 902.9 C1227.2 904.6 1227.8 907.4 1227.1 909.7 C1226.4 912.0 1224.7 914.2 1223.7 916.5 C1222.8 918.8 1222.4 920.6 1221.4 923.3 C1220.5 925.9 1219.5 929.8 1218.0 932.4 C1216.5 935.0 1214.5 937.0 1212.4 939.1 C1210.3 941.2 1207.5 943.1 1205.6 944.8 C1203.7 946.5 1202.0 948.0 1201.1 949.3 C1200.1 950.6 1200.1 952.1 1199.9 952.7" fill="none" stroke="#ff7f0e" stroke-width="2.70" stroke-linejoin="round" stroke-linecap="butt" clip-path="url(#cD)"/>
<path d="M1200.6 529.7 L1202.2 537.6 L1204.4 544.4 L1212.4 547.8 L1219.2 548.9 L1242.9 552.3 L1214.6 553.5 L1201.1 555.7" fill="none" stroke="#1f77b4" stroke-width="2.20" stroke-linejoin="round" stroke-linecap="butt" clip-path="url(#cD)"/>
<path d="M1201.1 572.7 L1210.1 576.1 L1254.2 577.2 L1214.6 579.0 L1206.7 581.1 L1257.6 582.2 L1228.2 582.9 L1282.5 586.3 L1302.9 587.4 L1259.9 588.5 L1205.6 589.7 L1202.2 593.1 L1205.6 598.7 L1204.4 605.5 L1207.8 610.0 L1212.4 615.7 L1237.3 619.1 L1266.7 620.9 L1246.3 622.5 L1228.2 623.6 L1225.9 628.1 L1259.9 630.4 L1336.8 632.7 L1259.9 633.8 L1237.3 639.5 L1253.1 646.3 L1257.6 648.5 L1223.7 650.8 L1210.1 655.3 L1201.1 657.6" fill="none" stroke="#1f77b4" stroke-width="2.20" stroke-linejoin="round" stroke-linecap="butt" clip-path="url(#cD)"/>
<path d="M1201.1 776.2 L1219.2 778.5 L1279.1 780.3 L1214.6 781.9 L1207.8 784.1 L1210.1 788.7 L1221.4 793.2 L1263.3 794.3 L1219.2 796.1 L1201.1 797.7" fill="none" stroke="#1f77b4" stroke-width="2.20" stroke-linejoin="round" stroke-linecap="butt" clip-path="url(#cD)"/>
<path d="M1201.1 832.8 L1203.3 835.0 L1204.4 839.6 L1210.1 843.0 L1228.2 843.4 L1205.6 844.1 L1201.1 845.2" fill="none" stroke="#1f77b4" stroke-width="2.20" stroke-linejoin="round" stroke-linecap="butt" clip-path="url(#cD)"/>
<path d="M1201.1 855.4 L1214.6 857.7 L1229.3 858.8 L1252.0 861.1 L1219.2 862.2 L1207.8 864.5 L1203.3 869.0 L1203.3 875.8 L1210.1 881.4 L1212.4 884.8 L1223.7 887.1 L1214.6 889.4 L1253.1 891.6 L1223.7 893.9 L1250.8 895.0 L1214.6 897.3 L1228.2 899.5 L1267.8 901.1 L1214.6 902.9 L1205.6 904.1 L1201.1 905.2 L1205.6 907.5 L1213.5 914.2 L1207.8 917.6 L1201.1 918.8 L1203.3 921.0 L1211.2 923.3 L1205.6 925.6 L1203.3 930.1 L1210.1 932.4 L1214.6 934.6 L1212.4 939.1 L1213.5 943.7 L1207.8 947.1 L1202.2 948.2 L1199.9 951.6" fill="none" stroke="#1f77b4" stroke-width="2.20" stroke-linejoin="round" stroke-linecap="butt" clip-path="url(#cD)"/>
<line x1="142.50" y1="9.05" x2="142.50" y2="456.60" stroke="#000" stroke-width="2.60"/>
<line x1="171.70" y1="9.05" x2="171.70" y2="456.60" stroke="#000" stroke-width="2.60"/>
<line x1="192.60" y1="9.05" x2="192.60" y2="456.60" stroke="#000" stroke-width="2.60"/>
<line x1="254.40" y1="9.05" x2="254.40" y2="456.60" stroke="#000" stroke-width="2.60"/>
<line x1="304.50" y1="9.05" x2="304.50" y2="456.60" stroke="#000" stroke-width="2.60"/>
<line x1="340.30" y1="9.05" x2="340.30" y2="456.60" stroke="#000" stroke-width="2.60"/>
<line x1="361.30" y1="9.05" x2="361.30" y2="456.60" stroke="#000" stroke-width="2.60"/>
<line x1="403.50" y1="9.05" x2="403.50" y2="456.60" stroke="#000" stroke-width="2.60"/>
<line x1="439.90" y1="9.05" x2="439.90" y2="456.60" stroke="#000" stroke-width="4.00"/>
<line x1="461.60" y1="9.05" x2="461.60" y2="456.60" stroke="#000" stroke-width="2.60"/>
<line x1="84.50" y1="188.07" x2="587.40" y2="188.07" stroke="#d62728" stroke-width="2.00"/>
<rect x="84.50" y="9.05" width="502.90" height="447.55" fill="none" stroke="#000" stroke-width="2.50"/>
<line x1="139.60" y1="509.50" x2="139.60" y2="957.10" stroke="#000" stroke-width="2.60"/>
<line x1="169.00" y1="509.50" x2="169.00" y2="957.10" stroke="#000" stroke-width="2.60"/>
<line x1="190.10" y1="509.50" x2="190.10" y2="957.10" stroke="#000" stroke-width="2.60"/>
<line x1="252.10" y1="509.50" x2="252.10" y2="957.10" stroke="#000" stroke-width="2.60"/>
<line x1="302.40" y1="509.50" x2="302.40" y2="957.10" stroke="#000" stroke-width="2.60"/>
<line x1="338.00" y1="509.50" x2="338.00" y2="957.10" stroke="#000" stroke-width="2.60"/>
<line x1="359.40" y1="509.50" x2="359.40" y2="957.10" stroke="#000" stroke-width="2.60"/>
<line x1="400.60" y1="509.50" x2="400.60" y2="957.10" stroke="#000" stroke-width="2.60"/>
<line x1="436.80" y1="509.50" x2="436.80" y2="957.10" stroke="#000" stroke-width="4.00"/>
<line x1="458.50" y1="509.50" x2="458.50" y2="957.10" stroke="#000" stroke-width="2.60"/>
<line x1="81.40" y1="688.54" x2="584.20" y2="688.54" stroke="#d62728" stroke-width="2.00"/>
<rect x="81.40" y="509.50" width="502.80" height="447.60" fill="none" stroke="#000" stroke-width="2.50"/>
<line x1="778.00" y1="7.45" x2="778.00" y2="459.40" stroke="#000" stroke-width="2.60"/>
<line x1="804.40" y1="7.45" x2="804.40" y2="459.40" stroke="#000" stroke-width="2.60"/>
<line x1="823.40" y1="7.45" x2="823.40" y2="459.40" stroke="#000" stroke-width="2.60"/>
<line x1="880.00" y1="7.45" x2="880.00" y2="459.40" stroke="#000" stroke-width="2.60"/>
<line x1="925.50" y1="7.45" x2="925.50" y2="459.40" stroke="#000" stroke-width="2.60"/>
<line x1="957.50" y1="7.45" x2="957.50" y2="459.40" stroke="#000" stroke-width="2.60"/>
<line x1="977.10" y1="7.45" x2="977.10" y2="459.40" stroke="#000" stroke-width="2.60"/>
<line x1="1015.50" y1="7.45" x2="1015.50" y2="459.40" stroke="#000" stroke-width="2.60"/>
<line x1="1048.30" y1="7.45" x2="1048.30" y2="459.40" stroke="#000" stroke-width="4.00"/>
<line x1="1068.40" y1="7.45" x2="1068.40" y2="459.40" stroke="#000" stroke-width="3.20"/>
<line x1="1206.50" y1="7.45" x2="1206.50" y2="459.40" stroke="#000" stroke-width="2.50"/>
<rect x="725.50" y="7.45" width="618.50" height="451.95" fill="none" stroke="#000" stroke-width="2.50"/>
<line x1="772.30" y1="508.30" x2="772.30" y2="964.20" stroke="#000" stroke-width="2.60"/>
<line x1="798.90" y1="508.30" x2="798.90" y2="964.20" stroke="#000" stroke-width="2.60"/>
<line x1="818.00" y1="508.30" x2="818.00" y2="964.20" stroke="#000" stroke-width="2.60"/>
<line x1="873.70" y1="508.30" x2="873.70" y2="964.20" stroke="#000" stroke-width="2.60"/>
<line x1="919.50" y1="508.30" x2="919.50" y2="964.20" stroke="#000" stroke-width="2.60"/>
<line x1="952.30" y1="508.30" x2="952.30" y2="964.20" stroke="#000" stroke-width="2.60"/>
<line x1="971.30" y1="508.30" x2="971.30" y2="964.20" stroke="#000" stroke-width="2.60"/>
<line x1="1008.10" y1="508.30" x2="1008.10" y2="964.20" stroke="#000" stroke-width="2.60"/>
<line x1="1041.10" y1="508.30" x2="1041.10" y2="964.20" stroke="#000" stroke-width="4.00"/>
<line x1="1061.00" y1="508.30" x2="1061.00" y2="964.20" stroke="#000" stroke-width="3.20"/>
<line x1="1198.50" y1="508.30" x2="1198.50" y2="964.20" stroke="#000" stroke-width="2.50"/>
<rect x="719.50" y="508.30" width="616.00" height="455.90" fill="none" stroke="#000" stroke-width="2.50"/>
<path d="M1075.1 27.6 L1075.1 458.5" fill="none" stroke="#d62728" stroke-width="2.70" stroke-linejoin="round" stroke-linecap="butt" clip-path="url(#cC)"/>
<line x1="80.30" y1="9.05" x2="84.50" y2="9.05" stroke="#000" stroke-width="1.60"/>
<text transform="translate(76.00,19.90) scale(1.0940,1.0000)" x="0" y="0" font-size="29.15" text-anchor="end" fill="#000" font-family='"Liberation Sans", sans-serif' stroke="#000" stroke-width="0.3">4</text>
<line x1="80.30" y1="98.56" x2="84.50" y2="98.56" stroke="#000" stroke-width="1.60"/>
<text transform="translate(76.00,109.41) scale(1.0940,1.0000)" x="0" y="0" font-size="29.15" text-anchor="end" fill="#000" font-family='"Liberation Sans", sans-serif' stroke="#000" stroke-width="0.3">2</text>
<line x1="80.30" y1="188.07" x2="84.50" y2="188.07" stroke="#000" stroke-width="1.60"/>
<text transform="translate(76.00,198.92) scale(1.0940,1.0000)" x="0" y="0" font-size="29.15" text-anchor="end" fill="#000" font-family='"Liberation Sans", sans-serif' stroke="#000" stroke-width="0.3">0</text>
<line x1="80.30" y1="277.58" x2="84.50" y2="277.58" stroke="#000" stroke-width="1.60"/>
<text transform="translate(76.00,288.43) scale(1.1940,1.0000)" x="0" y="0" font-size="29.15" text-anchor="end" fill="#000" font-family='"Liberation Sans", sans-serif' stroke="#000" stroke-width="0.3">−2</text>
<line x1="80.30" y1="367.09" x2="84.50" y2="367.09" stroke="#000" stroke-width="1.60"/>
<text transform="translate(76.00,377.94) scale(1.1940,1.0000)" x="0" y="0" font-size="29.15" text-anchor="end" fill="#000" font-family='"Liberation Sans", sans-serif' stroke="#000" stroke-width="0.3">−4</text>
<line x1="80.30" y1="456.60" x2="84.50" y2="456.60" stroke="#000" stroke-width="1.60"/>
<text transform="translate(76.00,467.45) scale(1.1940,1.0000)" x="0" y="0" font-size="29.15" text-anchor="end" fill="#000" font-family='"Liberation Sans", sans-serif' stroke="#000" stroke-width="0.3">−6</text>
<line x1="77.20" y1="509.50" x2="81.40" y2="509.50" stroke="#000" stroke-width="1.60"/>
<text transform="translate(72.90,520.35) scale(1.0940,1.0000)" x="0" y="0" font-size="29.15" text-anchor="end" fill="#000" font-family='"Liberation Sans", sans-serif' stroke="#000" stroke-width="0.3">4</text>
<line x1="77.20" y1="599.02" x2="81.40" y2="599.02" stroke="#000" stroke-width="1.60"/>
<text transform="translate(72.90,609.87) scale(1.0940,1.0000)" x="0" y="0" font-size="29.15" text-anchor="end" fill="#000" font-family='"Liberation Sans", sans-serif' stroke="#000" stroke-width="0.3">2</text>
<line x1="77.20" y1="688.54" x2="81.40" y2="688.54" stroke="#000" stroke-width="1.60"/>
<text transform="translate(72.90,699.39) scale(1.0940,1.0000)" x="0" y="0" font-size="29.15" text-anchor="end" fill="#000" font-family='"Liberation Sans", sans-serif' stroke="#000" stroke-width="0.3">0</text>
<line x1="77.20" y1="778.06" x2="81.40" y2="778.06" stroke="#000" stroke-width="1.60"/>
<text transform="translate(72.90,788.91) scale(1.1940,1.0000)" x="0" y="0" font-size="29.15" text-anchor="end" fill="#000" font-family='"Liberation Sans", sans-serif' stroke="#000" stroke-width="0.3">−2</text>
<line x1="77.20" y1="867.58" x2="81.40" y2="867.58" stroke="#000" stroke-width="1.60"/>
<text transform="translate(72.90,878.43) scale(1.1940,1.0000)" x="0" y="0" font-size="29.15" text-anchor="end" fill="#000" font-family='"Liberation Sans", sans-serif' stroke="#000" stroke-width="0.3">−4</text>
<line x1="77.20" y1="957.10" x2="81.40" y2="957.10" stroke="#000" stroke-width="1.60"/>
<text transform="translate(72.90,967.95) scale(1.1940,1.0000)" x="0" y="0" font-size="29.15" text-anchor="end" fill="#000" font-family='"Liberation Sans", sans-serif' stroke="#000" stroke-width="0.3">−6</text>
<line x1="721.30" y1="459.30" x2="725.50" y2="459.30" stroke="#000" stroke-width="1.60"/>
<text transform="translate(717.00,470.15) scale(1.0940,1.0000)" x="0" y="0" font-size="29.15" text-anchor="end" fill="#000" font-family='"Liberation Sans", sans-serif' stroke="#000" stroke-width="0.3">0</text>
<line x1="721.30" y1="347.55" x2="725.50" y2="347.55" stroke="#000" stroke-width="1.60"/>
<text transform="translate(717.00,358.40) scale(1.0940,1.0000)" x="0" y="0" font-size="29.15" text-anchor="end" fill="#000" font-family='"Liberation Sans", sans-serif' stroke="#000" stroke-width="0.3">500</text>
<line x1="721.30" y1="235.80" x2="725.50" y2="235.80" stroke="#000" stroke-width="1.60"/>
<text transform="translate(717.00,246.65) scale(1.0940,1.0000)" x="0" y="0" font-size="29.15" text-anchor="end" fill="#000" font-family='"Liberation Sans", sans-serif' stroke="#000" stroke-width="0.3">1000</text>
<line x1="721.30" y1="124.05" x2="725.50" y2="124.05" stroke="#000" stroke-width="1.60"/>
<text transform="translate(717.00,134.90) scale(1.0940,1.0000)" x="0" y="0" font-size="29.15" text-anchor="end" fill="#000" font-family='"Liberation Sans", sans-serif' stroke="#000" stroke-width="0.3">1500</text>
<line x1="721.30" y1="12.30" x2="725.50" y2="12.30" stroke="#000" stroke-width="1.60"/>
<text transform="translate(717.00,23.15) scale(1.0940,1.0000)" x="0" y="0" font-size="29.15" text-anchor="end" fill="#000" font-family='"Liberation Sans", sans-serif' stroke="#000" stroke-width="0.3">2000</text>
<line x1="715.30" y1="964.20" x2="719.50" y2="964.20" stroke="#000" stroke-width="1.60"/>
<text transform="translate(711.00,975.05) scale(1.0940,1.0000)" x="0" y="0" font-size="29.15" text-anchor="end" fill="#000" font-family='"Liberation Sans", sans-serif' stroke="#000" stroke-width="0.3">0</text>
<line x1="715.30" y1="862.93" x2="719.50" y2="862.93" stroke="#000" stroke-width="1.60"/>
<text transform="translate(711.00,873.78) scale(1.0940,1.0000)" x="0" y="0" font-size="29.15" text-anchor="end" fill="#000" font-family='"Liberation Sans", sans-serif' stroke="#000" stroke-width="0.3">500</text>
<line x1="715.30" y1="761.65" x2="719.50" y2="761.65" stroke="#000" stroke-width="1.60"/>
<text transform="translate(711.00,772.50) scale(1.0940,1.0000)" x="0" y="0" font-size="29.15" text-anchor="end" fill="#000" font-family='"Liberation Sans", sans-serif' stroke="#000" stroke-width="0.3">1000</text>
<line x1="715.30" y1="660.38" x2="719.50" y2="660.38" stroke="#000" stroke-width="1.60"/>
<text transform="translate(711.00,671.23) scale(1.0940,1.0000)" x="0" y="0" font-size="29.15" text-anchor="end" fill="#000" font-family='"Liberation Sans", sans-serif' stroke="#000" stroke-width="0.3">1500</text>
<line x1="715.30" y1="559.10" x2="719.50" y2="559.10" stroke="#000" stroke-width="1.60"/>
<text transform="translate(711.00,569.95) scale(1.0940,1.0000)" x="0" y="0" font-size="29.15" text-anchor="end" fill="#000" font-family='"Liberation Sans", sans-serif' stroke="#000" stroke-width="0.3">2000</text>
<line x1="84.50" y1="456.60" x2="84.50" y2="460.80" stroke="#000" stroke-width="1.60"/>
<line x1="142.50" y1="456.60" x2="142.50" y2="460.80" stroke="#000" stroke-width="1.60"/>
<line x1="171.70" y1="456.60" x2="171.70" y2="460.80" stroke="#000" stroke-width="1.60"/>
<line x1="192.60" y1="456.60" x2="192.60" y2="460.80" stroke="#000" stroke-width="1.60"/>
<line x1="254.40" y1="456.60" x2="254.40" y2="460.80" stroke="#000" stroke-width="1.60"/>
<line x1="304.50" y1="456.60" x2="304.50" y2="460.80" stroke="#000" stroke-width="1.60"/>
<line x1="340.30" y1="456.60" x2="340.30" y2="460.80" stroke="#000" stroke-width="1.60"/>
<line x1="361.30" y1="456.60" x2="361.30" y2="460.80" stroke="#000" stroke-width="1.60"/>
<line x1="403.50" y1="456.60" x2="403.50" y2="460.80" stroke="#000" stroke-width="1.60"/>
<line x1="439.90" y1="456.60" x2="439.90" y2="460.80" stroke="#000" stroke-width="1.60"/>
<line x1="461.60" y1="456.60" x2="461.60" y2="460.80" stroke="#000" stroke-width="1.60"/>
<text transform="translate(85.10,485.00) scale(1.0000,1.0000)" x="0" y="0" font-size="28.40" text-anchor="middle" fill="#000" font-family='"Liberation Sans", sans-serif' stroke="#000" stroke-width="0.3">Γ</text>
<text transform="translate(142.50,485.00) scale(1.0000,1.0000)" x="0" y="0" font-size="28.40" text-anchor="middle" fill="#000" font-family='"Liberation Sans", sans-serif' stroke="#000" stroke-width="0.3">X</text>
<text transform="translate(171.70,485.00) scale(1.0000,1.0000)" x="0" y="0" font-size="28.40" text-anchor="middle" fill="#000" font-family='"Liberation Sans", sans-serif' stroke="#000" stroke-width="0.3">W</text>
<text transform="translate(192.60,485.00) scale(1.0000,1.0000)" x="0" y="0" font-size="28.40" text-anchor="middle" fill="#000" font-family='"Liberation Sans", sans-serif' stroke="#000" stroke-width="0.3">K</text>
<text transform="translate(255.00,485.00) scale(1.0000,1.0000)" x="0" y="0" font-size="28.40" text-anchor="middle" fill="#000" font-family='"Liberation Sans", sans-serif' stroke="#000" stroke-width="0.3">Γ</text>
<text transform="translate(304.50,485.00) scale(1.0000,1.0000)" x="0" y="0" font-size="28.40" text-anchor="middle" fill="#000" font-family='"Liberation Sans", sans-serif' stroke="#000" stroke-width="0.3">L</text>
<text transform="translate(340.30,485.00) scale(1.0000,1.0000)" x="0" y="0" font-size="28.40" text-anchor="middle" fill="#000" font-family='"Liberation Sans", sans-serif' stroke="#000" stroke-width="0.3">U</text>
<text transform="translate(361.30,485.00) scale(1.0000,1.0000)" x="0" y="0" font-size="28.40" text-anchor="middle" fill="#000" font-family='"Liberation Sans", sans-serif' stroke="#000" stroke-width="0.3">W</text>
<text transform="translate(403.50,485.00) scale(1.0000,1.0000)" x="0" y="0" font-size="28.40" text-anchor="middle" fill="#000" font-family='"Liberation Sans", sans-serif' stroke="#000" stroke-width="0.3">L</text>
<text transform="translate(438.90,485.00) scale(1.0000,1.0000)" x="0" y="0" font-size="28.40" text-anchor="middle" fill="#000" font-family='"Liberation Sans", sans-serif' stroke="#000" stroke-width="0.3">KU</text>
<text transform="translate(461.60,485.00) scale(1.0000,1.0000)" x="0" y="0" font-size="28.40" text-anchor="middle" fill="#000" font-family='"Liberation Sans", sans-serif' stroke="#000" stroke-width="0.3">X</text>
<line x1="81.40" y1="957.10" x2="81.40" y2="961.30" stroke="#000" stroke-width="1.60"/>
<line x1="139.60" y1="957.10" x2="139.60" y2="961.30" stroke="#000" stroke-width="1.60"/>
<line x1="169.00" y1="957.10" x2="169.00" y2="961.30" stroke="#000" stroke-width="1.60"/>
<line x1="190.10" y1="957.10" x2="190.10" y2="961.30" stroke="#000" stroke-width="1.60"/>
<line x1="252.10" y1="957.10" x2="252.10" y2="961.30" stroke="#000" stroke-width="1.60"/>
<line x1="302.40" y1="957.10" x2="302.40" y2="961.30" stroke="#000" stroke-width="1.60"/>
<line x1="338.00" y1="957.10" x2="338.00" y2="961.30" stroke="#000" stroke-width="1.60"/>
<line x1="359.40" y1="957.10" x2="359.40" y2="961.30" stroke="#000" stroke-width="1.60"/>
<line x1="400.60" y1="957.10" x2="400.60" y2="961.30" stroke="#000" stroke-width="1.60"/>
<line x1="436.80" y1="957.10" x2="436.80" y2="961.30" stroke="#000" stroke-width="1.60"/>
<line x1="458.50" y1="957.10" x2="458.50" y2="961.30" stroke="#000" stroke-width="1.60"/>
<text transform="translate(82.00,985.90) scale(1.0000,1.0000)" x="0" y="0" font-size="28.40" text-anchor="middle" fill="#000" font-family='"Liberation Sans", sans-serif' stroke="#000" stroke-width="0.3">Γ</text>
<text transform="translate(139.60,985.90) scale(1.0000,1.0000)" x="0" y="0" font-size="28.40" text-anchor="middle" fill="#000" font-family='"Liberation Sans", sans-serif' stroke="#000" stroke-width="0.3">X</text>
<text transform="translate(169.00,985.90) scale(1.0000,1.0000)" x="0" y="0" font-size="28.40" text-anchor="middle" fill="#000" font-family='"Liberation Sans", sans-serif' stroke="#000" stroke-width="0.3">W</text>
<text transform="translate(190.10,985.90) scale(1.0000,1.0000)" x="0" y="0" font-size="28.40" text-anchor="middle" fill="#000" font-family='"Liberation Sans", sans-serif' stroke="#000" stroke-width="0.3">K</text>
<text transform="translate(252.70,985.90) scale(1.0000,1.0000)" x="0" y="0" font-size="28.40" text-anchor="middle" fill="#000" font-family='"Liberation Sans", sans-serif' stroke="#000" stroke-width="0.3">Γ</text>
<text transform="translate(302.40,985.90) scale(1.0000,1.0000)" x="0" y="0" font-size="28.40" text-anchor="middle" fill="#000" font-family='"Liberation Sans", sans-serif' stroke="#000" stroke-width="0.3">L</text>
<text transform="translate(338.00,985.90) scale(1.0000,1.0000)" x="0" y="0" font-size="28.40" text-anchor="middle" fill="#000" font-family='"Liberation Sans", sans-serif' stroke="#000" stroke-width="0.3">U</text>
<text transform="translate(359.40,985.90) scale(1.0000,1.0000)" x="0" y="0" font-size="28.40" text-anchor="middle" fill="#000" font-family='"Liberation Sans", sans-serif' stroke="#000" stroke-width="0.3">W</text>
<text transform="translate(400.60,985.90) scale(1.0000,1.0000)" x="0" y="0" font-size="28.40" text-anchor="middle" fill="#000" font-family='"Liberation Sans", sans-serif' stroke="#000" stroke-width="0.3">L</text>
<text transform="translate(435.80,985.90) scale(1.0000,1.0000)" x="0" y="0" font-size="28.40" text-anchor="middle" fill="#000" font-family='"Liberation Sans", sans-serif' stroke="#000" stroke-width="0.3">KU</text>
<text transform="translate(458.50,985.90) scale(1.0000,1.0000)" x="0" y="0" font-size="28.40" text-anchor="middle" fill="#000" font-family='"Liberation Sans", sans-serif' stroke="#000" stroke-width="0.3">X</text>
<line x1="725.50" y1="459.40" x2="725.50" y2="463.60" stroke="#000" stroke-width="1.60"/>
<line x1="778.00" y1="459.40" x2="778.00" y2="463.60" stroke="#000" stroke-width="1.60"/>
<line x1="804.40" y1="459.40" x2="804.40" y2="463.60" stroke="#000" stroke-width="1.60"/>
<line x1="823.40" y1="459.40" x2="823.40" y2="463.60" stroke="#000" stroke-width="1.60"/>
<line x1="880.00" y1="459.40" x2="880.00" y2="463.60" stroke="#000" stroke-width="1.60"/>
<line x1="925.50" y1="459.40" x2="925.50" y2="463.60" stroke="#000" stroke-width="1.60"/>
<line x1="957.50" y1="459.40" x2="957.50" y2="463.60" stroke="#000" stroke-width="1.60"/>
<line x1="977.10" y1="459.40" x2="977.10" y2="463.60" stroke="#000" stroke-width="1.60"/>
<line x1="1015.50" y1="459.40" x2="1015.50" y2="463.60" stroke="#000" stroke-width="1.60"/>
<line x1="1048.30" y1="459.40" x2="1048.30" y2="463.60" stroke="#000" stroke-width="1.60"/>
<line x1="1068.40" y1="459.40" x2="1068.40" y2="463.60" stroke="#000" stroke-width="1.60"/>
<text transform="translate(726.10,487.90) scale(1.0000,1.0000)" x="0" y="0" font-size="28.40" text-anchor="middle" fill="#000" font-family='"Liberation Sans", sans-serif' stroke="#000" stroke-width="0.3">Γ</text>
<text transform="translate(778.00,487.90) scale(1.0000,1.0000)" x="0" y="0" font-size="28.40" text-anchor="middle" fill="#000" font-family='"Liberation Sans", sans-serif' stroke="#000" stroke-width="0.3">X</text>
<text transform="translate(804.40,487.90) scale(1.0000,1.0000)" x="0" y="0" font-size="28.40" text-anchor="middle" fill="#000" font-family='"Liberation Sans", sans-serif' stroke="#000" stroke-width="0.3">W</text>
<text transform="translate(823.40,487.90) scale(1.0000,1.0000)" x="0" y="0" font-size="28.40" text-anchor="middle" fill="#000" font-family='"Liberation Sans", sans-serif' stroke="#000" stroke-width="0.3">K</text>
<text transform="translate(880.60,487.90) scale(1.0000,1.0000)" x="0" y="0" font-size="28.40" text-anchor="middle" fill="#000" font-family='"Liberation Sans", sans-serif' stroke="#000" stroke-width="0.3">Γ</text>
<text transform="translate(925.50,487.90) scale(1.0000,1.0000)" x="0" y="0" font-size="28.40" text-anchor="middle" fill="#000" font-family='"Liberation Sans", sans-serif' stroke="#000" stroke-width="0.3">L</text>
<text transform="translate(957.50,487.90) scale(1.0000,1.0000)" x="0" y="0" font-size="28.40" text-anchor="middle" fill="#000" font-family='"Liberation Sans", sans-serif' stroke="#000" stroke-width="0.3">U</text>
<text transform="translate(977.10,487.90) scale(1.0000,1.0000)" x="0" y="0" font-size="28.40" text-anchor="middle" fill="#000" font-family='"Liberation Sans", sans-serif' stroke="#000" stroke-width="0.3">W</text>
<text transform="translate(1015.50,487.90) scale(1.0000,1.0000)" x="0" y="0" font-size="28.40" text-anchor="middle" fill="#000" font-family='"Liberation Sans", sans-serif' stroke="#000" stroke-width="0.3">L</text>
<text transform="translate(1047.30,487.90) scale(1.0000,1.0000)" x="0" y="0" font-size="28.40" text-anchor="middle" fill="#000" font-family='"Liberation Sans", sans-serif' stroke="#000" stroke-width="0.3">KU</text>
<text transform="translate(1068.40,487.90) scale(1.0000,1.0000)" x="0" y="0" font-size="28.40" text-anchor="middle" fill="#000" font-family='"Liberation Sans", sans-serif' stroke="#000" stroke-width="0.3">X</text>
<line x1="719.50" y1="964.20" x2="719.50" y2="968.40" stroke="#000" stroke-width="1.60"/>
<line x1="772.30" y1="964.20" x2="772.30" y2="968.40" stroke="#000" stroke-width="1.60"/>
<line x1="798.90" y1="964.20" x2="798.90" y2="968.40" stroke="#000" stroke-width="1.60"/>
<line x1="818.00" y1="964.20" x2="818.00" y2="968.40" stroke="#000" stroke-width="1.60"/>
<line x1="873.70" y1="964.20" x2="873.70" y2="968.40" stroke="#000" stroke-width="1.60"/>
<line x1="919.50" y1="964.20" x2="919.50" y2="968.40" stroke="#000" stroke-width="1.60"/>
<line x1="952.30" y1="964.20" x2="952.30" y2="968.40" stroke="#000" stroke-width="1.60"/>
<line x1="971.30" y1="964.20" x2="971.30" y2="968.40" stroke="#000" stroke-width="1.60"/>
<line x1="1008.10" y1="964.20" x2="1008.10" y2="968.40" stroke="#000" stroke-width="1.60"/>
<line x1="1041.10" y1="964.20" x2="1041.10" y2="968.40" stroke="#000" stroke-width="1.60"/>
<line x1="1061.00" y1="964.20" x2="1061.00" y2="968.40" stroke="#000" stroke-width="1.60"/>
<text transform="translate(720.10,992.70) scale(1.0000,1.0000)" x="0" y="0" font-size="28.40" text-anchor="middle" fill="#000" font-family='"Liberation Sans", sans-serif' stroke="#000" stroke-width="0.3">Γ</text>
<text transform="translate(772.30,992.70) scale(1.0000,1.0000)" x="0" y="0" font-size="28.40" text-anchor="middle" fill="#000" font-family='"Liberation Sans", sans-serif' stroke="#000" stroke-width="0.3">X</text>
<text transform="translate(798.90,992.70) scale(1.0000,1.0000)" x="0" y="0" font-size="28.40" text-anchor="middle" fill="#000" font-family='"Liberation Sans", sans-serif' stroke="#000" stroke-width="0.3">W</text>
<text transform="translate(818.00,992.70) scale(1.0000,1.0000)" x="0" y="0" font-size="28.40" text-anchor="middle" fill="#000" font-family='"Liberation Sans", sans-serif' stroke="#000" stroke-width="0.3">K</text>
<text transform="translate(874.30,992.70) scale(1.0000,1.0000)" x="0" y="0" font-size="28.40" text-anchor="middle" fill="#000" font-family='"Liberation Sans", sans-serif' stroke="#000" stroke-width="0.3">Γ</text>
<text transform="translate(919.50,992.70) scale(1.0000,1.0000)" x="0" y="0" font-size="28.40" text-anchor="middle" fill="#000" font-family='"Liberation Sans", sans-serif' stroke="#000" stroke-width="0.3">L</text>
<text transform="translate(952.30,992.70) scale(1.0000,1.0000)" x="0" y="0" font-size="28.40" text-anchor="middle" fill="#000" font-family='"Liberation Sans", sans-serif' stroke="#000" stroke-width="0.3">U</text>
<text transform="translate(971.30,992.70) scale(1.0000,1.0000)" x="0" y="0" font-size="28.40" text-anchor="middle" fill="#000" font-family='"Liberation Sans", sans-serif' stroke="#000" stroke-width="0.3">W</text>
<text transform="translate(1008.10,992.70) scale(1.0000,1.0000)" x="0" y="0" font-size="28.40" text-anchor="middle" fill="#000" font-family='"Liberation Sans", sans-serif' stroke="#000" stroke-width="0.3">L</text>
<text transform="translate(1040.10,992.70) scale(1.0000,1.0000)" x="0" y="0" font-size="28.40" text-anchor="middle" fill="#000" font-family='"Liberation Sans", sans-serif' stroke="#000" stroke-width="0.3">KU</text>
<text transform="translate(1061.00,992.70) scale(1.0000,1.0000)" x="0" y="0" font-size="28.40" text-anchor="middle" fill="#000" font-family='"Liberation Sans", sans-serif' stroke="#000" stroke-width="0.3">X</text>
<line x1="1206.50" y1="459.40" x2="1206.50" y2="463.60" stroke="#000" stroke-width="1.60"/>
<text transform="translate(1206.50,488.70) scale(1.0940,1.0000)" x="0" y="0" font-size="29.15" text-anchor="middle" fill="#000" font-family='"Liberation Sans", sans-serif' stroke="#000" stroke-width="0.3">0</text>
<line x1="1344.00" y1="459.40" x2="1344.00" y2="463.60" stroke="#000" stroke-width="1.60"/>
<text transform="translate(1344.00,488.70) scale(1.0940,1.0000)" x="0" y="0" font-size="29.15" text-anchor="middle" fill="#000" font-family='"Liberation Sans", sans-serif' stroke="#000" stroke-width="0.3">2</text>
<line x1="1198.50" y1="964.20" x2="1198.50" y2="968.40" stroke="#000" stroke-width="1.60"/>
<text transform="translate(1198.50,993.50) scale(1.0940,1.0000)" x="0" y="0" font-size="29.15" text-anchor="middle" fill="#000" font-family='"Liberation Sans", sans-serif' stroke="#000" stroke-width="0.3">0</text>
<line x1="1335.50" y1="964.20" x2="1335.50" y2="968.40" stroke="#000" stroke-width="1.60"/>
<text transform="translate(1335.50,993.50) scale(1.0940,1.0000)" x="0" y="0" font-size="29.15" text-anchor="middle" fill="#000" font-family='"Liberation Sans", sans-serif' stroke="#000" stroke-width="0.3">2</text>
<text transform="translate(24.8,232.6) rotate(-90) scale(1.0900,1)" x="0" y="0" font-size="29.0" text-anchor="middle" fill="#000" font-family='"Liberation Sans", sans-serif' stroke="#000" stroke-width="0.3">Energy [eV]</text>
<text transform="translate(21.7,733.2) rotate(-90) scale(1.0930,1)" x="0" y="0" font-size="29.0" text-anchor="middle" fill="#000" font-family='"Liberation Sans", sans-serif' stroke="#000" stroke-width="0.3">Energy [eV]</text>
<text transform="translate(635.2,233.0) rotate(-90) scale(1.1250,1)" x="0" y="0" font-size="29.0" text-anchor="middle" fill="#000" font-family='"Liberation Sans", sans-serif' stroke="#000" stroke-width="0.3">Frequency [cm<tspan dy="-10" font-size="20">−1</tspan><tspan dy="10">]</tspan></text>
<text transform="translate(630.1,735.7) rotate(-90) scale(1.1200,1)" x="0" y="0" font-size="29.0" text-anchor="middle" fill="#000" font-family='"Liberation Sans", sans-serif' stroke="#000" stroke-width="0.3">Frequency [cm<tspan dy="-10" font-size="20">−1</tspan><tspan dy="10">]</tspan></text>
<text transform="translate(1.77,50.47) scale(0.4577,0.5291)" x="0" y="0" font-size="100" fill="#1a1a1a" font-family='"Liberation Sans", sans-serif' stroke="#1a1a1a" stroke-width="2.2">a</text>
<text transform="translate(37.70,46.96) scale(0.4000,0.4926)" x="0" y="0" font-size="100" fill="#1a1a1a" font-family='"Liberation Sans", sans-serif' stroke="#1a1a1a" stroke-width="2.2">)</text>
<text transform="translate(1.75,526.70) scale(0.5636,0.5479)" x="0" y="0" font-size="100" fill="#1a1a1a" font-family='"Liberation Sans", sans-serif' stroke="#1a1a1a" stroke-width="2.2">b</text>
<text transform="translate(38.80,522.66) scale(0.4000,0.4926)" x="0" y="0" font-size="100" fill="#1a1a1a" font-family='"Liberation Sans", sans-serif' stroke="#1a1a1a" stroke-width="2.2">)</text>
<rect x="92.6" y="257.8" width="173.8" height="56.0" rx="25" ry="25" fill="#cdcdcd" fill-opacity="0.665"/>
<text transform="translate(102.87,299.19) scale(0.3827,0.4113)" x="0" y="0" font-size="100" fill="#1a1a1a" font-family='"Liberation Sans", sans-serif'>80 GPa</text>
<rect x="95.6" y="771.2" width="173.7" height="56.1" rx="25" ry="25" fill="#cdcdcd" fill-opacity="0.665"/>
<text transform="translate(106.55,812.10) scale(0.3809,0.4000)" x="0" y="0" font-size="100" fill="#1a1a1a" font-family='"Liberation Sans", sans-serif'>160 GPa</text>
<line x1="491.60" y1="213.80" x2="505.70" y2="213.80" stroke="#1f77b4" stroke-width="2.00" stroke-linecap="round"/>
<text x="522.0" y="220.8" font-size="19.5" text-anchor="start" fill="#000" font-family='"Liberation Sans", sans-serif' >H</text>
<line x1="491.60" y1="241.80" x2="505.70" y2="241.80" stroke="#ff7f0e" stroke-width="2.00" stroke-linecap="round"/>
<text x="522.0" y="248.8" font-size="19.5" text-anchor="start" fill="#000" font-family='"Liberation Sans", sans-serif' >Ru</text>
<line x1="491.60" y1="270.00" x2="505.70" y2="270.00" stroke="#2ca02c" stroke-width="2.00" stroke-linecap="round"/>
<text x="522.0" y="277.0" font-size="19.5" text-anchor="start" fill="#000" font-family='"Liberation Sans", sans-serif' >Li</text>
<line x1="491.60" y1="298.10" x2="505.70" y2="298.10" stroke="#d62728" stroke-width="2.00" stroke-linecap="round"/>
<text x="522.0" y="305.1" font-size="19.5" text-anchor="start" fill="#000" font-family='"Liberation Sans", sans-serif' >Zr</text>
<line x1="491.60" y1="326.80" x2="505.70" y2="326.80" stroke="#000" stroke-width="2.00" stroke-linecap="round"/>
<text x="522.0" y="333.8" font-size="19.5" text-anchor="start" fill="#000" font-family='"Liberation Sans", sans-serif' >Total</text>
<line x1="494.50" y1="719.50" x2="509.00" y2="719.50" stroke="#1f77b4" stroke-width="2.00" stroke-linecap="round"/>
<text x="526.0" y="726.5" font-size="19.5" text-anchor="start" fill="#000" font-family='"Liberation Sans", sans-serif' >H</text>
<line x1="494.50" y1="747.80" x2="509.00" y2="747.80" stroke="#ff7f0e" stroke-width="2.00" stroke-linecap="round"/>
<text x="526.0" y="754.8" font-size="19.5" text-anchor="start" fill="#000" font-family='"Liberation Sans", sans-serif' >Ru</text>
<line x1="494.50" y1="776.20" x2="509.00" y2="776.20" stroke="#2ca02c" stroke-width="2.00" stroke-linecap="round"/>
<text x="526.0" y="783.2" font-size="19.5" text-anchor="start" fill="#000" font-family='"Liberation Sans", sans-serif' >Li</text>
<line x1="494.50" y1="804.50" x2="509.00" y2="804.50" stroke="#d62728" stroke-width="2.00" stroke-linecap="round"/>
<text x="526.0" y="811.5" font-size="19.5" text-anchor="start" fill="#000" font-family='"Liberation Sans", sans-serif' >Zr</text>
<line x1="494.50" y1="833.00" x2="509.00" y2="833.00" stroke="#000" stroke-width="2.00" stroke-linecap="round"/>
<text x="526.0" y="840.0" font-size="19.5" text-anchor="start" fill="#000" font-family='"Liberation Sans", sans-serif' >Total</text>
<line x1="1126.40" y1="144.40" x2="1142.70" y2="144.40" stroke="#1f77b4" stroke-width="2.00" stroke-linecap="round"/>
<text x="1160.5" y="152.5" font-size="22.5" text-anchor="start" fill="#000" font-family='"Liberation Sans", sans-serif' >H</text>
<line x1="1126.40" y1="175.90" x2="1142.70" y2="175.90" stroke="#ff7f0e" stroke-width="2.00" stroke-linecap="round"/>
<text x="1160.5" y="184.0" font-size="22.5" text-anchor="start" fill="#000" font-family='"Liberation Sans", sans-serif' >Ru</text>
<line x1="1126.40" y1="207.60" x2="1142.70" y2="207.60" stroke="#2ca02c" stroke-width="2.00" stroke-linecap="round"/>
<text x="1160.5" y="215.7" font-size="22.5" text-anchor="start" fill="#000" font-family='"Liberation Sans", sans-serif' >Li</text>
<line x1="1126.40" y1="239.30" x2="1142.70" y2="239.30" stroke="#d62728" stroke-width="2.00" stroke-linecap="round"/>
<text x="1160.5" y="247.4" font-size="22.5" text-anchor="start" fill="#000" font-family='"Liberation Sans", sans-serif' >Zr</text>
<line x1="1118.00" y1="656.00" x2="1134.30" y2="656.00" stroke="#1f77b4" stroke-width="2.00" stroke-linecap="round"/>
<text x="1152.0" y="664.1" font-size="22.5" text-anchor="start" fill="#000" font-family='"Liberation Sans", sans-serif' >H</text>
<line x1="1118.00" y1="687.50" x2="1134.30" y2="687.50" stroke="#ff7f0e" stroke-width="2.00" stroke-linecap="round"/>
<text x="1152.0" y="695.6" font-size="22.5" text-anchor="start" fill="#000" font-family='"Liberation Sans", sans-serif' >Ru</text>
<line x1="1118.00" y1="719.00" x2="1134.30" y2="719.00" stroke="#2ca02c" stroke-width="2.00" stroke-linecap="round"/>
<text x="1152.0" y="727.1" font-size="22.5" text-anchor="start" fill="#000" font-family='"Liberation Sans", sans-serif' >Li</text>
<line x1="1118.00" y1="750.50" x2="1134.30" y2="750.50" stroke="#d62728" stroke-width="2.00" stroke-linecap="round"/>
<text x="1152.0" y="758.6" font-size="22.5" text-anchor="start" fill="#000" font-family='"Liberation Sans", sans-serif' >Zr</text>
<line x1="1254.90" y1="415.00" x2="1269.50" y2="415.00" stroke="#1f77b4" stroke-width="2.5" stroke-linecap="round"/>
<line x1="1254.90" y1="443.40" x2="1269.50" y2="443.40" stroke="#ff7f0e" stroke-width="2.5" stroke-linecap="round"/>
<text x="1276.5" y="422.5" font-size="21" fill="#000" font-family='"Liberation Sans", sans-serif' textLength="62" lengthAdjust="spacingAndGlyphs">a<tspan dy="-8" font-size="15">2</tspan><tspan dy="8">F(</tspan><tspan font-style="italic">ω</tspan>)</text>
<text x="1275.0" y="450.9" font-size="21" fill="#000" font-family='"Liberation Sans", sans-serif' textLength="42" lengthAdjust="spacingAndGlyphs"><tspan font-style="italic">λ</tspan>(<tspan font-style="italic">ω</tspan>)</text>
<line x1="1246.20" y1="919.30" x2="1259.40" y2="919.30" stroke="#1f77b4" stroke-width="2.5" stroke-linecap="round"/>
<line x1="1246.20" y1="947.80" x2="1259.40" y2="947.80" stroke="#ff7f0e" stroke-width="2.5" stroke-linecap="round"/>
<text x="1267.0" y="926.8" font-size="21" fill="#000" font-family='"Liberation Sans", sans-serif' textLength="62" lengthAdjust="spacingAndGlyphs">a<tspan dy="-8" font-size="15">2</tspan><tspan dy="8">F(</tspan><tspan font-style="italic">ω</tspan>)</text>
<text x="1265.5" y="955.3" font-size="21" fill="#000" font-family='"Liberation Sans", sans-serif' textLength="42" lengthAdjust="spacingAndGlyphs"><tspan font-style="italic">λ</tspan>(<tspan font-style="italic">ω</tspan>)</text>
</svg>
</body></html>
